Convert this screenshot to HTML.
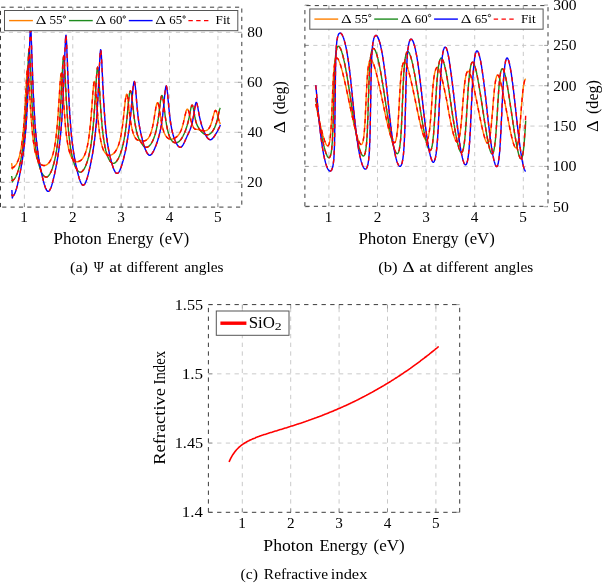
<!DOCTYPE html>
<html><head><meta charset="utf-8"><style>
html,body{margin:0;padding:0;background:#fff;}
body{width:602px;height:583px;overflow:hidden;}
svg{display:block;will-change:transform;}
text{font-family:"Liberation Serif",serif;font-kerning:none;}
</style></head><body>
<svg width="602" height="583" viewBox="0 0 602 583">
<line x1="24.40" y1="207.10" x2="24.40" y2="7.20" style="stroke:#c4c4c4;stroke-width:0.9;stroke-dasharray:4.175 4.175;"/>
<line x1="72.78" y1="207.10" x2="72.78" y2="7.20" style="stroke:#c4c4c4;stroke-width:0.9;stroke-dasharray:4.175 4.175;"/>
<line x1="121.15" y1="207.10" x2="121.15" y2="7.20" style="stroke:#c4c4c4;stroke-width:0.9;stroke-dasharray:4.175 4.175;"/>
<line x1="169.53" y1="207.10" x2="169.53" y2="7.20" style="stroke:#c4c4c4;stroke-width:0.9;stroke-dasharray:4.175 4.175;"/>
<line x1="217.90" y1="207.10" x2="217.90" y2="7.20" style="stroke:#c4c4c4;stroke-width:0.9;stroke-dasharray:4.175 4.175;"/>
<line x1="0.50" y1="182.30" x2="241.80" y2="182.30" style="stroke:#c4c4c4;stroke-width:0.9;stroke-dasharray:4.175 4.175;"/>
<line x1="0.50" y1="132.30" x2="241.80" y2="132.30" style="stroke:#c4c4c4;stroke-width:0.9;stroke-dasharray:4.175 4.175;"/>
<line x1="0.50" y1="82.30" x2="241.80" y2="82.30" style="stroke:#c4c4c4;stroke-width:0.9;stroke-dasharray:4.175 4.175;"/>
<line x1="0.50" y1="32.30" x2="241.80" y2="32.30" style="stroke:#c4c4c4;stroke-width:0.9;stroke-dasharray:4.175 4.175;"/>
<line x1="24.40" y1="207.10" x2="24.40" y2="203.30" style="stroke:#777;stroke-width:0.7;"/>
<line x1="24.40" y1="7.20" x2="24.40" y2="11.00" style="stroke:#777;stroke-width:0.7;"/>
<line x1="72.78" y1="207.10" x2="72.78" y2="203.30" style="stroke:#777;stroke-width:0.7;"/>
<line x1="72.78" y1="7.20" x2="72.78" y2="11.00" style="stroke:#777;stroke-width:0.7;"/>
<line x1="121.15" y1="207.10" x2="121.15" y2="203.30" style="stroke:#777;stroke-width:0.7;"/>
<line x1="121.15" y1="7.20" x2="121.15" y2="11.00" style="stroke:#777;stroke-width:0.7;"/>
<line x1="169.53" y1="207.10" x2="169.53" y2="203.30" style="stroke:#777;stroke-width:0.7;"/>
<line x1="169.53" y1="7.20" x2="169.53" y2="11.00" style="stroke:#777;stroke-width:0.7;"/>
<line x1="217.90" y1="207.10" x2="217.90" y2="203.30" style="stroke:#777;stroke-width:0.7;"/>
<line x1="217.90" y1="7.20" x2="217.90" y2="11.00" style="stroke:#777;stroke-width:0.7;"/>
<line x1="0.50" y1="182.30" x2="4.30" y2="182.30" style="stroke:#777;stroke-width:0.7;"/>
<line x1="241.80" y1="182.30" x2="238.00" y2="182.30" style="stroke:#777;stroke-width:0.7;"/>
<line x1="0.50" y1="132.30" x2="4.30" y2="132.30" style="stroke:#777;stroke-width:0.7;"/>
<line x1="241.80" y1="132.30" x2="238.00" y2="132.30" style="stroke:#777;stroke-width:0.7;"/>
<line x1="0.50" y1="82.30" x2="4.30" y2="82.30" style="stroke:#777;stroke-width:0.7;"/>
<line x1="241.80" y1="82.30" x2="238.00" y2="82.30" style="stroke:#777;stroke-width:0.7;"/>
<line x1="0.50" y1="32.30" x2="4.30" y2="32.30" style="stroke:#777;stroke-width:0.7;"/>
<line x1="241.80" y1="32.30" x2="238.00" y2="32.30" style="stroke:#777;stroke-width:0.7;"/>
<line x1="328.90" y1="206.30" x2="328.90" y2="5.60" style="stroke:#c4c4c4;stroke-width:0.9;stroke-dasharray:4.175 4.175;"/>
<line x1="377.50" y1="206.30" x2="377.50" y2="5.60" style="stroke:#c4c4c4;stroke-width:0.9;stroke-dasharray:4.175 4.175;"/>
<line x1="426.10" y1="206.30" x2="426.10" y2="5.60" style="stroke:#c4c4c4;stroke-width:0.9;stroke-dasharray:4.175 4.175;"/>
<line x1="474.70" y1="206.30" x2="474.70" y2="5.60" style="stroke:#c4c4c4;stroke-width:0.9;stroke-dasharray:4.175 4.175;"/>
<line x1="523.30" y1="206.30" x2="523.30" y2="5.60" style="stroke:#c4c4c4;stroke-width:0.9;stroke-dasharray:4.175 4.175;"/>
<line x1="304.90" y1="166.40" x2="548.00" y2="166.40" style="stroke:#c4c4c4;stroke-width:0.9;stroke-dasharray:4.175 4.175;"/>
<line x1="304.90" y1="126.07" x2="548.00" y2="126.07" style="stroke:#c4c4c4;stroke-width:0.9;stroke-dasharray:4.175 4.175;"/>
<line x1="304.90" y1="85.73" x2="548.00" y2="85.73" style="stroke:#c4c4c4;stroke-width:0.9;stroke-dasharray:4.175 4.175;"/>
<line x1="304.90" y1="45.40" x2="548.00" y2="45.40" style="stroke:#c4c4c4;stroke-width:0.9;stroke-dasharray:4.175 4.175;"/>
<line x1="328.90" y1="206.30" x2="328.90" y2="202.50" style="stroke:#777;stroke-width:0.7;"/>
<line x1="328.90" y1="5.60" x2="328.90" y2="9.40" style="stroke:#777;stroke-width:0.7;"/>
<line x1="377.50" y1="206.30" x2="377.50" y2="202.50" style="stroke:#777;stroke-width:0.7;"/>
<line x1="377.50" y1="5.60" x2="377.50" y2="9.40" style="stroke:#777;stroke-width:0.7;"/>
<line x1="426.10" y1="206.30" x2="426.10" y2="202.50" style="stroke:#777;stroke-width:0.7;"/>
<line x1="426.10" y1="5.60" x2="426.10" y2="9.40" style="stroke:#777;stroke-width:0.7;"/>
<line x1="474.70" y1="206.30" x2="474.70" y2="202.50" style="stroke:#777;stroke-width:0.7;"/>
<line x1="474.70" y1="5.60" x2="474.70" y2="9.40" style="stroke:#777;stroke-width:0.7;"/>
<line x1="523.30" y1="206.30" x2="523.30" y2="202.50" style="stroke:#777;stroke-width:0.7;"/>
<line x1="523.30" y1="5.60" x2="523.30" y2="9.40" style="stroke:#777;stroke-width:0.7;"/>
<line x1="304.90" y1="206.73" x2="308.70" y2="206.73" style="stroke:#777;stroke-width:0.7;"/>
<line x1="548.00" y1="206.73" x2="544.20" y2="206.73" style="stroke:#777;stroke-width:0.7;"/>
<line x1="304.90" y1="166.40" x2="308.70" y2="166.40" style="stroke:#777;stroke-width:0.7;"/>
<line x1="548.00" y1="166.40" x2="544.20" y2="166.40" style="stroke:#777;stroke-width:0.7;"/>
<line x1="304.90" y1="126.07" x2="308.70" y2="126.07" style="stroke:#777;stroke-width:0.7;"/>
<line x1="548.00" y1="126.07" x2="544.20" y2="126.07" style="stroke:#777;stroke-width:0.7;"/>
<line x1="304.90" y1="85.73" x2="308.70" y2="85.73" style="stroke:#777;stroke-width:0.7;"/>
<line x1="548.00" y1="85.73" x2="544.20" y2="85.73" style="stroke:#777;stroke-width:0.7;"/>
<line x1="304.90" y1="45.40" x2="308.70" y2="45.40" style="stroke:#777;stroke-width:0.7;"/>
<line x1="548.00" y1="45.40" x2="544.20" y2="45.40" style="stroke:#777;stroke-width:0.7;"/>
<line x1="304.90" y1="5.07" x2="308.70" y2="5.07" style="stroke:#777;stroke-width:0.7;"/>
<line x1="548.00" y1="5.07" x2="544.20" y2="5.07" style="stroke:#777;stroke-width:0.7;"/>
<line x1="242.30" y1="512.30" x2="242.30" y2="304.60" style="stroke:#c4c4c4;stroke-width:0.9;stroke-dasharray:4.350 4.350;"/>
<line x1="290.70" y1="512.30" x2="290.70" y2="304.60" style="stroke:#c4c4c4;stroke-width:0.9;stroke-dasharray:4.350 4.350;"/>
<line x1="339.10" y1="512.30" x2="339.10" y2="304.60" style="stroke:#c4c4c4;stroke-width:0.9;stroke-dasharray:4.350 4.350;"/>
<line x1="387.50" y1="512.30" x2="387.50" y2="304.60" style="stroke:#c4c4c4;stroke-width:0.9;stroke-dasharray:4.350 4.350;"/>
<line x1="435.90" y1="512.30" x2="435.90" y2="304.60" style="stroke:#c4c4c4;stroke-width:0.9;stroke-dasharray:4.350 4.350;"/>
<line x1="208.40" y1="443.07" x2="459.70" y2="443.07" style="stroke:#c4c4c4;stroke-width:0.9;stroke-dasharray:4.350 4.350;"/>
<line x1="208.40" y1="373.84" x2="459.70" y2="373.84" style="stroke:#c4c4c4;stroke-width:0.9;stroke-dasharray:4.350 4.350;"/>
<line x1="242.30" y1="512.30" x2="242.30" y2="508.50" style="stroke:#777;stroke-width:0.7;"/>
<line x1="242.30" y1="304.60" x2="242.30" y2="308.40" style="stroke:#777;stroke-width:0.7;"/>
<line x1="290.70" y1="512.30" x2="290.70" y2="508.50" style="stroke:#777;stroke-width:0.7;"/>
<line x1="290.70" y1="304.60" x2="290.70" y2="308.40" style="stroke:#777;stroke-width:0.7;"/>
<line x1="339.10" y1="512.30" x2="339.10" y2="508.50" style="stroke:#777;stroke-width:0.7;"/>
<line x1="339.10" y1="304.60" x2="339.10" y2="308.40" style="stroke:#777;stroke-width:0.7;"/>
<line x1="387.50" y1="512.30" x2="387.50" y2="508.50" style="stroke:#777;stroke-width:0.7;"/>
<line x1="387.50" y1="304.60" x2="387.50" y2="308.40" style="stroke:#777;stroke-width:0.7;"/>
<line x1="435.90" y1="512.30" x2="435.90" y2="508.50" style="stroke:#777;stroke-width:0.7;"/>
<line x1="435.90" y1="304.60" x2="435.90" y2="308.40" style="stroke:#777;stroke-width:0.7;"/>
<line x1="208.40" y1="512.31" x2="212.20" y2="512.31" style="stroke:#777;stroke-width:0.7;"/>
<line x1="459.70" y1="512.31" x2="455.90" y2="512.31" style="stroke:#777;stroke-width:0.7;"/>
<line x1="208.40" y1="443.07" x2="212.20" y2="443.07" style="stroke:#777;stroke-width:0.7;"/>
<line x1="459.70" y1="443.07" x2="455.90" y2="443.07" style="stroke:#777;stroke-width:0.7;"/>
<line x1="208.40" y1="373.84" x2="212.20" y2="373.84" style="stroke:#777;stroke-width:0.7;"/>
<line x1="459.70" y1="373.84" x2="455.90" y2="373.84" style="stroke:#777;stroke-width:0.7;"/>
<line x1="208.40" y1="304.60" x2="212.20" y2="304.60" style="stroke:#777;stroke-width:0.7;"/>
<line x1="459.70" y1="304.60" x2="455.90" y2="304.60" style="stroke:#777;stroke-width:0.7;"/>
<polyline points="11.6,163.2 12.4,169.0 13.2,167.4 13.4,167.3 13.7,167.1 13.9,167.0 14.1,166.8 14.4,166.6 14.6,166.3 14.8,166.1 15.1,165.9 15.3,165.6 15.5,165.3 15.8,165.0 16.0,164.7 16.2,164.3 16.5,163.9 16.7,163.5 16.9,163.1 17.2,162.6 17.4,162.1 17.6,161.6 17.8,161.1 18.1,160.5 18.3,159.9 18.5,159.2 18.8,158.5 19.0,157.8 19.2,157.0 19.5,156.1 19.7,155.2 19.9,154.2 20.2,153.2 20.4,152.1 20.6,151.0 20.9,149.7 21.1,148.4 21.3,147.0 21.6,145.5 21.8,143.9 22.0,142.1 22.3,140.3 22.5,138.3 22.7,136.2 23.0,133.9 23.2,131.5 23.4,129.0 23.7,126.2 23.9,123.3 24.1,120.2 24.4,116.9 24.6,113.4 24.8,109.7 25.1,105.8 25.3,101.8 25.5,97.6 25.8,93.3 26.0,89.1 26.2,84.8 26.4,80.7 26.7,77.0 26.9,73.6 27.1,70.9 27.4,69.0 27.6,68.1 27.8,68.1 28.1,69.2 28.3,71.1 28.5,73.9 28.8,77.2 29.0,81.0 29.2,85.1 29.5,89.3 29.7,93.6 29.9,97.8 30.2,102.0 30.4,106.0 30.6,109.8 30.9,113.4 31.1,116.9 31.3,120.2 31.6,123.2 31.8,126.1 32.0,128.8 32.3,131.3 32.5,133.7 32.7,135.9 33.0,138.0 33.2,139.9 33.4,141.7 33.7,143.4 33.9,145.0 34.1,146.4 34.4,147.8 34.6,149.1 34.8,150.3 35.0,151.4 35.3,152.4 35.5,153.4 35.7,154.3 36.0,155.2 36.2,156.0 36.4,156.7 36.7,157.4 36.9,158.1 37.1,158.7 37.4,159.3 37.6,159.8 37.8,160.3 38.1,160.8 38.3,161.2 38.5,161.6 38.8,162.0 39.0,162.3 39.2,162.7 39.5,163.0 39.7,163.3 39.9,163.5 40.2,163.8 40.4,164.0 40.6,164.2 40.9,164.4 41.1,164.6 41.3,164.7 41.6,164.9 41.8,165.0 42.0,165.1 42.3,165.2 42.5,165.3 42.7,165.3 43.0,165.4 43.2,165.5 43.4,165.5 43.7,165.5 43.9,165.5 44.1,165.5 44.3,165.5 44.6,165.5 44.8,165.5 45.0,165.4 45.3,165.3 45.5,165.3 45.7,165.2 46.0,165.1 46.2,165.0 46.4,164.9 46.7,164.8 46.9,164.6 47.1,164.5 47.4,164.3 47.6,164.1 47.8,163.9 48.1,163.7 48.3,163.5 48.5,163.2 48.8,163.0 49.0,162.7 49.2,162.4 49.5,162.1 49.7,161.8 49.9,161.4 50.2,161.0 50.4,160.6 50.6,160.2 50.9,159.7 51.1,159.2 51.3,158.7 51.6,158.2 51.8,157.6 52.0,157.0 52.3,156.3 52.5,155.6 52.7,154.9 52.9,154.1 53.2,153.2 53.4,152.3 53.6,151.4 53.9,150.4 54.1,149.3 54.3,148.1 54.6,146.9 54.8,145.6 55.0,144.2 55.3,142.7 55.5,141.1 55.7,139.4 56.0,137.5 56.2,135.6 56.4,133.5 56.7,131.3 56.9,129.0 57.1,126.5 57.4,123.8 57.6,121.0 57.8,118.0 58.1,114.8 58.3,111.5 58.5,108.0 58.8,104.4 59.0,100.7 59.2,96.9 59.5,93.1 59.7,89.4 59.9,85.8 60.2,82.4 60.4,79.4 60.6,76.9 60.9,75.0 61.1,73.9 61.3,73.5 61.5,74.0 61.8,75.3 62.0,77.3 62.2,79.9 62.5,83.0 62.7,86.4 62.9,90.0 63.2,93.7 63.4,97.5 63.6,101.2 63.9,104.9 64.1,108.4 64.3,111.8 64.6,115.1 64.8,118.1 65.0,121.1 65.3,123.8 65.5,126.4 65.7,128.8 66.0,131.1 66.2,133.2 66.4,135.2 66.7,137.1 66.9,138.9 67.1,140.5 67.4,142.0 67.6,143.4 67.8,144.8 68.1,146.0 68.3,147.2 68.5,148.3 68.8,149.3 69.0,150.2 69.2,151.1 69.5,151.9 69.7,152.7 69.9,153.4 70.2,154.1 70.4,154.7 70.6,155.3 70.8,155.9 71.1,156.4 71.3,156.9 71.5,157.3 71.8,157.7 72.0,158.1 72.2,158.5 72.5,158.8 72.7,159.1 72.9,159.4 73.2,159.7 73.4,159.9 73.6,160.2 73.9,160.4 74.1,160.6 74.3,160.7 74.6,160.9 74.8,161.0 75.0,161.2 75.3,161.3 75.5,161.4 75.7,161.5 76.0,161.5 76.2,161.6 76.4,161.6 76.7,161.7 76.9,161.7 77.1,161.7 77.4,161.7 77.6,161.7 77.8,161.7 78.1,161.6 78.3,161.6 78.5,161.5 78.8,161.5 79.0,161.4 79.2,161.3 79.4,161.2 79.7,161.1 79.9,161.0 80.1,160.8 80.4,160.7 80.6,160.5 80.8,160.3 81.1,160.1 81.3,159.9 81.5,159.7 81.8,159.5 82.0,159.2 82.2,159.0 82.5,158.7 82.7,158.4 82.9,158.0 83.2,157.7 83.4,157.3 83.6,156.9 83.9,156.5 84.1,156.1 84.3,155.6 84.6,155.1 84.8,154.6 85.0,154.0 85.3,153.4 85.5,152.8 85.7,152.1 86.0,151.4 86.2,150.6 86.4,149.8 86.7,149.0 86.9,148.1 87.1,147.1 87.4,146.0 87.6,144.9 87.8,143.8 88.0,142.5 88.3,141.2 88.5,139.8 88.7,138.3 89.0,136.7 89.2,134.9 89.4,133.1 89.7,131.2 89.9,129.1 90.1,126.9 90.4,124.6 90.6,122.2 90.8,119.6 91.1,116.9 91.3,114.0 91.5,111.1 91.8,108.1 92.0,104.9 92.2,101.8 92.5,98.6 92.7,95.5 92.9,92.5 93.2,89.7 93.4,87.1 93.6,85.0 93.9,83.2 94.1,82.1 94.3,81.5 94.6,81.5 94.8,82.2 95.0,83.4 95.3,85.2 95.5,87.4 95.7,89.9 96.0,92.8 96.2,95.7 96.4,98.8 96.7,101.9 96.9,105.0 97.1,108.1 97.3,111.0 97.6,113.9 97.8,116.6 98.0,119.3 98.3,121.7 98.5,124.1 98.7,126.3 99.0,128.4 99.2,130.3 99.4,132.1 99.7,133.9 99.9,135.5 100.1,137.0 100.4,138.4 100.6,139.7 100.8,140.9 101.1,142.0 101.3,143.1 101.5,144.1 101.8,145.0 102.0,145.8 102.2,146.6 102.5,147.4 102.7,148.1 102.9,148.7 103.2,149.3 103.4,149.9 103.6,150.4 103.9,150.8 104.1,151.3 104.3,151.7 104.6,152.1 104.8,152.4 105.0,152.8 105.3,153.1 105.5,153.3 105.7,153.6 105.9,153.8 106.2,154.0 106.4,154.2 106.6,154.4 106.9,154.5 107.1,154.7 107.3,154.8 107.6,154.9 107.8,155.0 108.0,155.1 108.3,155.1 108.5,155.2 108.7,155.2 109.0,155.2 109.2,155.3 109.4,155.3 109.7,155.3 109.9,155.2 110.1,155.2 110.4,155.2 110.6,155.1 110.8,155.1 111.1,155.0 111.3,154.9 111.5,154.8 111.8,154.7 112.0,154.6 112.2,154.5 112.5,154.3 112.7,154.2 112.9,154.0 113.2,153.8 113.4,153.7 113.6,153.5 113.9,153.2 114.1,153.0 114.3,152.8 114.6,152.5 114.8,152.2 115.0,152.0 115.2,151.6 115.5,151.3 115.7,151.0 115.9,150.6 116.2,150.3 116.4,149.9 116.6,149.4 116.9,149.0 117.1,148.5 117.3,148.0 117.6,147.5 117.8,146.9 118.0,146.4 118.3,145.7 118.5,145.1 118.7,144.4 119.0,143.7 119.2,142.9 119.4,142.1 119.7,141.2 119.9,140.3 120.1,139.3 120.4,138.3 120.6,137.2 120.8,136.1 121.1,134.9 121.3,133.6 121.5,132.2 121.8,130.8 122.0,129.3 122.2,127.7 122.5,126.0 122.7,124.2 122.9,122.3 123.2,120.4 123.4,118.4 123.6,116.3 123.8,114.1 124.1,111.9 124.3,109.7 124.5,107.5 124.8,105.3 125.0,103.2 125.2,101.1 125.5,99.3 125.7,97.6 125.9,96.2 126.2,95.2 126.4,94.5 126.6,94.2 126.9,94.4 127.1,95.0 127.3,96.0 127.6,97.3 127.8,98.9 128.0,100.8 128.3,102.8 128.5,104.8 128.7,106.9 129.0,109.0 129.2,111.0 129.4,113.0 129.7,114.8 129.9,116.6 130.1,118.3 130.4,119.9 130.6,121.4 130.8,122.8 131.1,124.2 131.3,125.4 131.5,126.6 131.8,127.7 132.0,128.8 132.2,129.7 132.4,130.6 132.7,131.5 132.9,132.3 133.1,133.0 133.4,133.7 133.6,134.4 133.8,135.0 134.1,135.5 134.3,136.1 134.5,136.5 134.8,137.0 135.0,137.4 135.2,137.8 135.5,138.1 135.7,138.5 135.9,138.8 136.2,139.0 136.4,139.3 136.6,139.5 136.9,139.6 137.1,139.8 137.3,139.9 137.6,140.0 137.8,140.1 138.0,140.2 138.3,140.2 138.5,140.3 138.7,140.3 139.0,140.3 139.2,140.3 139.4,140.3 139.7,140.3 139.9,140.3 140.1,140.4 140.4,140.4 140.6,140.4 140.8,140.4 141.1,140.5 141.3,140.5 141.5,140.6 141.7,140.7 142.0,140.7 142.2,140.8 142.4,140.9 142.7,140.9 142.9,141.0 143.1,141.0 143.4,141.0 143.6,141.0 143.8,141.0 144.1,141.0 144.3,141.0 144.5,140.9 144.8,140.8 145.0,140.7 145.2,140.6 145.5,140.5 145.7,140.4 145.9,140.3 146.2,140.1 146.4,140.0 146.6,139.8 146.9,139.6 147.1,139.4 147.3,139.2 147.6,139.0 147.8,138.8 148.0,138.5 148.3,138.2 148.5,137.9 148.7,137.6 149.0,137.2 149.2,136.8 149.4,136.4 149.7,136.0 149.9,135.5 150.1,134.9 150.3,134.4 150.6,133.8 150.8,133.2 151.0,132.5 151.3,131.8 151.5,131.0 151.7,130.2 152.0,129.3 152.2,128.4 152.4,127.4 152.7,126.4 152.9,125.3 153.1,124.1 153.4,122.9 153.6,121.6 153.8,120.3 154.1,118.9 154.3,117.5 154.5,116.0 154.8,114.5 155.0,113.0 155.2,111.5 155.5,110.1 155.7,108.6 155.9,107.3 156.2,106.1 156.4,105.0 156.6,104.1 156.9,103.4 157.1,102.9 157.3,102.6 157.6,102.6 157.8,102.8 158.0,103.2 158.3,103.9 158.5,104.8 158.7,105.8 158.9,107.0 159.2,108.3 159.4,109.7 159.6,111.2 159.9,112.7 160.1,114.1 160.3,115.6 160.6,117.1 160.8,118.5 161.0,119.9 161.3,121.2 161.5,122.4 161.7,123.6 162.0,124.8 162.2,125.9 162.4,126.9 162.7,127.8 162.9,128.7 163.1,129.5 163.4,130.3 163.6,131.1 163.8,131.7 164.1,132.4 164.3,133.0 164.5,133.5 164.8,134.0 165.0,134.5 165.2,135.0 165.5,135.4 165.7,135.8 165.9,136.1 166.2,136.4 166.4,136.7 166.6,137.0 166.9,137.3 167.1,137.5 167.3,137.7 167.6,137.9 167.8,138.1 168.0,138.3 168.2,138.4 168.5,138.5 168.7,138.7 168.9,138.8 169.2,138.9 169.4,139.0 169.6,139.0 169.9,139.1 170.1,139.1 170.3,139.2 170.6,139.2 170.8,139.2 171.0,139.2 171.3,139.2 171.5,139.2 171.7,139.2 172.0,139.1 172.2,139.1 172.4,139.0 172.7,139.0 172.9,138.9 173.1,138.8 173.4,138.8 173.6,138.7 173.8,138.6 174.1,138.5 174.3,138.4 174.5,138.2 174.8,138.1 175.0,138.0 175.2,137.9 175.5,137.7 175.7,137.6 175.9,137.4 176.2,137.2 176.4,137.0 176.6,136.9 176.8,136.7 177.1,136.5 177.3,136.2 177.5,136.0 177.8,135.8 178.0,135.5 178.2,135.2 178.5,135.0 178.7,134.7 178.9,134.4 179.2,134.0 179.4,133.7 179.6,133.3 179.9,132.9 180.1,132.4 180.3,132.0 180.6,131.5 180.8,131.0 181.0,130.4 181.3,129.8 181.5,129.2 181.7,128.5 182.0,127.8 182.2,127.1 182.4,126.3 182.7,125.5 182.9,124.7 183.1,123.8 183.4,122.9 183.6,121.9 183.8,120.9 184.1,119.9 184.3,118.9 184.5,117.8 184.8,116.8 185.0,115.7 185.2,114.7 185.5,113.7 185.7,112.8 185.9,111.9 186.1,111.1 186.4,110.4 186.6,109.9 186.8,109.5 187.1,109.2 187.3,109.1 187.5,109.1 187.8,109.3 188.0,109.7 188.2,110.1 188.5,110.7 188.7,111.4 188.9,112.2 189.2,113.1 189.4,114.0 189.6,114.9 189.9,115.9 190.1,116.9 190.3,117.9 190.6,118.8 190.8,119.8 191.0,120.7 191.3,121.5 191.5,122.4 191.7,123.1 192.0,123.9 192.2,124.5 192.4,125.2 192.7,125.7 192.9,126.3 193.1,126.7 193.4,127.2 193.6,127.6 193.8,127.9 194.1,128.2 194.3,128.5 194.5,128.7 194.7,128.9 195.0,129.0 195.2,129.2 195.4,129.3 195.7,129.3 195.9,129.4 196.1,129.4 196.4,129.4 196.6,129.4 196.8,129.4 197.1,129.4 197.3,129.4 197.5,129.4 197.8,129.5 198.0,129.5 198.2,129.5 198.5,129.6 198.7,129.7 198.9,129.8 199.2,129.9 199.4,129.9 199.6,130.0 199.9,130.1 200.1,130.2 200.3,130.2 200.6,130.3 200.8,130.4 201.0,130.4 201.3,130.5 201.5,130.5 201.7,130.6 202.0,130.6 202.2,130.7 202.4,130.7 202.7,130.8 202.9,130.8 203.1,130.8 203.3,130.8 203.6,130.9 203.8,130.9 204.0,130.9 204.3,130.9 204.5,130.9 204.7,130.9 205.0,130.8 205.2,130.8 205.4,130.8 205.7,130.7 205.9,130.6 206.1,130.6 206.4,130.5 206.6,130.4 206.8,130.3 207.1,130.1 207.3,130.0 207.5,129.8 207.8,129.6 208.0,129.4 208.2,129.2 208.5,128.9 208.7,128.6 208.9,128.3 209.2,128.0 209.4,127.6 209.6,127.2 209.9,126.8 210.1,126.3 210.3,125.8 210.6,125.3 210.8,124.7 211.0,124.1 211.3,123.4 211.5,122.7 211.7,122.0 212.0,121.2 212.2,120.4 212.4,119.5 212.6,118.6 212.9,117.7 213.1,116.8 213.3,115.9 213.6,115.0 213.8,114.1 214.0,113.3 214.3,112.5 214.5,111.9 214.7,111.3 215.0,110.9 215.2,110.6 215.4,110.5 215.7,110.5 215.9,110.7 216.1,111.0 216.4,111.5 216.6,112.1 216.8,112.8 217.1,113.5 217.3,114.4 217.5,115.2 217.8,116.1 218.0,117.0 218.2,117.9 218.5,118.7 218.7,119.5 218.9,120.3 219.2,121.1 219.4,121.8 219.6,122.4 219.9,123.0 220.1,123.6 220.3,124.1" style="fill:none;stroke:#ff8000;stroke-width:1.4;stroke-linejoin:round"/>
<polyline points="11.6,176.0 12.6,181.8 13.4,179.8 13.7,179.6 13.9,179.4 14.1,179.2 14.4,178.9 14.6,178.6 14.8,178.2 15.1,177.9 15.3,177.5 15.5,177.1 15.8,176.6 16.0,176.2 16.2,175.7 16.5,175.2 16.7,174.6 16.9,174.1 17.2,173.5 17.4,172.9 17.6,172.2 17.8,171.6 18.1,170.8 18.3,170.1 18.5,169.4 18.8,168.6 19.0,167.7 19.2,166.9 19.5,166.0 19.7,165.0 19.9,164.0 20.2,163.0 20.4,162.0 20.6,160.8 20.9,159.7 21.1,158.5 21.3,157.2 21.6,155.8 21.8,154.4 22.0,152.9 22.3,151.4 22.5,149.7 22.7,148.0 23.0,146.1 23.2,144.2 23.4,142.1 23.7,140.0 23.9,137.6 24.1,135.2 24.4,132.6 24.6,129.8 24.8,126.8 25.1,123.6 25.3,120.3 25.5,116.7 25.8,112.9 26.0,108.8 26.2,104.5 26.4,100.0 26.7,95.2 26.9,90.2 27.1,85.0 27.4,79.6 27.6,74.2 27.8,68.8 28.1,63.5 28.3,58.6 28.5,54.4 28.8,51.2 29.0,49.3 29.2,48.9 29.5,50.2 29.7,52.9 29.9,56.8 30.2,61.4 30.4,66.5 30.6,71.9 30.9,77.3 31.1,82.7 31.3,88.0 31.6,93.0 31.8,97.9 32.0,102.5 32.3,106.9 32.5,111.0 32.7,114.9 33.0,118.5 33.2,121.9 33.4,125.1 33.7,128.2 33.9,131.0 34.1,133.6 34.4,136.1 34.6,138.5 34.8,140.6 35.0,142.7 35.3,144.7 35.5,146.5 35.7,148.2 36.0,149.9 36.2,151.4 36.4,152.9 36.7,154.3 36.9,155.6 37.1,156.8 37.4,158.0 37.6,159.2 37.8,160.3 38.1,161.3 38.3,162.3 38.5,163.2 38.8,164.1 39.0,165.0 39.2,165.8 39.5,166.6 39.7,167.3 39.9,168.0 40.2,168.7 40.4,169.4 40.6,170.0 40.9,170.6 41.1,171.1 41.3,171.7 41.6,172.2 41.8,172.7 42.0,173.1 42.3,173.6 42.5,174.0 42.7,174.4 43.0,174.7 43.2,175.0 43.4,175.4 43.7,175.6 43.9,175.9 44.1,176.1 44.3,176.3 44.6,176.5 44.8,176.7 45.0,176.8 45.3,176.9 45.5,177.0 45.7,177.1 46.0,177.1 46.2,177.1 46.4,177.1 46.7,177.0 46.9,177.0 47.1,176.9 47.4,176.8 47.6,176.6 47.8,176.4 48.1,176.3 48.3,176.0 48.5,175.8 48.8,175.5 49.0,175.2 49.2,174.9 49.5,174.6 49.7,174.2 49.9,173.9 50.2,173.4 50.4,173.0 50.6,172.6 50.9,172.1 51.1,171.6 51.3,171.0 51.6,170.5 51.8,169.9 52.0,169.3 52.3,168.7 52.5,168.0 52.7,167.3 52.9,166.6 53.2,165.8 53.4,165.0 53.6,164.2 53.9,163.4 54.1,162.5 54.3,161.6 54.6,160.6 54.8,159.6 55.0,158.6 55.3,157.5 55.5,156.3 55.7,155.1 56.0,153.8 56.2,152.5 56.4,151.1 56.7,149.7 56.9,148.1 57.1,146.5 57.4,144.8 57.6,142.9 57.8,141.0 58.1,139.0 58.3,136.8 58.5,134.5 58.8,132.1 59.0,129.5 59.2,126.8 59.5,123.8 59.7,120.7 59.9,117.4 60.2,113.9 60.4,110.2 60.6,106.3 60.9,102.2 61.1,97.9 61.3,93.4 61.5,88.7 61.8,83.9 62.0,79.1 62.2,74.4 62.5,69.8 62.7,65.5 62.9,61.9 63.2,59.0 63.4,57.1 63.6,56.4 63.9,57.0 64.1,58.8 64.3,61.6 64.6,65.2 64.8,69.4 65.0,74.0 65.3,78.7 65.5,83.5 65.7,88.2 66.0,92.9 66.2,97.4 66.4,101.7 66.7,105.8 66.9,109.7 67.1,113.4 67.4,116.8 67.6,120.1 67.8,123.2 68.1,126.0 68.3,128.8 68.5,131.3 68.8,133.7 69.0,135.9 69.2,138.0 69.5,140.0 69.7,141.9 69.9,143.7 70.2,145.3 70.4,146.9 70.6,148.4 70.8,149.8 71.1,151.1 71.3,152.4 71.5,153.6 71.8,154.7 72.0,155.8 72.2,156.8 72.5,157.8 72.7,158.7 72.9,159.6 73.2,160.4 73.4,161.2 73.6,162.0 73.9,162.7 74.1,163.4 74.3,164.1 74.6,164.8 74.8,165.4 75.0,165.9 75.3,166.5 75.5,167.0 75.7,167.5 76.0,168.0 76.2,168.4 76.4,168.8 76.7,169.2 76.9,169.6 77.1,169.9 77.4,170.2 77.6,170.5 77.8,170.8 78.1,171.0 78.3,171.3 78.5,171.5 78.8,171.6 79.0,171.8 79.2,171.9 79.4,172.0 79.7,172.1 79.9,172.1 80.1,172.2 80.4,172.2 80.6,172.1 80.8,172.1 81.1,172.0 81.3,171.9 81.5,171.8 81.8,171.7 82.0,171.5 82.2,171.3 82.5,171.1 82.7,170.9 82.9,170.6 83.2,170.3 83.4,170.0 83.6,169.7 83.9,169.4 84.1,169.0 84.3,168.6 84.6,168.2 84.8,167.7 85.0,167.2 85.3,166.8 85.5,166.2 85.7,165.7 86.0,165.1 86.2,164.5 86.4,163.9 86.7,163.3 86.9,162.6 87.1,161.9 87.4,161.2 87.6,160.4 87.8,159.7 88.0,158.8 88.3,158.0 88.5,157.1 88.7,156.2 89.0,155.2 89.2,154.2 89.4,153.1 89.7,152.0 89.9,150.8 90.1,149.6 90.4,148.3 90.6,147.0 90.8,145.6 91.1,144.1 91.3,142.5 91.5,140.9 91.8,139.1 92.0,137.3 92.2,135.3 92.5,133.2 92.7,131.0 92.9,128.7 93.2,126.2 93.4,123.6 93.6,120.9 93.9,117.9 94.1,114.8 94.3,111.6 94.6,108.2 94.8,104.6 95.0,100.9 95.3,97.0 95.5,93.1 95.7,89.1 96.0,85.1 96.2,81.3 96.4,77.7 96.7,74.4 96.9,71.6 97.1,69.4 97.3,68.0 97.6,67.4 97.8,67.8 98.0,69.0 98.3,71.0 98.5,73.7 98.7,76.9 99.0,80.4 99.2,84.2 99.4,88.1 99.7,92.0 99.9,95.9 100.1,99.7 100.4,103.4 100.6,107.0 100.8,110.4 101.1,113.6 101.3,116.6 101.5,119.5 101.8,122.2 102.0,124.8 102.2,127.2 102.5,129.4 102.7,131.6 102.9,133.5 103.2,135.4 103.4,137.2 103.6,138.8 103.9,140.4 104.1,141.8 104.3,143.2 104.6,144.5 104.8,145.7 105.0,146.9 105.3,148.0 105.5,149.0 105.7,150.0 105.9,150.9 106.2,151.8 106.4,152.6 106.6,153.4 106.9,154.2 107.1,154.9 107.3,155.6 107.6,156.2 107.8,156.8 108.0,157.4 108.3,157.9 108.5,158.4 108.7,158.9 109.0,159.4 109.2,159.8 109.4,160.2 109.7,160.6 109.9,161.0 110.1,161.3 110.4,161.6 110.6,161.9 110.8,162.1 111.1,162.4 111.3,162.6 111.5,162.8 111.8,162.9 112.0,163.1 112.2,163.2 112.5,163.3 112.7,163.4 112.9,163.4 113.2,163.4 113.4,163.4 113.6,163.4 113.9,163.4 114.1,163.3 114.3,163.2 114.6,163.1 114.8,163.0 115.0,162.8 115.2,162.7 115.5,162.5 115.7,162.2 115.9,162.0 116.2,161.7 116.4,161.5 116.6,161.2 116.9,160.8 117.1,160.5 117.3,160.1 117.6,159.8 117.8,159.4 118.0,159.0 118.3,158.5 118.5,158.1 118.7,157.6 119.0,157.1 119.2,156.6 119.4,156.0 119.7,155.5 119.9,154.9 120.1,154.3 120.4,153.7 120.6,153.0 120.8,152.3 121.1,151.6 121.3,150.9 121.5,150.2 121.8,149.4 122.0,148.6 122.2,147.8 122.5,146.9 122.7,146.0 122.9,145.0 123.2,144.0 123.4,143.0 123.6,141.9 123.8,140.8 124.1,139.6 124.3,138.3 124.5,137.0 124.8,135.6 125.0,134.1 125.2,132.6 125.5,131.0 125.7,129.3 125.9,127.5 126.2,125.6 126.4,123.5 126.6,121.4 126.9,119.1 127.1,116.7 127.3,114.3 127.6,111.8 127.8,109.3 128.0,106.7 128.3,104.3 128.5,101.9 128.7,99.6 129.0,97.5 129.2,95.6 129.4,94.0 129.7,92.7 129.9,91.7 130.1,91.1 130.4,90.8 130.6,90.9 130.8,91.4 131.1,92.1 131.3,93.3 131.5,94.7 131.8,96.3 132.0,98.2 132.2,100.1 132.4,102.2 132.7,104.3 132.9,106.4 133.1,108.5 133.4,110.6 133.6,112.6 133.8,114.6 134.1,116.5 134.3,118.3 134.5,120.0 134.8,121.6 135.0,123.2 135.2,124.6 135.5,126.0 135.7,127.3 135.9,128.6 136.2,129.7 136.4,130.8 136.6,131.8 136.9,132.8 137.1,133.6 137.3,134.5 137.6,135.2 137.8,135.9 138.0,136.6 138.3,137.2 138.5,137.7 138.7,138.3 139.0,138.8 139.2,139.2 139.4,139.7 139.7,140.1 139.9,140.5 140.1,140.9 140.4,141.2 140.6,141.6 140.8,142.0 141.1,142.3 141.3,142.7 141.5,143.1 141.7,143.5 142.0,143.9 142.2,144.2 142.4,144.6 142.7,144.9 142.9,145.3 143.1,145.6 143.4,145.9 143.6,146.1 143.8,146.3 144.1,146.5 144.3,146.7 144.5,146.9 144.8,147.0 145.0,147.1 145.2,147.1 145.5,147.2 145.7,147.2 145.9,147.2 146.2,147.3 146.4,147.3 146.6,147.2 146.9,147.2 147.1,147.2 147.3,147.1 147.6,147.0 147.8,146.9 148.0,146.8 148.3,146.7 148.5,146.5 148.7,146.4 149.0,146.2 149.2,146.0 149.4,145.8 149.7,145.5 149.9,145.3 150.1,145.0 150.3,144.7 150.6,144.4 150.8,144.1 151.0,143.7 151.3,143.4 151.5,143.0 151.7,142.6 152.0,142.2 152.2,141.8 152.4,141.3 152.7,140.9 152.9,140.4 153.1,139.9 153.4,139.3 153.6,138.8 153.8,138.2 154.1,137.6 154.3,136.9 154.5,136.2 154.8,135.5 155.0,134.8 155.2,134.0 155.5,133.2 155.7,132.3 155.9,131.4 156.2,130.4 156.4,129.3 156.6,128.2 156.9,127.1 157.1,125.9 157.3,124.6 157.6,123.2 157.8,121.8 158.0,120.3 158.3,118.7 158.5,117.0 158.7,115.3 158.9,113.5 159.2,111.6 159.4,109.7 159.6,107.8 159.9,105.9 160.1,104.1 160.3,102.3 160.6,100.6 160.8,99.1 161.0,97.8 161.3,96.7 161.5,96.0 161.7,95.6 162.0,95.5 162.2,95.7 162.4,96.3 162.7,97.2 162.9,98.4 163.1,99.8 163.4,101.4 163.6,103.2 163.8,105.0 164.1,107.0 164.3,108.9 164.5,110.8 164.8,112.7 165.0,114.5 165.2,116.3 165.5,118.0 165.7,119.6 165.9,121.2 166.2,122.6 166.4,124.0 166.6,125.3 166.9,126.6 167.1,127.7 167.3,128.8 167.6,129.9 167.8,130.8 168.0,131.7 168.2,132.6 168.5,133.4 168.7,134.1 168.9,134.9 169.2,135.5 169.4,136.2 169.6,136.7 169.9,137.3 170.1,137.8 170.3,138.3 170.6,138.7 170.8,139.2 171.0,139.6 171.3,139.9 171.5,140.3 171.7,140.6 172.0,140.9 172.2,141.1 172.4,141.4 172.7,141.6 172.9,141.8 173.1,142.0 173.4,142.1 173.6,142.3 173.8,142.4 174.1,142.5 174.3,142.6 174.5,142.7 174.8,142.8 175.0,142.8 175.2,142.8 175.5,142.9 175.7,142.9 175.9,142.8 176.2,142.8 176.4,142.8 176.6,142.7 176.8,142.7 177.1,142.6 177.3,142.5 177.5,142.4 177.8,142.3 178.0,142.2 178.2,142.0 178.5,141.9 178.7,141.7 178.9,141.5 179.2,141.4 179.4,141.2 179.6,140.9 179.9,140.7 180.1,140.5 180.3,140.2 180.6,139.9 180.8,139.6 181.0,139.3 181.3,139.0 181.5,138.6 181.7,138.2 182.0,137.9 182.2,137.5 182.4,137.1 182.7,136.6 182.9,136.2 183.1,135.7 183.4,135.3 183.6,134.8 183.8,134.3 184.1,133.8 184.3,133.3 184.5,132.8 184.8,132.2 185.0,131.6 185.2,131.1 185.5,130.5 185.7,129.8 185.9,129.2 186.1,128.6 186.4,127.9 186.6,127.2 186.8,126.5 187.1,125.7 187.3,124.9 187.5,124.1 187.8,123.3 188.0,122.4 188.2,121.4 188.5,120.4 188.7,119.4 188.9,118.3 189.2,117.2 189.4,116.0 189.6,114.8 189.9,113.6 190.1,112.3 190.3,111.1 190.6,109.8 190.8,108.7 191.0,107.6 191.3,106.7 191.5,106.0 191.7,105.4 192.0,105.1 192.2,105.1 192.4,105.3 192.7,105.8 192.9,106.5 193.1,107.4 193.4,108.5 193.6,109.7 193.8,110.9 194.1,112.3 194.3,113.6 194.5,114.9 194.7,116.2 195.0,117.4 195.2,118.6 195.4,119.6 195.7,120.6 195.9,121.5 196.1,122.3 196.4,123.1 196.6,123.8 196.8,124.4 197.1,125.0 197.3,125.5 197.5,126.0 197.8,126.4 198.0,126.8 198.2,127.2 198.5,127.6 198.7,128.0 198.9,128.4 199.2,128.8 199.4,129.1 199.6,129.5 199.9,129.8 200.1,130.1 200.3,130.4 200.6,130.7 200.8,131.0 201.0,131.2 201.3,131.5 201.5,131.7 201.7,132.0 202.0,132.2 202.2,132.4 202.4,132.6 202.7,132.8 202.9,133.0 203.1,133.2 203.3,133.4 203.6,133.6 203.8,133.7 204.0,133.9 204.3,134.0 204.5,134.1 204.7,134.3 205.0,134.4 205.2,134.5 205.4,134.5 205.7,134.6 205.9,134.7 206.1,134.7 206.4,134.8 206.6,134.8 206.8,134.8 207.1,134.9 207.3,134.8 207.5,134.8 207.8,134.8 208.0,134.8 208.2,134.7 208.5,134.6 208.7,134.6 208.9,134.5 209.2,134.4 209.4,134.2 209.6,134.1 209.9,134.0 210.1,133.8 210.3,133.6 210.6,133.4 210.8,133.2 211.0,133.0 211.3,132.8 211.5,132.6 211.7,132.3 212.0,132.0 212.2,131.7 212.4,131.4 212.6,131.1 212.9,130.8 213.1,130.4 213.3,130.1 213.6,129.7 213.8,129.3 214.0,128.8 214.3,128.4 214.5,127.9 214.7,127.4 215.0,126.9 215.2,126.3 215.4,125.7 215.7,125.1 215.9,124.4 216.1,123.7 216.4,123.0 216.6,122.2 216.8,121.3 217.1,120.5 217.3,119.5 217.5,118.6 217.8,117.6 218.0,116.5 218.2,115.4 218.5,114.3 218.7,113.3 218.9,112.2 219.2,111.2 219.4,110.2 219.6,109.4 219.9,108.7 220.1,108.1 220.3,107.8" style="fill:none;stroke:#1e8c1e;stroke-width:1.4;stroke-linejoin:round"/>
<polyline points="11.9,190.0 12.3,198.0 13.0,195.7 13.2,195.6 13.4,195.5 13.7,195.3 13.9,195.0 14.1,194.7 14.4,194.3 14.6,193.9 14.8,193.4 15.1,192.9 15.3,192.3 15.5,191.7 15.8,191.0 16.0,190.3 16.2,189.5 16.5,188.7 16.7,187.9 16.9,187.0 17.2,186.1 17.4,185.2 17.6,184.3 17.8,183.3 18.1,182.3 18.3,181.3 18.5,180.3 18.8,179.2 19.0,178.1 19.2,177.0 19.5,175.9 19.7,174.7 19.9,173.6 20.2,172.4 20.4,171.2 20.6,169.9 20.9,168.7 21.1,167.4 21.3,166.0 21.6,164.7 21.8,163.3 22.0,161.9 22.3,160.4 22.5,158.9 22.7,157.3 23.0,155.7 23.2,154.0 23.4,152.3 23.7,150.5 23.9,148.6 24.1,146.6 24.4,144.5 24.6,142.4 24.8,140.1 25.1,137.7 25.3,135.1 25.5,132.4 25.8,129.6 26.0,126.6 26.2,123.4 26.4,120.0 26.7,116.3 26.9,112.5 27.1,108.3 27.4,103.9 27.6,99.2 27.8,94.2 28.1,88.9 28.3,83.3 28.5,77.4 28.8,71.1 29.0,64.6 29.2,57.8 29.5,50.9 29.7,44.0 29.9,37.3 30.2,31.3 30.4,27.0 30.6,25.8 30.9,28.2 31.1,33.2 31.3,39.5 31.6,46.3 31.8,53.2 32.0,60.1 32.3,66.7 32.5,73.2 32.7,79.3 33.0,85.1 33.2,90.6 33.4,95.8 33.7,100.7 33.9,105.2 34.1,109.5 34.4,113.5 34.6,117.3 34.8,120.8 35.0,124.1 35.3,127.2 35.5,130.1 35.7,132.9 36.0,135.5 36.2,137.9 36.4,140.2 36.7,142.4 36.9,144.5 37.1,146.5 37.4,148.4 37.6,150.2 37.8,152.0 38.1,153.6 38.3,155.2 38.5,156.8 38.8,158.3 39.0,159.7 39.2,161.1 39.5,162.5 39.7,163.8 39.9,165.1 40.2,166.3 40.4,167.5 40.6,168.7 40.9,169.9 41.1,171.0 41.3,172.1 41.6,173.2 41.8,174.3 42.0,175.3 42.3,176.3 42.5,177.3 42.7,178.3 43.0,179.3 43.2,180.2 43.4,181.1 43.7,182.0 43.9,182.8 44.1,183.6 44.3,184.4 44.6,185.2 44.8,185.9 45.0,186.6 45.3,187.2 45.5,187.9 45.7,188.4 46.0,189.0 46.2,189.4 46.4,189.9 46.7,190.3 46.9,190.6 47.1,190.9 47.4,191.1 47.6,191.3 47.8,191.4 48.1,191.4 48.3,191.4 48.5,191.4 48.8,191.3 49.0,191.1 49.2,190.9 49.5,190.6 49.7,190.2 49.9,189.8 50.2,189.4 50.4,188.9 50.6,188.4 50.9,187.8 51.1,187.2 51.3,186.5 51.6,185.8 51.8,185.1 52.0,184.3 52.3,183.5 52.5,182.6 52.7,181.8 52.9,180.9 53.2,180.0 53.4,179.0 53.6,178.1 53.9,177.1 54.1,176.1 54.3,175.1 54.6,174.0 54.8,172.9 55.0,171.8 55.3,170.7 55.5,169.6 55.7,168.4 56.0,167.2 56.2,166.0 56.4,164.8 56.7,163.5 56.9,162.2 57.1,160.9 57.4,159.5 57.6,158.1 57.8,156.7 58.1,155.2 58.3,153.6 58.5,152.0 58.8,150.4 59.0,148.7 59.2,146.9 59.5,145.0 59.7,143.0 59.9,140.9 60.2,138.8 60.4,136.5 60.6,134.1 60.9,131.5 61.1,128.8 61.3,126.0 61.5,123.0 61.8,119.7 62.0,116.3 62.2,112.6 62.5,108.7 62.7,104.6 62.9,100.2 63.2,95.5 63.4,90.5 63.6,85.2 63.9,79.7 64.1,73.9 64.3,67.9 64.6,61.8 64.8,55.6 65.0,49.6 65.3,44.1 65.5,39.4 65.7,36.2 66.0,35.1 66.2,36.5 66.4,39.8 66.7,44.7 66.9,50.3 67.1,56.3 67.4,62.4 67.6,68.6 67.8,74.5 68.1,80.3 68.3,85.7 68.5,91.0 68.8,95.9 69.0,100.5 69.2,104.9 69.5,109.0 69.7,112.8 69.9,116.4 70.2,119.8 70.4,122.9 70.6,125.9 70.8,128.7 71.1,131.3 71.3,133.8 71.5,136.1 71.8,138.3 72.0,140.4 72.2,142.4 72.5,144.3 72.7,146.1 72.9,147.8 73.2,149.5 73.4,151.0 73.6,152.6 73.9,154.0 74.1,155.4 74.3,156.8 74.6,158.1 74.8,159.4 75.0,160.6 75.3,161.8 75.5,163.0 75.7,164.2 76.0,165.3 76.2,166.4 76.4,167.4 76.7,168.5 76.9,169.5 77.1,170.5 77.4,171.4 77.6,172.4 77.8,173.3 78.1,174.2 78.3,175.0 78.5,175.9 78.8,176.7 79.0,177.5 79.2,178.2 79.4,179.0 79.7,179.7 79.9,180.3 80.1,181.0 80.4,181.6 80.6,182.1 80.8,182.6 81.1,183.1 81.3,183.5 81.5,183.9 81.8,184.3 82.0,184.5 82.2,184.8 82.5,185.0 82.7,185.1 82.9,185.2 83.2,185.2 83.4,185.2 83.6,185.1 83.9,185.0 84.1,184.8 84.3,184.6 84.6,184.3 84.8,183.9 85.0,183.6 85.3,183.1 85.5,182.6 85.7,182.1 86.0,181.6 86.2,180.9 86.4,180.3 86.7,179.6 86.9,178.9 87.1,178.2 87.4,177.4 87.6,176.6 87.8,175.8 88.0,174.9 88.3,174.0 88.5,173.1 88.7,172.2 89.0,171.2 89.2,170.3 89.4,169.3 89.7,168.3 89.9,167.2 90.1,166.2 90.4,165.1 90.6,164.0 90.8,162.9 91.1,161.7 91.3,160.5 91.5,159.4 91.8,158.1 92.0,156.9 92.2,155.6 92.5,154.3 92.7,152.9 92.9,151.5 93.2,150.0 93.4,148.5 93.6,147.0 93.9,145.3 94.1,143.6 94.3,141.9 94.6,140.0 94.8,138.1 95.0,136.0 95.3,133.9 95.5,131.6 95.7,129.2 96.0,126.7 96.2,124.0 96.4,121.2 96.7,118.2 96.9,115.0 97.1,111.6 97.3,107.9 97.6,104.1 97.8,100.0 98.0,95.7 98.3,91.2 98.5,86.5 98.7,81.6 99.0,76.6 99.2,71.5 99.4,66.5 99.7,61.7 99.9,57.4 100.1,53.7 100.4,51.0 100.6,49.7 100.8,49.8 101.1,51.3 101.3,54.1 101.5,57.9 101.8,62.3 102.0,67.1 102.2,72.1 102.5,77.2 102.7,82.2 102.9,87.0 103.2,91.7 103.4,96.2 103.6,100.4 103.9,104.4 104.1,108.1 104.3,111.6 104.6,114.9 104.8,118.0 105.0,121.0 105.3,123.7 105.5,126.2 105.7,128.6 105.9,130.9 106.2,133.0 106.4,135.0 106.6,136.9 106.9,138.7 107.1,140.4 107.3,142.0 107.6,143.6 107.8,145.0 108.0,146.5 108.3,147.8 108.5,149.1 108.7,150.3 109.0,151.5 109.2,152.7 109.4,153.8 109.7,154.9 109.9,155.9 110.1,156.9 110.4,157.9 110.6,158.8 110.8,159.8 111.1,160.7 111.3,161.5 111.5,162.4 111.8,163.2 112.0,164.0 112.2,164.8 112.5,165.5 112.7,166.2 112.9,166.9 113.2,167.6 113.4,168.2 113.6,168.8 113.9,169.4 114.1,169.9 114.3,170.4 114.6,170.9 114.8,171.3 115.0,171.7 115.2,172.1 115.5,172.4 115.7,172.7 115.9,172.9 116.2,173.1 116.4,173.2 116.6,173.3 116.9,173.4 117.1,173.4 117.3,173.4 117.6,173.3 117.8,173.2 118.0,173.0 118.3,172.8 118.5,172.6 118.7,172.3 119.0,171.9 119.2,171.5 119.4,171.1 119.7,170.7 119.9,170.2 120.1,169.6 120.4,169.1 120.6,168.5 120.8,167.9 121.1,167.2 121.3,166.5 121.5,165.8 121.8,165.1 122.0,164.4 122.2,163.6 122.5,162.8 122.7,162.0 122.9,161.2 123.2,160.4 123.4,159.5 123.6,158.6 123.8,157.7 124.1,156.8 124.3,155.9 124.5,154.9 124.8,153.9 125.0,152.9 125.2,151.9 125.5,150.8 125.7,149.7 125.9,148.6 126.2,147.5 126.4,146.2 126.6,144.9 126.9,143.5 127.1,142.1 127.3,140.6 127.6,139.0 127.8,137.5 128.0,135.8 128.3,134.2 128.5,132.5 128.7,130.8 129.0,129.0 129.2,127.2 129.4,125.3 129.7,123.4 129.9,121.5 130.1,119.5 130.4,117.4 130.6,115.2 130.8,112.9 131.1,110.6 131.3,108.1 131.5,105.6 131.8,103.0 132.0,100.3 132.2,97.6 132.4,95.0 132.7,92.3 132.9,89.8 133.1,87.5 133.4,85.5 133.6,83.8 133.8,82.5 134.1,81.7 134.3,81.5 134.5,81.8 134.8,82.6 135.0,84.0 135.2,85.8 135.5,88.0 135.7,90.4 135.9,93.0 136.2,95.7 136.4,98.5 136.6,101.3 136.9,104.0 137.1,106.7 137.3,109.2 137.6,111.6 137.8,113.9 138.0,116.0 138.3,118.0 138.5,119.9 138.7,121.6 139.0,123.2 139.2,124.7 139.4,126.1 139.7,127.5 139.9,128.7 140.1,129.9 140.4,131.0 140.6,132.1 140.8,133.1 141.1,134.1 141.3,135.1 141.5,136.1 141.7,137.1 142.0,138.0 142.2,138.9 142.4,139.9 142.7,140.8 142.9,141.7 143.1,142.6 143.4,143.4 143.6,144.2 143.8,145.0 144.1,145.8 144.3,146.5 144.5,147.2 144.8,147.9 145.0,148.5 145.2,149.1 145.5,149.7 145.7,150.2 145.9,150.7 146.2,151.2 146.4,151.7 146.6,152.2 146.9,152.6 147.1,153.0 147.3,153.4 147.6,153.7 147.8,154.0 148.0,154.3 148.3,154.6 148.5,154.8 148.7,155.0 149.0,155.1 149.2,155.2 149.4,155.3 149.7,155.3 149.9,155.3 150.1,155.3 150.3,155.2 150.6,155.0 150.8,154.9 151.0,154.7 151.3,154.5 151.5,154.2 151.7,154.0 152.0,153.7 152.2,153.3 152.4,153.0 152.7,152.6 152.9,152.2 153.1,151.8 153.4,151.4 153.6,150.9 153.8,150.4 154.1,149.9 154.3,149.4 154.5,148.9 154.8,148.4 155.0,147.8 155.2,147.2 155.5,146.7 155.7,146.1 155.9,145.5 156.2,144.8 156.4,144.2 156.6,143.6 156.9,142.9 157.1,142.2 157.3,141.5 157.6,140.8 157.8,140.1 158.0,139.3 158.3,138.6 158.5,137.8 158.7,136.9 158.9,136.1 159.2,135.2 159.4,134.3 159.6,133.4 159.9,132.4 160.1,131.3 160.3,130.2 160.6,129.1 160.8,127.9 161.0,126.6 161.3,125.3 161.5,123.8 161.7,122.3 162.0,120.7 162.2,119.1 162.4,117.3 162.7,115.4 162.9,113.4 163.1,111.3 163.4,109.0 163.6,106.7 163.8,104.3 164.1,101.9 164.3,99.4 164.5,97.0 164.8,94.6 165.0,92.4 165.2,90.3 165.5,88.6 165.7,87.3 165.9,86.4 166.2,86.0 166.4,86.1 166.6,86.7 166.9,87.9 167.1,89.4 167.3,91.4 167.6,93.6 167.8,95.9 168.0,98.4 168.2,100.9 168.5,103.5 168.7,106.0 168.9,108.4 169.2,110.7 169.4,112.9 169.6,115.0 169.9,117.0 170.1,118.9 170.3,120.6 170.6,122.3 170.8,123.8 171.0,125.3 171.3,126.6 171.5,127.9 171.7,129.1 172.0,130.2 172.2,131.3 172.4,132.3 172.7,133.2 172.9,134.1 173.1,135.0 173.4,135.8 173.6,136.5 173.8,137.2 174.1,137.9 174.3,138.6 174.5,139.2 174.8,139.8 175.0,140.4 175.2,141.0 175.5,141.5 175.7,142.0 175.9,142.5 176.2,142.9 176.4,143.4 176.6,143.8 176.8,144.2 177.1,144.6 177.3,144.9 177.5,145.3 177.8,145.6 178.0,145.9 178.2,146.1 178.5,146.4 178.7,146.6 178.9,146.8 179.2,147.0 179.4,147.1 179.6,147.2 179.9,147.3 180.1,147.4 180.3,147.4 180.6,147.3 180.8,147.3 181.0,147.1 181.3,147.0 181.5,146.8 181.7,146.6 182.0,146.4 182.2,146.1 182.4,145.8 182.7,145.5 182.9,145.1 183.1,144.7 183.4,144.3 183.6,143.9 183.8,143.4 184.1,142.9 184.3,142.5 184.5,142.0 184.8,141.5 185.0,140.9 185.2,140.4 185.5,139.9 185.7,139.4 185.9,138.8 186.1,138.3 186.4,137.8 186.6,137.3 186.8,136.8 187.1,136.2 187.3,135.7 187.5,135.2 187.8,134.7 188.0,134.2 188.2,133.8 188.5,133.3 188.7,132.8 188.9,132.3 189.2,131.8 189.4,131.3 189.6,130.8 189.9,130.2 190.1,129.6 190.3,129.0 190.6,128.4 190.8,127.7 191.0,127.0 191.3,126.2 191.5,125.5 191.7,124.6 192.0,123.7 192.2,122.8 192.4,121.7 192.7,120.7 192.9,119.5 193.1,118.3 193.4,117.0 193.6,115.7 193.8,114.3 194.1,112.8 194.3,111.3 194.5,109.8 194.7,108.4 195.0,107.0 195.2,105.7 195.4,104.5 195.7,103.6 195.9,102.9 196.1,102.5 196.4,102.4 196.6,102.6 196.8,103.2 197.1,103.9 197.3,104.9 197.5,106.0 197.8,107.2 198.0,108.5 198.2,109.8 198.5,111.1 198.7,112.4 198.9,113.6 199.2,114.9 199.4,116.1 199.6,117.2 199.9,118.3 200.1,119.4 200.3,120.4 200.6,121.3 200.8,122.2 201.0,123.1 201.3,123.9 201.5,124.7 201.7,125.5 202.0,126.2 202.2,126.9 202.4,127.6 202.7,128.2 202.9,128.8 203.1,129.4 203.3,130.0 203.6,130.6 203.8,131.1 204.0,131.7 204.3,132.2 204.5,132.7 204.7,133.2 205.0,133.7 205.2,134.1 205.4,134.6 205.7,135.0 205.9,135.4 206.1,135.9 206.4,136.2 206.6,136.6 206.8,137.0 207.1,137.3 207.3,137.6 207.5,138.0 207.8,138.2 208.0,138.5 208.2,138.7 208.5,138.9 208.7,139.1 208.9,139.3 209.2,139.4 209.4,139.5 209.6,139.6 209.9,139.7 210.1,139.7 210.3,139.7 210.6,139.7 210.8,139.7 211.0,139.6 211.3,139.5 211.5,139.4 211.7,139.2 212.0,139.0 212.2,138.9 212.4,138.6 212.6,138.4 212.9,138.2 213.1,137.9 213.3,137.6 213.6,137.3 213.8,137.0 214.0,136.7 214.3,136.4 214.5,136.0 214.7,135.7 215.0,135.3 215.2,135.0 215.4,134.6 215.7,134.2 215.9,133.8 216.1,133.4 216.4,133.1 216.6,132.7 216.8,132.3 217.1,131.8 217.3,131.4 217.5,131.0 217.8,130.6 218.0,130.1 218.2,129.7 218.5,129.2 218.7,128.7 218.9,128.2 219.2,127.7 219.4,127.2 219.6,126.7 219.9,126.1 220.1,125.5 220.3,124.8" style="fill:none;stroke:#0000ff;stroke-width:1.4;stroke-linejoin:round"/>
<polyline points="11.3,168.1 11.6,168.0 11.8,168.0 12.0,167.9 12.3,167.9 12.5,167.8 12.7,167.7 13.0,167.6 13.2,167.4 13.4,167.3 13.7,167.1 13.9,167.0 14.1,166.8 14.4,166.6 14.6,166.3 14.8,166.1 15.1,165.9 15.3,165.6 15.5,165.3 15.8,165.0 16.0,164.7 16.2,164.3 16.5,163.9 16.7,163.5 16.9,163.1 17.2,162.6 17.4,162.1 17.6,161.6 17.8,161.1 18.1,160.5 18.3,159.9 18.5,159.2 18.8,158.5 19.0,157.8 19.2,157.0 19.5,156.1 19.7,155.2 19.9,154.2 20.2,153.2 20.4,152.1 20.6,151.0 20.9,149.7 21.1,148.4 21.3,147.0 21.6,145.5 21.8,143.9 22.0,142.1 22.3,140.3 22.5,138.3 22.7,136.2 23.0,133.9 23.2,131.5 23.4,129.0 23.7,126.2 23.9,123.3 24.1,120.2 24.4,116.9 24.6,113.4 24.8,109.7 25.1,105.8 25.3,101.8 25.5,97.6 25.8,93.3 26.0,89.1 26.2,84.8 26.4,80.7 26.7,77.0 26.9,73.6 27.1,70.9 27.4,69.0 27.6,68.1 27.8,68.1 28.1,69.2 28.3,71.1 28.5,73.9 28.8,77.2 29.0,81.0 29.2,85.1 29.5,89.3 29.7,93.6 29.9,97.8 30.2,102.0 30.4,106.0 30.6,109.8 30.9,113.4 31.1,116.9 31.3,120.2 31.6,123.2 31.8,126.1 32.0,128.8 32.3,131.3 32.5,133.7 32.7,135.9 33.0,138.0 33.2,139.9 33.4,141.7 33.7,143.4 33.9,145.0 34.1,146.4 34.4,147.8 34.6,149.1 34.8,150.3 35.0,151.4 35.3,152.4 35.5,153.4 35.7,154.3 36.0,155.2 36.2,156.0 36.4,156.7 36.7,157.4 36.9,158.1 37.1,158.7 37.4,159.3 37.6,159.8 37.8,160.3 38.1,160.8 38.3,161.2 38.5,161.6 38.8,162.0 39.0,162.3 39.2,162.7 39.5,163.0 39.7,163.3 39.9,163.5 40.2,163.8 40.4,164.0 40.6,164.2 40.9,164.4 41.1,164.6 41.3,164.7 41.6,164.9 41.8,165.0 42.0,165.1 42.3,165.2 42.5,165.3 42.7,165.3 43.0,165.4 43.2,165.5 43.4,165.5 43.7,165.5 43.9,165.5 44.1,165.5 44.3,165.5 44.6,165.5 44.8,165.5 45.0,165.4 45.3,165.3 45.5,165.3 45.7,165.2 46.0,165.1 46.2,165.0 46.4,164.9 46.7,164.8 46.9,164.6 47.1,164.5 47.4,164.3 47.6,164.1 47.8,163.9 48.1,163.7 48.3,163.5 48.5,163.2 48.8,163.0 49.0,162.7 49.2,162.4 49.5,162.1 49.7,161.8 49.9,161.4 50.2,161.0 50.4,160.6 50.6,160.2 50.9,159.7 51.1,159.2 51.3,158.7 51.6,158.2 51.8,157.6 52.0,157.0 52.3,156.3 52.5,155.6 52.7,154.9 52.9,154.1 53.2,153.2 53.4,152.3 53.6,151.4 53.9,150.4 54.1,149.3 54.3,148.1 54.6,146.9 54.8,145.6 55.0,144.2 55.3,142.7 55.5,141.1 55.7,139.4 56.0,137.5 56.2,135.6 56.4,133.5 56.7,131.3 56.9,129.0 57.1,126.5 57.4,123.8 57.6,121.0 57.8,118.0 58.1,114.8 58.3,111.5 58.5,108.0 58.8,104.4 59.0,100.7 59.2,96.9 59.5,93.1 59.7,89.4 59.9,85.8 60.2,82.4 60.4,79.4 60.6,76.9 60.9,75.0 61.1,73.9 61.3,73.5 61.5,74.0 61.8,75.3 62.0,77.3 62.2,79.9 62.5,83.0 62.7,86.4 62.9,90.0 63.2,93.7 63.4,97.5 63.6,101.2 63.9,104.9 64.1,108.4 64.3,111.8 64.6,115.1 64.8,118.1 65.0,121.1 65.3,123.8 65.5,126.4 65.7,128.8 66.0,131.1 66.2,133.2 66.4,135.2 66.7,137.1 66.9,138.9 67.1,140.5 67.4,142.0 67.6,143.4 67.8,144.8 68.1,146.0 68.3,147.2 68.5,148.3 68.8,149.3 69.0,150.2 69.2,151.1 69.5,151.9 69.7,152.7 69.9,153.4 70.2,154.1 70.4,154.7 70.6,155.3 70.8,155.9 71.1,156.4 71.3,156.9 71.5,157.3 71.8,157.7 72.0,158.1 72.2,158.5 72.5,158.8 72.7,159.1 72.9,159.4 73.2,159.7 73.4,159.9 73.6,160.2 73.9,160.4 74.1,160.6 74.3,160.7 74.6,160.9 74.8,161.0 75.0,161.2 75.3,161.3 75.5,161.4 75.7,161.5 76.0,161.5 76.2,161.6 76.4,161.6 76.7,161.7 76.9,161.7 77.1,161.7 77.4,161.7 77.6,161.7 77.8,161.7 78.1,161.6 78.3,161.6 78.5,161.5 78.8,161.5 79.0,161.4 79.2,161.3 79.4,161.2 79.7,161.1 79.9,161.0 80.1,160.8 80.4,160.7 80.6,160.5 80.8,160.3 81.1,160.1 81.3,159.9 81.5,159.7 81.8,159.5 82.0,159.2 82.2,159.0 82.5,158.7 82.7,158.4 82.9,158.0 83.2,157.7 83.4,157.3 83.6,156.9 83.9,156.5 84.1,156.1 84.3,155.6 84.6,155.1 84.8,154.6 85.0,154.0 85.3,153.4 85.5,152.8 85.7,152.1 86.0,151.4 86.2,150.6 86.4,149.8 86.7,149.0 86.9,148.1 87.1,147.1 87.4,146.0 87.6,144.9 87.8,143.8 88.0,142.5 88.3,141.2 88.5,139.8 88.7,138.3 89.0,136.7 89.2,134.9 89.4,133.1 89.7,131.2 89.9,129.1 90.1,126.9 90.4,124.6 90.6,122.2 90.8,119.6 91.1,116.9 91.3,114.0 91.5,111.1 91.8,108.1 92.0,104.9 92.2,101.8 92.5,98.6 92.7,95.5 92.9,92.5 93.2,89.7 93.4,87.1 93.6,85.0 93.9,83.2 94.1,82.1 94.3,81.5 94.6,81.5 94.8,82.2 95.0,83.4 95.3,85.2 95.5,87.4 95.7,89.9 96.0,92.8 96.2,95.7 96.4,98.8 96.7,101.9 96.9,105.0 97.1,108.1 97.3,111.0 97.6,113.9 97.8,116.6 98.0,119.3 98.3,121.7 98.5,124.1 98.7,126.3 99.0,128.4 99.2,130.3 99.4,132.1 99.7,133.9 99.9,135.5 100.1,137.0 100.4,138.4 100.6,139.7 100.8,140.9 101.1,142.0 101.3,143.1 101.5,144.1 101.8,145.0 102.0,145.8 102.2,146.6 102.5,147.4 102.7,148.1 102.9,148.7 103.2,149.3 103.4,149.9 103.6,150.4 103.9,150.8 104.1,151.3 104.3,151.7 104.6,152.1 104.8,152.4 105.0,152.8 105.3,153.1 105.5,153.3 105.7,153.6 105.9,153.8 106.2,154.0 106.4,154.2 106.6,154.4 106.9,154.5 107.1,154.7 107.3,154.8 107.6,154.9 107.8,155.0 108.0,155.1 108.3,155.1 108.5,155.2 108.7,155.2 109.0,155.2 109.2,155.3 109.4,155.3 109.7,155.3 109.9,155.2 110.1,155.2 110.4,155.2 110.6,155.1 110.8,155.1 111.1,155.0 111.3,154.9 111.5,154.8 111.8,154.7 112.0,154.6 112.2,154.5 112.5,154.3 112.7,154.2 112.9,154.0 113.2,153.8 113.4,153.7 113.6,153.5 113.9,153.2 114.1,153.0 114.3,152.8 114.6,152.5 114.8,152.2 115.0,152.0 115.2,151.6 115.5,151.3 115.7,151.0 115.9,150.6 116.2,150.3 116.4,149.9 116.6,149.4 116.9,149.0 117.1,148.5 117.3,148.0 117.6,147.5 117.8,146.9 118.0,146.4 118.3,145.7 118.5,145.1 118.7,144.4 119.0,143.7 119.2,142.9 119.4,142.1 119.7,141.2 119.9,140.3 120.1,139.3 120.4,138.3 120.6,137.2 120.8,136.1 121.1,134.9 121.3,133.6 121.5,132.2 121.8,130.8 122.0,129.3 122.2,127.7 122.5,126.0 122.7,124.2 122.9,122.3 123.2,120.4 123.4,118.4 123.6,116.3 123.8,114.1 124.1,111.9 124.3,109.7 124.5,107.5 124.8,105.3 125.0,103.2 125.2,101.1 125.5,99.3 125.7,97.6 125.9,96.2 126.2,95.2 126.4,94.5 126.6,94.2 126.9,94.4 127.1,95.0 127.3,96.0 127.6,97.3 127.8,98.9 128.0,100.8 128.3,102.8 128.5,104.8 128.7,106.9 129.0,109.0 129.2,111.0 129.4,113.0 129.7,114.8 129.9,116.6 130.1,118.3 130.4,119.9 130.6,121.4 130.8,122.8 131.1,124.2 131.3,125.4 131.5,126.6 131.8,127.7 132.0,128.8 132.2,129.7 132.4,130.6 132.7,131.5 132.9,132.3 133.1,133.0 133.4,133.7 133.6,134.4 133.8,135.0 134.1,135.5 134.3,136.1 134.5,136.5 134.8,137.0 135.0,137.4 135.2,137.8 135.5,138.1 135.7,138.5 135.9,138.8 136.2,139.0 136.4,139.3 136.6,139.5 136.9,139.6 137.1,139.8 137.3,139.9 137.6,140.0 137.8,140.1 138.0,140.2 138.3,140.2 138.5,140.3 138.7,140.3 139.0,140.3 139.2,140.3 139.4,140.3 139.7,140.3 139.9,140.3 140.1,140.4 140.4,140.4 140.6,140.4 140.8,140.4 141.1,140.5 141.3,140.5 141.5,140.6 141.7,140.7 142.0,140.7 142.2,140.8 142.4,140.9 142.7,140.9 142.9,141.0 143.1,141.0 143.4,141.0 143.6,141.0 143.8,141.0 144.1,141.0 144.3,141.0 144.5,140.9 144.8,140.8 145.0,140.7 145.2,140.6 145.5,140.5 145.7,140.4 145.9,140.3 146.2,140.1 146.4,140.0 146.6,139.8 146.9,139.6 147.1,139.4 147.3,139.2 147.6,139.0 147.8,138.8 148.0,138.5 148.3,138.2 148.5,137.9 148.7,137.6 149.0,137.2 149.2,136.8 149.4,136.4 149.7,136.0 149.9,135.5 150.1,134.9 150.3,134.4 150.6,133.8 150.8,133.2 151.0,132.5 151.3,131.8 151.5,131.0 151.7,130.2 152.0,129.3 152.2,128.4 152.4,127.4 152.7,126.4 152.9,125.3 153.1,124.1 153.4,122.9 153.6,121.6 153.8,120.3 154.1,118.9 154.3,117.5 154.5,116.0 154.8,114.5 155.0,113.0 155.2,111.5 155.5,110.1 155.7,108.6 155.9,107.3 156.2,106.1 156.4,105.0 156.6,104.1 156.9,103.4 157.1,102.9 157.3,102.6 157.6,102.6 157.8,102.8 158.0,103.2 158.3,103.9 158.5,104.8 158.7,105.8 158.9,107.0 159.2,108.3 159.4,109.7 159.6,111.2 159.9,112.7 160.1,114.1 160.3,115.6 160.6,117.1 160.8,118.5 161.0,119.9 161.3,121.2 161.5,122.4 161.7,123.6 162.0,124.8 162.2,125.9 162.4,126.9 162.7,127.8 162.9,128.7 163.1,129.5 163.4,130.3 163.6,131.1 163.8,131.7 164.1,132.4 164.3,133.0 164.5,133.5 164.8,134.0 165.0,134.5 165.2,135.0 165.5,135.4 165.7,135.8 165.9,136.1 166.2,136.4 166.4,136.7 166.6,137.0 166.9,137.3 167.1,137.5 167.3,137.7 167.6,137.9 167.8,138.1 168.0,138.3 168.2,138.4 168.5,138.5 168.7,138.7 168.9,138.8 169.2,138.9 169.4,139.0 169.6,139.0 169.9,139.1 170.1,139.1 170.3,139.2 170.6,139.2 170.8,139.2 171.0,139.2 171.3,139.2 171.5,139.2 171.7,139.2 172.0,139.1 172.2,139.1 172.4,139.0 172.7,139.0 172.9,138.9 173.1,138.8 173.4,138.8 173.6,138.7 173.8,138.6 174.1,138.5 174.3,138.4 174.5,138.2 174.8,138.1 175.0,138.0 175.2,137.9 175.5,137.7 175.7,137.6 175.9,137.4 176.2,137.2 176.4,137.0 176.6,136.9 176.8,136.7 177.1,136.5 177.3,136.2 177.5,136.0 177.8,135.8 178.0,135.5 178.2,135.2 178.5,135.0 178.7,134.7 178.9,134.4 179.2,134.0 179.4,133.7 179.6,133.3 179.9,132.9 180.1,132.4 180.3,132.0 180.6,131.5 180.8,131.0 181.0,130.4 181.3,129.8 181.5,129.2 181.7,128.5 182.0,127.8 182.2,127.1 182.4,126.3 182.7,125.5 182.9,124.7 183.1,123.8 183.4,122.9 183.6,121.9 183.8,120.9 184.1,119.9 184.3,118.9 184.5,117.8 184.8,116.8 185.0,115.7 185.2,114.7 185.5,113.7 185.7,112.8 185.9,111.9 186.1,111.1 186.4,110.4 186.6,109.9 186.8,109.5 187.1,109.2 187.3,109.1 187.5,109.1 187.8,109.3 188.0,109.7 188.2,110.1 188.5,110.7 188.7,111.4 188.9,112.2 189.2,113.1 189.4,114.0 189.6,114.9 189.9,115.9 190.1,116.9 190.3,117.9 190.6,118.8 190.8,119.8 191.0,120.7 191.3,121.5 191.5,122.4 191.7,123.1 192.0,123.9 192.2,124.5 192.4,125.2 192.7,125.7 192.9,126.3 193.1,126.7 193.4,127.2 193.6,127.6 193.8,127.9 194.1,128.2 194.3,128.5 194.5,128.7 194.7,128.9 195.0,129.0 195.2,129.2 195.4,129.3 195.7,129.3 195.9,129.4 196.1,129.4 196.4,129.4 196.6,129.4 196.8,129.4 197.1,129.4 197.3,129.4 197.5,129.4 197.8,129.5 198.0,129.5 198.2,129.5 198.5,129.6 198.7,129.7 198.9,129.8 199.2,129.9 199.4,129.9 199.6,130.0 199.9,130.1 200.1,130.2 200.3,130.2 200.6,130.3 200.8,130.4 201.0,130.4 201.3,130.5 201.5,130.5 201.7,130.6 202.0,130.6 202.2,130.7 202.4,130.7 202.7,130.8 202.9,130.8 203.1,130.8 203.3,130.8 203.6,130.9 203.8,130.9 204.0,130.9 204.3,130.9 204.5,130.9 204.7,130.9 205.0,130.8 205.2,130.8 205.4,130.8 205.7,130.7 205.9,130.6 206.1,130.6 206.4,130.5 206.6,130.4 206.8,130.3 207.1,130.1 207.3,130.0 207.5,129.8 207.8,129.6 208.0,129.4 208.2,129.2 208.5,128.9 208.7,128.6 208.9,128.3 209.2,128.0 209.4,127.6 209.6,127.2 209.9,126.8 210.1,126.3 210.3,125.8 210.6,125.3 210.8,124.7 211.0,124.1 211.3,123.4 211.5,122.7 211.7,122.0 212.0,121.2 212.2,120.4 212.4,119.5 212.6,118.6 212.9,117.7 213.1,116.8 213.3,115.9 213.6,115.0 213.8,114.1 214.0,113.3 214.3,112.5 214.5,111.9 214.7,111.3 215.0,110.9 215.2,110.6 215.4,110.5 215.7,110.5 215.9,110.7 216.1,111.0 216.4,111.5 216.6,112.1 216.8,112.8 217.1,113.5 217.3,114.4 217.5,115.2 217.8,116.1 218.0,117.0 218.2,117.9 218.5,118.7 218.7,119.5 218.9,120.3 219.2,121.1 219.4,121.8 219.6,122.4 219.9,123.0 220.1,123.6 220.3,124.1" style="fill:none;stroke:#ff0000;stroke-width:1.4;stroke-dasharray:4.4 4.4"/>
<polyline points="11.3,180.4 11.6,180.5 11.8,180.5 12.0,180.5 12.3,180.4 12.5,180.4 12.7,180.3 13.0,180.2 13.2,180.0 13.4,179.8 13.7,179.6 13.9,179.4 14.1,179.2 14.4,178.9 14.6,178.6 14.8,178.2 15.1,177.9 15.3,177.5 15.5,177.1 15.8,176.6 16.0,176.2 16.2,175.7 16.5,175.2 16.7,174.6 16.9,174.1 17.2,173.5 17.4,172.9 17.6,172.2 17.8,171.6 18.1,170.8 18.3,170.1 18.5,169.4 18.8,168.6 19.0,167.7 19.2,166.9 19.5,166.0 19.7,165.0 19.9,164.0 20.2,163.0 20.4,162.0 20.6,160.8 20.9,159.7 21.1,158.5 21.3,157.2 21.6,155.8 21.8,154.4 22.0,152.9 22.3,151.4 22.5,149.7 22.7,148.0 23.0,146.1 23.2,144.2 23.4,142.1 23.7,140.0 23.9,137.6 24.1,135.2 24.4,132.6 24.6,129.8 24.8,126.8 25.1,123.6 25.3,120.3 25.5,116.7 25.8,112.9 26.0,108.8 26.2,104.5 26.4,100.0 26.7,95.2 26.9,90.2 27.1,85.0 27.4,79.6 27.6,74.2 27.8,68.8 28.1,63.5 28.3,58.6 28.5,54.4 28.8,51.2 29.0,49.3 29.2,48.9 29.5,50.2 29.7,52.9 29.9,56.8 30.2,61.4 30.4,66.5 30.6,71.9 30.9,77.3 31.1,82.7 31.3,88.0 31.6,93.0 31.8,97.9 32.0,102.5 32.3,106.9 32.5,111.0 32.7,114.9 33.0,118.5 33.2,121.9 33.4,125.1 33.7,128.2 33.9,131.0 34.1,133.6 34.4,136.1 34.6,138.5 34.8,140.6 35.0,142.7 35.3,144.7 35.5,146.5 35.7,148.2 36.0,149.9 36.2,151.4 36.4,152.9 36.7,154.3 36.9,155.6 37.1,156.8 37.4,158.0 37.6,159.2 37.8,160.3 38.1,161.3 38.3,162.3 38.5,163.2 38.8,164.1 39.0,165.0 39.2,165.8 39.5,166.6 39.7,167.3 39.9,168.0 40.2,168.7 40.4,169.4 40.6,170.0 40.9,170.6 41.1,171.1 41.3,171.7 41.6,172.2 41.8,172.7 42.0,173.1 42.3,173.6 42.5,174.0 42.7,174.4 43.0,174.7 43.2,175.0 43.4,175.4 43.7,175.6 43.9,175.9 44.1,176.1 44.3,176.3 44.6,176.5 44.8,176.7 45.0,176.8 45.3,176.9 45.5,177.0 45.7,177.1 46.0,177.1 46.2,177.1 46.4,177.1 46.7,177.0 46.9,177.0 47.1,176.9 47.4,176.8 47.6,176.6 47.8,176.4 48.1,176.3 48.3,176.0 48.5,175.8 48.8,175.5 49.0,175.2 49.2,174.9 49.5,174.6 49.7,174.2 49.9,173.9 50.2,173.4 50.4,173.0 50.6,172.6 50.9,172.1 51.1,171.6 51.3,171.0 51.6,170.5 51.8,169.9 52.0,169.3 52.3,168.7 52.5,168.0 52.7,167.3 52.9,166.6 53.2,165.8 53.4,165.0 53.6,164.2 53.9,163.4 54.1,162.5 54.3,161.6 54.6,160.6 54.8,159.6 55.0,158.6 55.3,157.5 55.5,156.3 55.7,155.1 56.0,153.8 56.2,152.5 56.4,151.1 56.7,149.7 56.9,148.1 57.1,146.5 57.4,144.8 57.6,142.9 57.8,141.0 58.1,139.0 58.3,136.8 58.5,134.5 58.8,132.1 59.0,129.5 59.2,126.8 59.5,123.8 59.7,120.7 59.9,117.4 60.2,113.9 60.4,110.2 60.6,106.3 60.9,102.2 61.1,97.9 61.3,93.4 61.5,88.7 61.8,83.9 62.0,79.1 62.2,74.4 62.5,69.8 62.7,65.5 62.9,61.9 63.2,59.0 63.4,57.1 63.6,56.4 63.9,57.0 64.1,58.8 64.3,61.6 64.6,65.2 64.8,69.4 65.0,74.0 65.3,78.7 65.5,83.5 65.7,88.2 66.0,92.9 66.2,97.4 66.4,101.7 66.7,105.8 66.9,109.7 67.1,113.4 67.4,116.8 67.6,120.1 67.8,123.2 68.1,126.0 68.3,128.8 68.5,131.3 68.8,133.7 69.0,135.9 69.2,138.0 69.5,140.0 69.7,141.9 69.9,143.7 70.2,145.3 70.4,146.9 70.6,148.4 70.8,149.8 71.1,151.1 71.3,152.4 71.5,153.6 71.8,154.7 72.0,155.8 72.2,156.8 72.5,157.8 72.7,158.7 72.9,159.6 73.2,160.4 73.4,161.2 73.6,162.0 73.9,162.7 74.1,163.4 74.3,164.1 74.6,164.8 74.8,165.4 75.0,165.9 75.3,166.5 75.5,167.0 75.7,167.5 76.0,168.0 76.2,168.4 76.4,168.8 76.7,169.2 76.9,169.6 77.1,169.9 77.4,170.2 77.6,170.5 77.8,170.8 78.1,171.0 78.3,171.3 78.5,171.5 78.8,171.6 79.0,171.8 79.2,171.9 79.4,172.0 79.7,172.1 79.9,172.1 80.1,172.2 80.4,172.2 80.6,172.1 80.8,172.1 81.1,172.0 81.3,171.9 81.5,171.8 81.8,171.7 82.0,171.5 82.2,171.3 82.5,171.1 82.7,170.9 82.9,170.6 83.2,170.3 83.4,170.0 83.6,169.7 83.9,169.4 84.1,169.0 84.3,168.6 84.6,168.2 84.8,167.7 85.0,167.2 85.3,166.8 85.5,166.2 85.7,165.7 86.0,165.1 86.2,164.5 86.4,163.9 86.7,163.3 86.9,162.6 87.1,161.9 87.4,161.2 87.6,160.4 87.8,159.7 88.0,158.8 88.3,158.0 88.5,157.1 88.7,156.2 89.0,155.2 89.2,154.2 89.4,153.1 89.7,152.0 89.9,150.8 90.1,149.6 90.4,148.3 90.6,147.0 90.8,145.6 91.1,144.1 91.3,142.5 91.5,140.9 91.8,139.1 92.0,137.3 92.2,135.3 92.5,133.2 92.7,131.0 92.9,128.7 93.2,126.2 93.4,123.6 93.6,120.9 93.9,117.9 94.1,114.8 94.3,111.6 94.6,108.2 94.8,104.6 95.0,100.9 95.3,97.0 95.5,93.1 95.7,89.1 96.0,85.1 96.2,81.3 96.4,77.7 96.7,74.4 96.9,71.6 97.1,69.4 97.3,68.0 97.6,67.4 97.8,67.8 98.0,69.0 98.3,71.0 98.5,73.7 98.7,76.9 99.0,80.4 99.2,84.2 99.4,88.1 99.7,92.0 99.9,95.9 100.1,99.7 100.4,103.4 100.6,107.0 100.8,110.4 101.1,113.6 101.3,116.6 101.5,119.5 101.8,122.2 102.0,124.8 102.2,127.2 102.5,129.4 102.7,131.6 102.9,133.5 103.2,135.4 103.4,137.2 103.6,138.8 103.9,140.4 104.1,141.8 104.3,143.2 104.6,144.5 104.8,145.7 105.0,146.9 105.3,148.0 105.5,149.0 105.7,150.0 105.9,150.9 106.2,151.8 106.4,152.6 106.6,153.4 106.9,154.2 107.1,154.9 107.3,155.6 107.6,156.2 107.8,156.8 108.0,157.4 108.3,157.9 108.5,158.4 108.7,158.9 109.0,159.4 109.2,159.8 109.4,160.2 109.7,160.6 109.9,161.0 110.1,161.3 110.4,161.6 110.6,161.9 110.8,162.1 111.1,162.4 111.3,162.6 111.5,162.8 111.8,162.9 112.0,163.1 112.2,163.2 112.5,163.3 112.7,163.4 112.9,163.4 113.2,163.4 113.4,163.4 113.6,163.4 113.9,163.4 114.1,163.3 114.3,163.2 114.6,163.1 114.8,163.0 115.0,162.8 115.2,162.7 115.5,162.5 115.7,162.2 115.9,162.0 116.2,161.7 116.4,161.5 116.6,161.2 116.9,160.8 117.1,160.5 117.3,160.1 117.6,159.8 117.8,159.4 118.0,159.0 118.3,158.5 118.5,158.1 118.7,157.6 119.0,157.1 119.2,156.6 119.4,156.0 119.7,155.5 119.9,154.9 120.1,154.3 120.4,153.7 120.6,153.0 120.8,152.3 121.1,151.6 121.3,150.9 121.5,150.2 121.8,149.4 122.0,148.6 122.2,147.8 122.5,146.9 122.7,146.0 122.9,145.0 123.2,144.0 123.4,143.0 123.6,141.9 123.8,140.8 124.1,139.6 124.3,138.3 124.5,137.0 124.8,135.6 125.0,134.1 125.2,132.6 125.5,131.0 125.7,129.3 125.9,127.5 126.2,125.6 126.4,123.5 126.6,121.4 126.9,119.1 127.1,116.7 127.3,114.3 127.6,111.8 127.8,109.3 128.0,106.7 128.3,104.3 128.5,101.9 128.7,99.6 129.0,97.5 129.2,95.6 129.4,94.0 129.7,92.7 129.9,91.7 130.1,91.1 130.4,90.8 130.6,90.9 130.8,91.4 131.1,92.1 131.3,93.3 131.5,94.7 131.8,96.3 132.0,98.2 132.2,100.1 132.4,102.2 132.7,104.3 132.9,106.4 133.1,108.5 133.4,110.6 133.6,112.6 133.8,114.6 134.1,116.5 134.3,118.3 134.5,120.0 134.8,121.6 135.0,123.2 135.2,124.6 135.5,126.0 135.7,127.3 135.9,128.6 136.2,129.7 136.4,130.8 136.6,131.8 136.9,132.8 137.1,133.6 137.3,134.5 137.6,135.2 137.8,135.9 138.0,136.6 138.3,137.2 138.5,137.7 138.7,138.3 139.0,138.8 139.2,139.2 139.4,139.7 139.7,140.1 139.9,140.5 140.1,140.9 140.4,141.2 140.6,141.6 140.8,142.0 141.1,142.3 141.3,142.7 141.5,143.1 141.7,143.5 142.0,143.9 142.2,144.2 142.4,144.6 142.7,144.9 142.9,145.3 143.1,145.6 143.4,145.9 143.6,146.1 143.8,146.3 144.1,146.5 144.3,146.7 144.5,146.9 144.8,147.0 145.0,147.1 145.2,147.1 145.5,147.2 145.7,147.2 145.9,147.2 146.2,147.3 146.4,147.3 146.6,147.2 146.9,147.2 147.1,147.2 147.3,147.1 147.6,147.0 147.8,146.9 148.0,146.8 148.3,146.7 148.5,146.5 148.7,146.4 149.0,146.2 149.2,146.0 149.4,145.8 149.7,145.5 149.9,145.3 150.1,145.0 150.3,144.7 150.6,144.4 150.8,144.1 151.0,143.7 151.3,143.4 151.5,143.0 151.7,142.6 152.0,142.2 152.2,141.8 152.4,141.3 152.7,140.9 152.9,140.4 153.1,139.9 153.4,139.3 153.6,138.8 153.8,138.2 154.1,137.6 154.3,136.9 154.5,136.2 154.8,135.5 155.0,134.8 155.2,134.0 155.5,133.2 155.7,132.3 155.9,131.4 156.2,130.4 156.4,129.3 156.6,128.2 156.9,127.1 157.1,125.9 157.3,124.6 157.6,123.2 157.8,121.8 158.0,120.3 158.3,118.7 158.5,117.0 158.7,115.3 158.9,113.5 159.2,111.6 159.4,109.7 159.6,107.8 159.9,105.9 160.1,104.1 160.3,102.3 160.6,100.6 160.8,99.1 161.0,97.8 161.3,96.7 161.5,96.0 161.7,95.6 162.0,95.5 162.2,95.7 162.4,96.3 162.7,97.2 162.9,98.4 163.1,99.8 163.4,101.4 163.6,103.2 163.8,105.0 164.1,107.0 164.3,108.9 164.5,110.8 164.8,112.7 165.0,114.5 165.2,116.3 165.5,118.0 165.7,119.6 165.9,121.2 166.2,122.6 166.4,124.0 166.6,125.3 166.9,126.6 167.1,127.7 167.3,128.8 167.6,129.9 167.8,130.8 168.0,131.7 168.2,132.6 168.5,133.4 168.7,134.1 168.9,134.9 169.2,135.5 169.4,136.2 169.6,136.7 169.9,137.3 170.1,137.8 170.3,138.3 170.6,138.7 170.8,139.2 171.0,139.6 171.3,139.9 171.5,140.3 171.7,140.6 172.0,140.9 172.2,141.1 172.4,141.4 172.7,141.6 172.9,141.8 173.1,142.0 173.4,142.1 173.6,142.3 173.8,142.4 174.1,142.5 174.3,142.6 174.5,142.7 174.8,142.8 175.0,142.8 175.2,142.8 175.5,142.9 175.7,142.9 175.9,142.8 176.2,142.8 176.4,142.8 176.6,142.7 176.8,142.7 177.1,142.6 177.3,142.5 177.5,142.4 177.8,142.3 178.0,142.2 178.2,142.0 178.5,141.9 178.7,141.7 178.9,141.5 179.2,141.4 179.4,141.2 179.6,140.9 179.9,140.7 180.1,140.5 180.3,140.2 180.6,139.9 180.8,139.6 181.0,139.3 181.3,139.0 181.5,138.6 181.7,138.2 182.0,137.9 182.2,137.5 182.4,137.1 182.7,136.6 182.9,136.2 183.1,135.7 183.4,135.3 183.6,134.8 183.8,134.3 184.1,133.8 184.3,133.3 184.5,132.8 184.8,132.2 185.0,131.6 185.2,131.1 185.5,130.5 185.7,129.8 185.9,129.2 186.1,128.6 186.4,127.9 186.6,127.2 186.8,126.5 187.1,125.7 187.3,124.9 187.5,124.1 187.8,123.3 188.0,122.4 188.2,121.4 188.5,120.4 188.7,119.4 188.9,118.3 189.2,117.2 189.4,116.0 189.6,114.8 189.9,113.6 190.1,112.3 190.3,111.1 190.6,109.8 190.8,108.7 191.0,107.6 191.3,106.7 191.5,106.0 191.7,105.4 192.0,105.1 192.2,105.1 192.4,105.3 192.7,105.8 192.9,106.5 193.1,107.4 193.4,108.5 193.6,109.7 193.8,110.9 194.1,112.3 194.3,113.6 194.5,114.9 194.7,116.2 195.0,117.4 195.2,118.6 195.4,119.6 195.7,120.6 195.9,121.5 196.1,122.3 196.4,123.1 196.6,123.8 196.8,124.4 197.1,125.0 197.3,125.5 197.5,126.0 197.8,126.4 198.0,126.8 198.2,127.2 198.5,127.6 198.7,128.0 198.9,128.4 199.2,128.8 199.4,129.1 199.6,129.5 199.9,129.8 200.1,130.1 200.3,130.4 200.6,130.7 200.8,131.0 201.0,131.2 201.3,131.5 201.5,131.7 201.7,132.0 202.0,132.2 202.2,132.4 202.4,132.6 202.7,132.8 202.9,133.0 203.1,133.2 203.3,133.4 203.6,133.6 203.8,133.7 204.0,133.9 204.3,134.0 204.5,134.1 204.7,134.3 205.0,134.4 205.2,134.5 205.4,134.5 205.7,134.6 205.9,134.7 206.1,134.7 206.4,134.8 206.6,134.8 206.8,134.8 207.1,134.9 207.3,134.8 207.5,134.8 207.8,134.8 208.0,134.8 208.2,134.7 208.5,134.6 208.7,134.6 208.9,134.5 209.2,134.4 209.4,134.2 209.6,134.1 209.9,134.0 210.1,133.8 210.3,133.6 210.6,133.4 210.8,133.2 211.0,133.0 211.3,132.8 211.5,132.6 211.7,132.3 212.0,132.0 212.2,131.7 212.4,131.4 212.6,131.1 212.9,130.8 213.1,130.4 213.3,130.1 213.6,129.7 213.8,129.3 214.0,128.8 214.3,128.4 214.5,127.9 214.7,127.4 215.0,126.9 215.2,126.3 215.4,125.7 215.7,125.1 215.9,124.4 216.1,123.7 216.4,123.0 216.6,122.2 216.8,121.3 217.1,120.5 217.3,119.5 217.5,118.6 217.8,117.6 218.0,116.5 218.2,115.4 218.5,114.3 218.7,113.3 218.9,112.2 219.2,111.2 219.4,110.2 219.6,109.4 219.9,108.7 220.1,108.1 220.3,107.8" style="fill:none;stroke:#ff0000;stroke-width:1.4;stroke-dasharray:4.4 4.4"/>
<polyline points="11.3,194.4 11.6,194.7 11.8,195.1 12.0,195.3 12.3,195.5 12.5,195.6 12.7,195.7 13.0,195.7 13.2,195.6 13.4,195.5 13.7,195.3 13.9,195.0 14.1,194.7 14.4,194.3 14.6,193.9 14.8,193.4 15.1,192.9 15.3,192.3 15.5,191.7 15.8,191.0 16.0,190.3 16.2,189.5 16.5,188.7 16.7,187.9 16.9,187.0 17.2,186.1 17.4,185.2 17.6,184.3 17.8,183.3 18.1,182.3 18.3,181.3 18.5,180.3 18.8,179.2 19.0,178.1 19.2,177.0 19.5,175.9 19.7,174.7 19.9,173.6 20.2,172.4 20.4,171.2 20.6,169.9 20.9,168.7 21.1,167.4 21.3,166.0 21.6,164.7 21.8,163.3 22.0,161.9 22.3,160.4 22.5,158.9 22.7,157.3 23.0,155.7 23.2,154.0 23.4,152.3 23.7,150.5 23.9,148.6 24.1,146.6 24.4,144.5 24.6,142.4 24.8,140.1 25.1,137.7 25.3,135.1 25.5,132.4 25.8,129.6 26.0,126.6 26.2,123.4 26.4,120.0 26.7,116.3 26.9,112.5 27.1,108.3 27.4,103.9 27.6,99.2 27.8,94.2 28.1,88.9 28.3,83.3 28.5,77.4 28.8,71.1 29.0,64.6 29.2,57.8 29.5,50.9 29.7,44.0 29.9,37.3 30.2,31.3 30.4,27.0 30.6,25.8 30.9,28.2 31.1,33.2 31.3,39.5 31.6,46.3 31.8,53.2 32.0,60.1 32.3,66.7 32.5,73.2 32.7,79.3 33.0,85.1 33.2,90.6 33.4,95.8 33.7,100.7 33.9,105.2 34.1,109.5 34.4,113.5 34.6,117.3 34.8,120.8 35.0,124.1 35.3,127.2 35.5,130.1 35.7,132.9 36.0,135.5 36.2,137.9 36.4,140.2 36.7,142.4 36.9,144.5 37.1,146.5 37.4,148.4 37.6,150.2 37.8,152.0 38.1,153.6 38.3,155.2 38.5,156.8 38.8,158.3 39.0,159.7 39.2,161.1 39.5,162.5 39.7,163.8 39.9,165.1 40.2,166.3 40.4,167.5 40.6,168.7 40.9,169.9 41.1,171.0 41.3,172.1 41.6,173.2 41.8,174.3 42.0,175.3 42.3,176.3 42.5,177.3 42.7,178.3 43.0,179.3 43.2,180.2 43.4,181.1 43.7,182.0 43.9,182.8 44.1,183.6 44.3,184.4 44.6,185.2 44.8,185.9 45.0,186.6 45.3,187.2 45.5,187.9 45.7,188.4 46.0,189.0 46.2,189.4 46.4,189.9 46.7,190.3 46.9,190.6 47.1,190.9 47.4,191.1 47.6,191.3 47.8,191.4 48.1,191.4 48.3,191.4 48.5,191.4 48.8,191.3 49.0,191.1 49.2,190.9 49.5,190.6 49.7,190.2 49.9,189.8 50.2,189.4 50.4,188.9 50.6,188.4 50.9,187.8 51.1,187.2 51.3,186.5 51.6,185.8 51.8,185.1 52.0,184.3 52.3,183.5 52.5,182.6 52.7,181.8 52.9,180.9 53.2,180.0 53.4,179.0 53.6,178.1 53.9,177.1 54.1,176.1 54.3,175.1 54.6,174.0 54.8,172.9 55.0,171.8 55.3,170.7 55.5,169.6 55.7,168.4 56.0,167.2 56.2,166.0 56.4,164.8 56.7,163.5 56.9,162.2 57.1,160.9 57.4,159.5 57.6,158.1 57.8,156.7 58.1,155.2 58.3,153.6 58.5,152.0 58.8,150.4 59.0,148.7 59.2,146.9 59.5,145.0 59.7,143.0 59.9,140.9 60.2,138.8 60.4,136.5 60.6,134.1 60.9,131.5 61.1,128.8 61.3,126.0 61.5,123.0 61.8,119.7 62.0,116.3 62.2,112.6 62.5,108.7 62.7,104.6 62.9,100.2 63.2,95.5 63.4,90.5 63.6,85.2 63.9,79.7 64.1,73.9 64.3,67.9 64.6,61.8 64.8,55.6 65.0,49.6 65.3,44.1 65.5,39.4 65.7,36.2 66.0,35.1 66.2,36.5 66.4,39.8 66.7,44.7 66.9,50.3 67.1,56.3 67.4,62.4 67.6,68.6 67.8,74.5 68.1,80.3 68.3,85.7 68.5,91.0 68.8,95.9 69.0,100.5 69.2,104.9 69.5,109.0 69.7,112.8 69.9,116.4 70.2,119.8 70.4,122.9 70.6,125.9 70.8,128.7 71.1,131.3 71.3,133.8 71.5,136.1 71.8,138.3 72.0,140.4 72.2,142.4 72.5,144.3 72.7,146.1 72.9,147.8 73.2,149.5 73.4,151.0 73.6,152.6 73.9,154.0 74.1,155.4 74.3,156.8 74.6,158.1 74.8,159.4 75.0,160.6 75.3,161.8 75.5,163.0 75.7,164.2 76.0,165.3 76.2,166.4 76.4,167.4 76.7,168.5 76.9,169.5 77.1,170.5 77.4,171.4 77.6,172.4 77.8,173.3 78.1,174.2 78.3,175.0 78.5,175.9 78.8,176.7 79.0,177.5 79.2,178.2 79.4,179.0 79.7,179.7 79.9,180.3 80.1,181.0 80.4,181.6 80.6,182.1 80.8,182.6 81.1,183.1 81.3,183.5 81.5,183.9 81.8,184.3 82.0,184.5 82.2,184.8 82.5,185.0 82.7,185.1 82.9,185.2 83.2,185.2 83.4,185.2 83.6,185.1 83.9,185.0 84.1,184.8 84.3,184.6 84.6,184.3 84.8,183.9 85.0,183.6 85.3,183.1 85.5,182.6 85.7,182.1 86.0,181.6 86.2,180.9 86.4,180.3 86.7,179.6 86.9,178.9 87.1,178.2 87.4,177.4 87.6,176.6 87.8,175.8 88.0,174.9 88.3,174.0 88.5,173.1 88.7,172.2 89.0,171.2 89.2,170.3 89.4,169.3 89.7,168.3 89.9,167.2 90.1,166.2 90.4,165.1 90.6,164.0 90.8,162.9 91.1,161.7 91.3,160.5 91.5,159.4 91.8,158.1 92.0,156.9 92.2,155.6 92.5,154.3 92.7,152.9 92.9,151.5 93.2,150.0 93.4,148.5 93.6,147.0 93.9,145.3 94.1,143.6 94.3,141.9 94.6,140.0 94.8,138.1 95.0,136.0 95.3,133.9 95.5,131.6 95.7,129.2 96.0,126.7 96.2,124.0 96.4,121.2 96.7,118.2 96.9,115.0 97.1,111.6 97.3,107.9 97.6,104.1 97.8,100.0 98.0,95.7 98.3,91.2 98.5,86.5 98.7,81.6 99.0,76.6 99.2,71.5 99.4,66.5 99.7,61.7 99.9,57.4 100.1,53.7 100.4,51.0 100.6,49.7 100.8,49.8 101.1,51.3 101.3,54.1 101.5,57.9 101.8,62.3 102.0,67.1 102.2,72.1 102.5,77.2 102.7,82.2 102.9,87.0 103.2,91.7 103.4,96.2 103.6,100.4 103.9,104.4 104.1,108.1 104.3,111.6 104.6,114.9 104.8,118.0 105.0,121.0 105.3,123.7 105.5,126.2 105.7,128.6 105.9,130.9 106.2,133.0 106.4,135.0 106.6,136.9 106.9,138.7 107.1,140.4 107.3,142.0 107.6,143.6 107.8,145.0 108.0,146.5 108.3,147.8 108.5,149.1 108.7,150.3 109.0,151.5 109.2,152.7 109.4,153.8 109.7,154.9 109.9,155.9 110.1,156.9 110.4,157.9 110.6,158.8 110.8,159.8 111.1,160.7 111.3,161.5 111.5,162.4 111.8,163.2 112.0,164.0 112.2,164.8 112.5,165.5 112.7,166.2 112.9,166.9 113.2,167.6 113.4,168.2 113.6,168.8 113.9,169.4 114.1,169.9 114.3,170.4 114.6,170.9 114.8,171.3 115.0,171.7 115.2,172.1 115.5,172.4 115.7,172.7 115.9,172.9 116.2,173.1 116.4,173.2 116.6,173.3 116.9,173.4 117.1,173.4 117.3,173.4 117.6,173.3 117.8,173.2 118.0,173.0 118.3,172.8 118.5,172.6 118.7,172.3 119.0,171.9 119.2,171.5 119.4,171.1 119.7,170.7 119.9,170.2 120.1,169.6 120.4,169.1 120.6,168.5 120.8,167.9 121.1,167.2 121.3,166.5 121.5,165.8 121.8,165.1 122.0,164.4 122.2,163.6 122.5,162.8 122.7,162.0 122.9,161.2 123.2,160.4 123.4,159.5 123.6,158.6 123.8,157.7 124.1,156.8 124.3,155.9 124.5,154.9 124.8,153.9 125.0,152.9 125.2,151.9 125.5,150.8 125.7,149.7 125.9,148.6 126.2,147.5 126.4,146.2 126.6,144.9 126.9,143.5 127.1,142.1 127.3,140.6 127.6,139.0 127.8,137.5 128.0,135.8 128.3,134.2 128.5,132.5 128.7,130.8 129.0,129.0 129.2,127.2 129.4,125.3 129.7,123.4 129.9,121.5 130.1,119.5 130.4,117.4 130.6,115.2 130.8,112.9 131.1,110.6 131.3,108.1 131.5,105.6 131.8,103.0 132.0,100.3 132.2,97.6 132.4,95.0 132.7,92.3 132.9,89.8 133.1,87.5 133.4,85.5 133.6,83.8 133.8,82.5 134.1,81.7 134.3,81.5 134.5,81.8 134.8,82.6 135.0,84.0 135.2,85.8 135.5,88.0 135.7,90.4 135.9,93.0 136.2,95.7 136.4,98.5 136.6,101.3 136.9,104.0 137.1,106.7 137.3,109.2 137.6,111.6 137.8,113.9 138.0,116.0 138.3,118.0 138.5,119.9 138.7,121.6 139.0,123.2 139.2,124.7 139.4,126.1 139.7,127.5 139.9,128.7 140.1,129.9 140.4,131.0 140.6,132.1 140.8,133.1 141.1,134.1 141.3,135.1 141.5,136.1 141.7,137.1 142.0,138.0 142.2,138.9 142.4,139.9 142.7,140.8 142.9,141.7 143.1,142.6 143.4,143.4 143.6,144.2 143.8,145.0 144.1,145.8 144.3,146.5 144.5,147.2 144.8,147.9 145.0,148.5 145.2,149.1 145.5,149.7 145.7,150.2 145.9,150.7 146.2,151.2 146.4,151.7 146.6,152.2 146.9,152.6 147.1,153.0 147.3,153.4 147.6,153.7 147.8,154.0 148.0,154.3 148.3,154.6 148.5,154.8 148.7,155.0 149.0,155.1 149.2,155.2 149.4,155.3 149.7,155.3 149.9,155.3 150.1,155.3 150.3,155.2 150.6,155.0 150.8,154.9 151.0,154.7 151.3,154.5 151.5,154.2 151.7,154.0 152.0,153.7 152.2,153.3 152.4,153.0 152.7,152.6 152.9,152.2 153.1,151.8 153.4,151.4 153.6,150.9 153.8,150.4 154.1,149.9 154.3,149.4 154.5,148.9 154.8,148.4 155.0,147.8 155.2,147.2 155.5,146.7 155.7,146.1 155.9,145.5 156.2,144.8 156.4,144.2 156.6,143.6 156.9,142.9 157.1,142.2 157.3,141.5 157.6,140.8 157.8,140.1 158.0,139.3 158.3,138.6 158.5,137.8 158.7,136.9 158.9,136.1 159.2,135.2 159.4,134.3 159.6,133.4 159.9,132.4 160.1,131.3 160.3,130.2 160.6,129.1 160.8,127.9 161.0,126.6 161.3,125.3 161.5,123.8 161.7,122.3 162.0,120.7 162.2,119.1 162.4,117.3 162.7,115.4 162.9,113.4 163.1,111.3 163.4,109.0 163.6,106.7 163.8,104.3 164.1,101.9 164.3,99.4 164.5,97.0 164.8,94.6 165.0,92.4 165.2,90.3 165.5,88.6 165.7,87.3 165.9,86.4 166.2,86.0 166.4,86.1 166.6,86.7 166.9,87.9 167.1,89.4 167.3,91.4 167.6,93.6 167.8,95.9 168.0,98.4 168.2,100.9 168.5,103.5 168.7,106.0 168.9,108.4 169.2,110.7 169.4,112.9 169.6,115.0 169.9,117.0 170.1,118.9 170.3,120.6 170.6,122.3 170.8,123.8 171.0,125.3 171.3,126.6 171.5,127.9 171.7,129.1 172.0,130.2 172.2,131.3 172.4,132.3 172.7,133.2 172.9,134.1 173.1,135.0 173.4,135.8 173.6,136.5 173.8,137.2 174.1,137.9 174.3,138.6 174.5,139.2 174.8,139.8 175.0,140.4 175.2,141.0 175.5,141.5 175.7,142.0 175.9,142.5 176.2,142.9 176.4,143.4 176.6,143.8 176.8,144.2 177.1,144.6 177.3,144.9 177.5,145.3 177.8,145.6 178.0,145.9 178.2,146.1 178.5,146.4 178.7,146.6 178.9,146.8 179.2,147.0 179.4,147.1 179.6,147.2 179.9,147.3 180.1,147.4 180.3,147.4 180.6,147.3 180.8,147.3 181.0,147.1 181.3,147.0 181.5,146.8 181.7,146.6 182.0,146.4 182.2,146.1 182.4,145.8 182.7,145.5 182.9,145.1 183.1,144.7 183.4,144.3 183.6,143.9 183.8,143.4 184.1,142.9 184.3,142.5 184.5,142.0 184.8,141.5 185.0,140.9 185.2,140.4 185.5,139.9 185.7,139.4 185.9,138.8 186.1,138.3 186.4,137.8 186.6,137.3 186.8,136.8 187.1,136.2 187.3,135.7 187.5,135.2 187.8,134.7 188.0,134.2 188.2,133.8 188.5,133.3 188.7,132.8 188.9,132.3 189.2,131.8 189.4,131.3 189.6,130.8 189.9,130.2 190.1,129.6 190.3,129.0 190.6,128.4 190.8,127.7 191.0,127.0 191.3,126.2 191.5,125.5 191.7,124.6 192.0,123.7 192.2,122.8 192.4,121.7 192.7,120.7 192.9,119.5 193.1,118.3 193.4,117.0 193.6,115.7 193.8,114.3 194.1,112.8 194.3,111.3 194.5,109.8 194.7,108.4 195.0,107.0 195.2,105.7 195.4,104.5 195.7,103.6 195.9,102.9 196.1,102.5 196.4,102.4 196.6,102.6 196.8,103.2 197.1,103.9 197.3,104.9 197.5,106.0 197.8,107.2 198.0,108.5 198.2,109.8 198.5,111.1 198.7,112.4 198.9,113.6 199.2,114.9 199.4,116.1 199.6,117.2 199.9,118.3 200.1,119.4 200.3,120.4 200.6,121.3 200.8,122.2 201.0,123.1 201.3,123.9 201.5,124.7 201.7,125.5 202.0,126.2 202.2,126.9 202.4,127.6 202.7,128.2 202.9,128.8 203.1,129.4 203.3,130.0 203.6,130.6 203.8,131.1 204.0,131.7 204.3,132.2 204.5,132.7 204.7,133.2 205.0,133.7 205.2,134.1 205.4,134.6 205.7,135.0 205.9,135.4 206.1,135.9 206.4,136.2 206.6,136.6 206.8,137.0 207.1,137.3 207.3,137.6 207.5,138.0 207.8,138.2 208.0,138.5 208.2,138.7 208.5,138.9 208.7,139.1 208.9,139.3 209.2,139.4 209.4,139.5 209.6,139.6 209.9,139.7 210.1,139.7 210.3,139.7 210.6,139.7 210.8,139.7 211.0,139.6 211.3,139.5 211.5,139.4 211.7,139.2 212.0,139.0 212.2,138.9 212.4,138.6 212.6,138.4 212.9,138.2 213.1,137.9 213.3,137.6 213.6,137.3 213.8,137.0 214.0,136.7 214.3,136.4 214.5,136.0 214.7,135.7 215.0,135.3 215.2,135.0 215.4,134.6 215.7,134.2 215.9,133.8 216.1,133.4 216.4,133.1 216.6,132.7 216.8,132.3 217.1,131.8 217.3,131.4 217.5,131.0 217.8,130.6 218.0,130.1 218.2,129.7 218.5,129.2 218.7,128.7 218.9,128.2 219.2,127.7 219.4,127.2 219.6,126.7 219.9,126.1 220.1,125.5 220.3,124.8" style="fill:none;stroke:#ff0000;stroke-width:1.4;stroke-dasharray:4.4 4.4"/>
<polyline points="315.8,103.8 316.0,105.0 316.2,106.1 316.5,107.2 316.7,108.3 316.9,109.4 317.2,110.5 317.4,111.6 317.6,112.7 317.9,113.8 318.1,114.9 318.3,116.0 318.6,117.1 318.8,118.2 319.0,119.2 319.3,120.3 319.5,121.4 319.7,122.4 320.0,123.4 320.2,124.4 320.4,125.5 320.7,126.5 320.9,127.4 321.1,128.4 321.4,129.4 321.6,130.3 321.9,131.3 322.1,132.2 322.3,133.1 322.6,133.9 322.8,134.8 323.0,135.7 323.3,136.5 323.5,137.3 323.7,138.1 324.0,138.8 324.2,139.5 324.4,140.2 324.7,140.9 324.9,141.5 325.1,142.1 325.4,142.7 325.6,143.3 325.8,143.7 326.1,144.2 326.3,144.6 326.5,145.0 326.8,145.3 327.0,145.5 327.2,145.7 327.5,145.8 327.7,145.8 327.9,145.8 328.2,145.6 328.4,145.4 328.6,145.0 328.9,144.5 329.1,143.9 329.3,143.0 329.6,142.0 329.8,140.7 330.0,139.1 330.3,137.2 330.5,135.0 330.7,132.2 331.0,129.0 331.2,125.2 331.4,120.9 331.7,115.9 331.9,110.5 332.1,104.7 332.4,98.8 332.6,93.0 332.8,87.6 333.1,82.7 333.3,78.3 333.5,74.6 333.8,71.4 334.0,68.7 334.2,66.5 334.5,64.6 334.7,63.1 334.9,61.8 335.2,60.8 335.4,60.0 335.6,59.3 335.9,58.8 336.1,58.5 336.3,58.2 336.6,58.1 336.8,58.0 337.0,58.1 337.3,58.2 337.5,58.4 337.7,58.6 338.0,58.9 338.2,59.3 338.4,59.7 338.7,60.2 338.9,60.7 339.1,61.2 339.4,61.8 339.6,62.4 339.8,63.0 340.1,63.7 340.3,64.4 340.5,65.1 340.8,65.9 341.0,66.6 341.2,67.4 341.5,68.3 341.7,69.1 341.9,70.0 342.2,70.8 342.4,71.7 342.6,72.6 342.9,73.6 343.1,74.5 343.3,75.5 343.6,76.5 343.8,77.4 344.0,78.4 344.3,79.4 344.5,80.4 344.7,81.5 345.0,82.5 345.2,83.6 345.4,84.6 345.7,85.7 345.9,86.7 346.1,87.8 346.4,88.9 346.6,90.0 346.8,91.0 347.1,92.1 347.3,93.2 347.5,94.3 347.8,95.4 348.0,96.5 348.2,97.6 348.5,98.7 348.7,99.8 348.9,100.9 349.2,102.1 349.4,103.2 349.6,104.3 349.9,105.4 350.1,106.5 350.3,107.6 350.6,108.7 350.8,109.8 351.0,110.9 351.3,112.0 351.5,113.1 351.7,114.1 352.0,115.2 352.2,116.3 352.4,117.3 352.7,118.4 352.9,119.5 353.1,120.5 353.4,121.5 353.6,122.6 353.8,123.6 354.1,124.6 354.3,125.6 354.5,126.5 354.8,127.5 355.0,128.5 355.2,129.4 355.5,130.3 355.7,131.3 355.9,132.1 356.2,133.0 356.4,133.9 356.6,134.7 356.9,135.5 357.1,136.3 357.3,137.1 357.6,137.8 357.8,138.6 358.0,139.2 358.3,139.9 358.5,140.5 358.7,141.1 359.0,141.7 359.2,142.2 359.4,142.7 359.7,143.1 359.9,143.5 360.2,143.8 360.4,144.1 360.6,144.3 360.9,144.5 361.1,144.5 361.3,144.5 361.6,144.4 361.8,144.2 362.0,144.0 362.3,143.5 362.5,143.0 362.7,142.3 363.0,141.4 363.2,140.4 363.4,139.1 363.7,137.6 363.9,135.7 364.1,133.6 364.4,131.0 364.6,128.1 364.8,124.7 365.1,120.9 365.3,116.6 365.5,111.8 365.8,106.8 366.0,101.7 366.2,96.6 366.5,91.6 366.7,87.0 366.9,82.8 367.2,79.0 367.4,75.7 367.6,72.8 367.9,70.4 368.1,68.3 368.3,66.5 368.6,65.0 368.8,63.8 369.0,62.7 369.3,61.9 369.5,61.2 369.7,60.7 370.0,60.3 370.2,60.0 370.4,59.8 370.7,59.7 370.9,59.7 371.1,59.8 371.4,60.0 371.6,60.2 371.8,60.5 372.1,60.8 372.3,61.2 372.5,61.6 372.8,62.1 373.0,62.6 373.2,63.2 373.5,63.8 373.7,64.4 373.9,65.1 374.2,65.8 374.4,66.5 374.6,67.2 374.9,68.0 375.1,68.8 375.3,69.6 375.6,70.5 375.8,71.3 376.0,72.2 376.3,73.1 376.5,74.0 376.7,74.9 377.0,75.9 377.2,76.8 377.4,77.8 377.7,78.8 377.9,79.8 378.1,80.8 378.4,81.8 378.6,82.9 378.8,83.9 379.1,85.0 379.3,86.0 379.5,87.1 379.8,88.1 380.0,89.2 380.2,90.3 380.5,91.4 380.7,92.5 380.9,93.6 381.2,94.7 381.4,95.8 381.6,96.9 381.9,98.0 382.1,99.1 382.3,100.2 382.6,101.3 382.8,102.4 383.0,103.5 383.3,104.6 383.5,105.8 383.7,106.9 384.0,108.0 384.2,109.1 384.4,110.2 384.7,111.3 384.9,112.4 385.1,113.4 385.4,114.5 385.6,115.6 385.8,116.7 386.1,117.7 386.3,118.8 386.5,119.8 386.8,120.9 387.0,121.9 387.2,122.9 387.5,123.9 387.7,124.9 387.9,125.9 388.2,126.9 388.4,127.8 388.6,128.7 388.9,129.7 389.1,130.6 389.3,131.5 389.6,132.3 389.8,133.2 390.0,134.0 390.3,134.8 390.5,135.6 390.7,136.3 391.0,137.0 391.2,137.7 391.4,138.4 391.7,139.0 391.9,139.6 392.1,140.1 392.4,140.6 392.6,141.1 392.8,141.5 393.1,141.9 393.3,142.2 393.5,142.4 393.8,142.6 394.0,142.7 394.2,142.8 394.5,142.7 394.7,142.6 394.9,142.3 395.2,142.0 395.4,141.5 395.6,141.0 395.9,140.2 396.1,139.3 396.3,138.2 396.6,137.0 396.8,135.5 397.0,133.7 397.3,131.7 397.5,129.4 397.8,126.8 398.0,123.8 398.2,120.5 398.5,116.8 398.7,112.9 398.9,108.7 399.2,104.4 399.4,100.1 399.6,95.8 399.9,91.7 400.1,87.8 400.3,84.2 400.6,80.9 400.8,78.0 401.0,75.4 401.3,73.1 401.5,71.1 401.7,69.4 402.0,67.9 402.2,66.6 402.4,65.6 402.7,64.7 402.9,64.0 403.1,63.4 403.4,62.9 403.6,62.6 403.8,62.3 404.1,62.2 404.3,62.1 404.5,62.2 404.8,62.3 405.0,62.4 405.2,62.7 405.5,63.0 405.7,63.3 405.9,63.7 406.2,64.2 406.4,64.7 406.6,65.2 406.9,65.8 407.1,66.4 407.3,67.1 407.6,67.7 407.8,68.5 408.0,69.2 408.3,70.0 408.5,70.8 408.7,71.6 409.0,72.4 409.2,73.3 409.4,74.2 409.7,75.1 409.9,76.0 410.1,77.0 410.4,77.9 410.6,78.9 410.8,79.9 411.1,80.9 411.3,81.9 411.5,83.0 411.8,84.0 412.0,85.0 412.2,86.1 412.5,87.2 412.7,88.2 412.9,89.3 413.2,90.4 413.4,91.5 413.6,92.6 413.9,93.7 414.1,94.8 414.3,95.9 414.6,97.0 414.8,98.1 415.0,99.2 415.3,100.4 415.5,101.5 415.7,102.6 416.0,103.7 416.2,104.8 416.4,106.0 416.7,107.1 416.9,108.2 417.1,109.3 417.4,110.4 417.6,111.5 417.8,112.6 418.1,113.7 418.3,114.8 418.5,115.8 418.8,116.9 419.0,118.0 419.2,119.0 419.5,120.1 419.7,121.1 419.9,122.1 420.2,123.1 420.4,124.1 420.6,125.1 420.9,126.0 421.1,127.0 421.3,127.9 421.6,128.8 421.8,129.7 422.0,130.6 422.3,131.4 422.5,132.3 422.7,133.1 423.0,133.8 423.2,134.6 423.4,135.3 423.7,135.9 423.9,136.6 424.1,137.2 424.4,137.7 424.6,138.2 424.8,138.7 425.1,139.1 425.3,139.5 425.5,139.8 425.8,140.0 426.0,140.2 426.2,140.3 426.5,140.3 426.7,140.3 426.9,140.1 427.2,139.9 427.4,139.5 427.6,139.1 427.9,138.5 428.1,137.8 428.3,137.0 428.6,136.0 428.8,134.9 429.0,133.5 429.3,132.0 429.5,130.3 429.7,128.4 430.0,126.2 430.2,123.9 430.4,121.3 430.7,118.5 430.9,115.5 431.1,112.3 431.4,109.0 431.6,105.5 431.8,102.1 432.1,98.6 432.3,95.3 432.5,92.1 432.8,89.1 433.0,86.4 433.2,83.9 433.5,81.6 433.7,79.5 433.9,77.7 434.2,76.1 434.4,74.6 434.6,73.3 434.9,72.2 435.1,71.2 435.4,70.4 435.6,69.7 435.8,69.1 436.1,68.6 436.3,68.2 436.5,67.9 436.8,67.6 437.0,67.5 437.2,67.5 437.5,67.5 437.7,67.6 437.9,67.8 438.2,68.0 438.4,68.3 438.6,68.7 438.9,69.1 439.1,69.5 439.3,70.0 439.6,70.6 439.8,71.2 440.0,71.8 440.3,72.5 440.5,73.3 440.7,74.0 441.0,74.8 441.2,75.6 441.4,76.5 441.7,77.4 441.9,78.3 442.1,79.3 442.4,80.3 442.6,81.3 442.8,82.3 443.1,83.3 443.3,84.4 443.5,85.4 443.8,86.5 444.0,87.6 444.2,88.6 444.5,89.7 444.7,90.8 444.9,91.9 445.2,93.0 445.4,94.1 445.6,95.3 445.9,96.4 446.1,97.5 446.3,98.7 446.6,99.9 446.8,101.2 447.0,102.4 447.3,103.7 447.5,105.0 447.7,106.3 448.0,107.6 448.2,108.9 448.4,110.2 448.7,111.5 448.9,112.9 449.1,114.2 449.4,115.4 449.6,116.7 449.8,118.0 450.1,119.2 450.3,120.4 450.5,121.5 450.8,122.6 451.0,123.7 451.2,124.8 451.5,125.9 451.7,126.9 451.9,128.0 452.2,129.0 452.4,130.0 452.6,131.0 452.9,131.9 453.1,132.8 453.3,133.7 453.6,134.6 453.8,135.4 454.0,136.2 454.3,136.9 454.5,137.6 454.7,138.3 455.0,138.9 455.2,139.5 455.4,140.0 455.7,140.5 455.9,140.9 456.1,141.3 456.4,141.6 456.6,141.8 456.8,141.9 457.1,142.0 457.3,142.0 457.5,141.9 457.8,141.7 458.0,141.4 458.2,141.0 458.5,140.4 458.7,139.8 458.9,139.0 459.2,138.1 459.4,137.0 459.6,135.8 459.9,134.4 460.1,132.9 460.3,131.2 460.6,129.3 460.8,127.2 461.0,125.0 461.3,122.5 461.5,120.0 461.7,117.3 462.0,114.5 462.2,111.6 462.4,108.6 462.7,105.6 462.9,102.6 463.1,99.7 463.4,96.9 463.6,94.1 463.8,91.5 464.1,89.1 464.3,86.8 464.5,84.6 464.8,82.7 465.0,80.9 465.2,79.3 465.5,77.9 465.7,76.6 465.9,75.5 466.2,74.5 466.4,73.7 466.6,73.0 466.9,72.4 467.1,72.0 467.3,71.7 467.6,71.4 467.8,71.3 468.0,71.3 468.3,71.3 468.5,71.4 468.7,71.6 469.0,71.9 469.2,72.2 469.4,72.6 469.7,73.1 469.9,73.6 470.1,74.1 470.4,74.8 470.6,75.4 470.8,76.1 471.1,76.8 471.3,77.6 471.5,78.4 471.8,79.2 472.0,80.1 472.2,81.0 472.5,81.9 472.7,82.9 473.0,83.8 473.2,84.8 473.4,85.8 473.7,86.9 473.9,87.9 474.1,89.0 474.4,90.0 474.6,91.1 474.8,92.2 475.1,93.4 475.3,94.5 475.5,95.6 475.8,96.7 476.0,97.9 476.2,99.0 476.5,100.2 476.7,101.3 476.9,102.5 477.2,103.7 477.4,104.8 477.6,106.0 477.9,107.2 478.1,108.3 478.3,109.5 478.6,110.7 478.8,111.8 479.0,113.0 479.3,114.1 479.5,115.3 479.7,116.4 480.0,117.6 480.2,118.7 480.4,119.8 480.7,120.9 480.9,122.1 481.1,123.2 481.4,124.2 481.6,125.3 481.8,126.4 482.1,127.4 482.3,128.5 482.5,129.5 482.8,130.5 483.0,131.5 483.2,132.4 483.5,133.4 483.7,134.3 483.9,135.1 484.2,136.0 484.4,136.8 484.6,137.6 484.9,138.4 485.1,139.1 485.3,139.7 485.6,140.4 485.8,140.9 486.0,141.5 486.3,141.9 486.5,142.3 486.7,142.6 487.0,142.9 487.2,143.1 487.4,143.1 487.7,143.1 487.9,143.0 488.1,142.8 488.4,142.4 488.6,142.0 488.8,141.4 489.1,140.6 489.3,139.7 489.5,138.7 489.8,137.5 490.0,136.1 490.2,134.5 490.5,132.8 490.7,130.9 490.9,128.8 491.2,126.6 491.4,124.2 491.6,121.7 491.9,119.0 492.1,116.3 492.3,113.5 492.6,110.6 492.8,107.7 493.0,104.8 493.3,102.0 493.5,99.2 493.7,96.6 494.0,94.0 494.2,91.6 494.4,89.4 494.7,87.3 494.9,85.3 495.1,83.6 495.4,82.0 495.6,80.6 495.8,79.3 496.1,78.3 496.3,77.4 496.5,76.6 496.8,76.0 497.0,75.6 497.2,75.3 497.5,75.1 497.7,75.1 497.9,75.1 498.2,75.3 498.4,75.6 498.6,75.9 498.9,76.4 499.1,77.0 499.3,77.6 499.6,78.3 499.8,79.0 500.0,79.8 500.3,80.7 500.5,81.6 500.7,82.6 501.0,83.6 501.2,84.6 501.4,85.7 501.7,86.8 501.9,87.9 502.1,89.0 502.4,90.1 502.6,91.3 502.8,92.4 503.1,93.6 503.3,94.7 503.5,95.9 503.8,97.0 504.0,98.2 504.2,99.3 504.5,100.5 504.7,101.7 504.9,102.9 505.2,104.1 505.4,105.3 505.6,106.5 505.9,107.7 506.1,108.9 506.3,110.1 506.6,111.4 506.8,112.6 507.0,113.8 507.3,115.0 507.5,116.3 507.7,117.5 508.0,118.7 508.2,119.9 508.4,121.2 508.7,122.4 508.9,123.6 509.1,124.8 509.4,126.0 509.6,127.1 509.8,128.3 510.1,129.5 510.3,130.6 510.5,131.7 510.8,132.8 511.0,133.9 511.3,135.0 511.5,136.0 511.7,137.0 512.0,138.0 512.2,139.0 512.4,139.9 512.7,140.8 512.9,141.6 513.1,142.5 513.4,143.2 513.6,144.0 513.8,144.6 514.1,145.3 514.3,145.8 514.5,146.3 514.8,146.8 515.0,147.2 515.2,147.5 515.5,147.7 515.7,147.8 515.9,147.8 516.2,147.8 516.4,147.6 516.6,147.3 516.9,146.9 517.1,146.3 517.3,145.6 517.6,144.7 517.8,143.7 518.0,142.5 518.3,141.2 518.5,139.6 518.7,137.9 519.0,135.9 519.2,133.8 519.4,131.5 519.7,129.1 519.9,126.4 520.1,123.7 520.4,120.8 520.6,117.8 520.8,114.8 521.1,111.8 521.3,108.7 521.5,105.8 521.8,102.9 522.0,100.1 522.2,97.5 522.5,95.0 522.7,92.7 522.9,90.6 523.2,88.6 523.4,86.9 523.6,85.3 523.9,83.9 524.1,82.7 524.3,81.7 524.6,80.8 524.8,80.1 525.0,79.6 525.3,79.2 525.5,78.9 525.7,78.7" style="fill:none;stroke:#ff8000;stroke-width:1.4;stroke-linejoin:round"/>
<polyline points="315.8,97.9 316.0,99.5 316.2,101.1 316.5,102.7 316.7,104.3 316.9,105.9 317.2,107.5 317.4,109.0 317.6,110.6 317.9,112.2 318.1,113.8 318.3,115.3 318.6,116.8 318.8,118.4 319.0,119.9 319.3,121.4 319.5,122.8 319.7,124.3 320.0,125.7 320.2,127.1 320.4,128.5 320.7,129.9 320.9,131.2 321.1,132.5 321.4,133.8 321.6,135.1 321.9,136.3 322.1,137.5 322.3,138.7 322.6,139.9 322.8,141.0 323.0,142.1 323.3,143.2 323.5,144.2 323.7,145.2 324.0,146.2 324.2,147.1 324.4,148.0 324.7,148.9 324.9,149.7 325.1,150.5 325.4,151.3 325.6,152.0 325.8,152.7 326.1,153.4 326.3,154.0 326.5,154.6 326.8,155.1 327.0,155.6 327.2,156.1 327.5,156.5 327.7,156.8 327.9,157.1 328.2,157.3 328.4,157.5 328.6,157.6 328.9,157.7 329.1,157.7 329.3,157.6 329.6,157.4 329.8,157.1 330.0,156.7 330.3,156.2 330.5,155.6 330.7,154.8 331.0,153.8 331.2,152.6 331.4,151.1 331.7,149.3 331.9,147.1 332.1,144.4 332.4,141.0 332.6,136.7 332.8,131.5 333.1,125.0 333.3,117.3 333.5,108.6 333.8,99.3 334.0,90.2 334.2,82.0 334.5,75.1 334.7,69.3 334.9,64.7 335.2,61.0 335.4,58.0 335.6,55.6 335.9,53.6 336.1,52.0 336.3,50.7 336.6,49.6 336.8,48.7 337.0,48.0 337.3,47.5 337.5,47.0 337.7,46.7 338.0,46.5 338.2,46.4 338.4,46.3 338.7,46.4 338.9,46.4 339.1,46.6 339.4,46.8 339.6,47.1 339.8,47.4 340.1,47.8 340.3,48.2 340.5,48.7 340.8,49.2 341.0,49.8 341.2,50.4 341.5,51.0 341.7,51.7 341.9,52.4 342.2,53.2 342.4,54.0 342.6,54.8 342.9,55.7 343.1,56.6 343.3,57.5 343.6,58.5 343.8,59.5 344.0,60.5 344.3,61.6 344.5,62.7 344.7,63.8 345.0,64.9 345.2,66.1 345.4,67.3 345.7,68.5 345.9,69.8 346.1,71.1 346.4,72.4 346.6,73.7 346.8,75.0 347.1,76.4 347.3,77.8 347.5,79.2 347.8,80.6 348.0,82.0 348.2,83.5 348.5,85.0 348.7,86.5 348.9,88.0 349.2,89.5 349.4,91.0 349.6,92.5 349.9,94.1 350.1,95.6 350.3,97.1 350.6,98.7 350.8,100.2 351.0,101.8 351.3,103.3 351.5,104.9 351.7,106.4 352.0,108.0 352.2,109.5 352.4,111.1 352.7,112.6 352.9,114.1 353.1,115.6 353.4,117.1 353.6,118.6 353.8,120.0 354.1,121.5 354.3,122.9 354.5,124.3 354.8,125.7 355.0,127.1 355.2,128.4 355.5,129.8 355.7,131.1 355.9,132.3 356.2,133.6 356.4,134.8 356.6,136.1 356.9,137.2 357.1,138.4 357.3,139.5 357.6,140.6 357.8,141.7 358.0,142.7 358.3,143.7 358.5,144.7 358.7,145.7 359.0,146.6 359.2,147.5 359.4,148.3 359.7,149.1 359.9,149.9 360.2,150.6 360.4,151.3 360.6,152.0 360.9,152.6 361.1,153.2 361.3,153.7 361.6,154.2 361.8,154.6 362.0,155.0 362.3,155.3 362.5,155.6 362.7,155.8 363.0,155.9 363.2,156.0 363.4,156.0 363.7,155.9 363.9,155.7 364.1,155.5 364.4,155.1 364.6,154.7 364.8,154.1 365.1,153.3 365.3,152.4 365.5,151.3 365.8,150.0 366.0,148.4 366.2,146.4 366.5,144.1 366.7,141.4 366.9,138.1 367.2,134.1 367.4,129.3 367.6,123.8 367.9,117.3 368.1,110.1 368.3,102.5 368.6,94.9 368.8,87.7 369.0,81.2 369.3,75.5 369.5,70.7 369.7,66.7 370.0,63.3 370.2,60.5 370.4,58.2 370.7,56.3 370.9,54.6 371.1,53.3 371.4,52.1 371.6,51.2 371.8,50.5 372.1,49.8 372.3,49.3 372.5,49.0 372.8,48.7 373.0,48.5 373.2,48.5 373.5,48.4 373.7,48.5 373.9,48.7 374.2,48.9 374.4,49.1 374.6,49.4 374.9,49.8 375.1,50.2 375.3,50.7 375.6,51.2 375.8,51.8 376.0,52.4 376.3,53.1 376.5,53.8 376.7,54.5 377.0,55.3 377.2,56.1 377.4,57.0 377.7,57.9 377.9,58.8 378.1,59.8 378.4,60.8 378.6,61.8 378.8,62.8 379.1,63.9 379.3,65.0 379.5,66.2 379.8,67.4 380.0,68.6 380.2,69.8 380.5,71.0 380.7,72.3 380.9,73.6 381.2,74.9 381.4,76.2 381.6,77.6 381.9,79.0 382.1,80.4 382.3,81.8 382.6,83.2 382.8,84.7 383.0,86.1 383.3,87.6 383.5,89.1 383.7,90.6 384.0,92.1 384.2,93.6 384.4,95.1 384.7,96.6 384.9,98.2 385.1,99.7 385.4,101.2 385.6,102.7 385.8,104.3 386.1,105.8 386.3,107.3 386.5,108.8 386.8,110.4 387.0,111.9 387.2,113.4 387.5,114.8 387.7,116.3 387.9,117.8 388.2,119.2 388.4,120.6 388.6,122.1 388.9,123.5 389.1,124.8 389.3,126.2 389.6,127.6 389.8,128.9 390.0,130.2 390.3,131.5 390.5,132.7 390.7,133.9 391.0,135.1 391.2,136.3 391.4,137.5 391.7,138.6 391.9,139.7 392.1,140.7 392.4,141.8 392.6,142.8 392.8,143.7 393.1,144.6 393.3,145.5 393.5,146.4 393.8,147.2 394.0,148.0 394.2,148.7 394.5,149.4 394.7,150.1 394.9,150.7 395.2,151.2 395.4,151.7 395.6,152.2 395.9,152.6 396.1,152.9 396.3,153.2 396.6,153.4 396.8,153.6 397.0,153.7 397.3,153.7 397.5,153.6 397.8,153.4 398.0,153.1 398.2,152.8 398.5,152.3 398.7,151.7 398.9,150.9 399.2,150.0 399.4,148.9 399.6,147.6 399.9,146.0 400.1,144.2 400.3,142.1 400.6,139.7 400.8,136.8 401.0,133.5 401.3,129.7 401.5,125.4 401.7,120.5 402.0,115.2 402.2,109.4 402.4,103.4 402.7,97.4 402.9,91.5 403.1,86.0 403.4,81.1 403.6,76.6 403.8,72.7 404.1,69.3 404.3,66.3 404.5,63.8 404.8,61.6 405.0,59.7 405.2,58.1 405.5,56.7 405.7,55.6 405.9,54.6 406.2,53.8 406.4,53.1 406.6,52.6 406.9,52.2 407.1,51.9 407.3,51.7 407.6,51.6 407.8,51.5 408.0,51.6 408.3,51.7 408.5,51.9 408.7,52.2 409.0,52.5 409.2,52.9 409.4,53.3 409.7,53.8 409.9,54.4 410.1,55.0 410.4,55.7 410.6,56.4 410.8,57.1 411.1,57.9 411.3,58.7 411.5,59.6 411.8,60.5 412.0,61.4 412.2,62.4 412.5,63.4 412.7,64.4 412.9,65.5 413.2,66.6 413.4,67.8 413.6,68.9 413.9,70.1 414.1,71.3 414.3,72.6 414.6,73.9 414.8,75.1 415.0,76.5 415.3,77.8 415.5,79.1 415.7,80.5 416.0,81.9 416.2,83.3 416.4,84.7 416.7,86.2 416.9,87.6 417.1,89.1 417.4,90.5 417.6,92.0 417.8,93.5 418.1,95.0 418.3,96.5 418.5,98.0 418.8,99.5 419.0,101.0 419.2,102.5 419.5,104.0 419.7,105.5 419.9,107.0 420.2,108.5 420.4,109.9 420.6,111.4 420.9,112.9 421.1,114.4 421.3,115.8 421.6,117.2 421.8,118.7 422.0,120.1 422.3,121.5 422.5,122.8 422.7,124.2 423.0,125.5 423.2,126.9 423.4,128.2 423.7,129.4 423.9,130.7 424.1,131.9 424.4,133.1 424.6,134.3 424.8,135.5 425.1,136.6 425.3,137.7 425.5,138.7 425.8,139.7 426.0,140.7 426.2,141.7 426.5,142.6 426.7,143.5 426.9,144.3 427.2,145.1 427.4,145.9 427.6,146.6 427.9,147.2 428.1,147.8 428.3,148.4 428.6,148.9 428.8,149.3 429.0,149.7 429.3,150.0 429.5,150.3 429.7,150.4 430.0,150.5 430.2,150.5 430.4,150.4 430.7,150.2 430.9,149.9 431.1,149.5 431.4,149.0 431.6,148.3 431.8,147.4 432.1,146.3 432.3,145.1 432.5,143.6 432.8,141.8 433.0,139.9 433.2,137.6 433.5,135.1 433.7,132.4 433.9,129.4 434.2,126.1 434.4,122.6 434.6,118.9 434.9,115.0 435.1,111.0 435.4,107.0 435.6,102.9 435.8,98.9 436.1,95.0 436.3,91.3 436.5,87.7 436.8,84.3 437.0,81.2 437.2,78.3 437.5,75.6 437.7,73.2 437.9,71.0 438.2,69.0 438.4,67.2 438.6,65.6 438.9,64.2 439.1,63.0 439.3,61.9 439.6,60.9 439.8,60.2 440.0,59.5 440.3,59.0 440.5,58.6 440.7,58.3 441.0,58.1 441.2,58.0 441.4,58.1 441.7,58.2 441.9,58.4 442.1,58.7 442.4,59.1 442.6,59.5 442.8,60.0 443.1,60.6 443.3,61.2 443.5,61.9 443.8,62.6 444.0,63.4 444.2,64.3 444.5,65.1 444.7,66.0 444.9,67.0 445.2,68.0 445.4,69.0 445.6,70.0 445.9,71.1 446.1,72.3 446.3,73.5 446.6,74.7 446.8,76.1 447.0,77.4 447.3,78.8 447.5,80.3 447.7,81.8 448.0,83.3 448.2,84.9 448.4,86.5 448.7,88.1 448.9,89.8 449.1,91.5 449.4,93.1 449.6,94.8 449.8,96.4 450.1,98.1 450.3,99.7 450.5,101.3 450.8,102.8 451.0,104.4 451.2,106.0 451.5,107.6 451.7,109.1 451.9,110.7 452.2,112.2 452.4,113.8 452.6,115.3 452.9,116.8 453.1,118.3 453.3,119.8 453.6,121.3 453.8,122.8 454.0,124.2 454.3,125.6 454.5,127.1 454.7,128.4 455.0,129.8 455.2,131.1 455.4,132.5 455.7,133.7 455.9,135.0 456.1,136.2 456.4,137.4 456.6,138.6 456.8,139.7 457.1,140.8 457.3,141.9 457.5,142.9 457.8,143.9 458.0,144.9 458.2,145.8 458.5,146.6 458.7,147.5 458.9,148.2 459.2,148.9 459.4,149.6 459.6,150.2 459.9,150.7 460.1,151.2 460.3,151.6 460.6,152.0 460.8,152.3 461.0,152.4 461.3,152.5 461.5,152.6 461.7,152.5 462.0,152.3 462.2,152.0 462.4,151.6 462.7,151.1 462.9,150.4 463.1,149.6 463.4,148.7 463.6,147.5 463.8,146.3 464.1,144.8 464.3,143.1 464.5,141.3 464.8,139.2 465.0,136.8 465.2,134.3 465.5,131.5 465.7,128.5 465.9,125.2 466.2,121.8 466.4,118.1 466.6,114.3 466.9,110.5 467.1,106.5 467.3,102.6 467.6,98.8 467.8,95.0 468.0,91.4 468.3,88.0 468.5,84.9 468.7,81.9 469.0,79.2 469.2,76.7 469.4,74.5 469.7,72.5 469.9,70.7 470.1,69.1 470.4,67.7 470.6,66.5 470.8,65.5 471.1,64.6 471.3,63.9 471.5,63.3 471.8,62.8 472.0,62.5 472.2,62.3 472.5,62.2 472.7,62.2 473.0,62.3 473.2,62.5 473.4,62.8 473.7,63.1 473.9,63.6 474.1,64.1 474.4,64.6 474.6,65.3 474.8,66.0 475.1,66.7 475.3,67.6 475.5,68.4 475.8,69.3 476.0,70.3 476.2,71.3 476.5,72.3 476.7,73.4 476.9,74.5 477.2,75.7 477.4,76.9 477.6,78.1 477.9,79.3 478.1,80.6 478.3,81.9 478.6,83.2 478.8,84.5 479.0,85.9 479.3,87.3 479.5,88.7 479.7,90.1 480.0,91.6 480.2,93.0 480.4,94.5 480.7,96.0 480.9,97.5 481.1,99.0 481.4,100.5 481.6,102.0 481.8,103.5 482.1,105.0 482.3,106.6 482.5,108.1 482.8,109.6 483.0,111.1 483.2,112.7 483.5,114.2 483.7,115.7 483.9,117.2 484.2,118.8 484.4,120.3 484.6,121.7 484.9,123.2 485.1,124.7 485.3,126.2 485.6,127.6 485.8,129.1 486.0,130.5 486.3,131.9 486.5,133.3 486.7,134.7 487.0,136.0 487.2,137.3 487.4,138.6 487.7,139.8 487.9,141.1 488.1,142.2 488.4,143.4 488.6,144.5 488.8,145.5 489.1,146.5 489.3,147.5 489.5,148.4 489.8,149.2 490.0,150.0 490.2,150.7 490.5,151.4 490.7,152.0 490.9,152.5 491.2,153.0 491.4,153.3 491.6,153.6 491.9,153.7 492.1,153.8 492.3,153.8 492.6,153.6 492.8,153.4 493.0,153.0 493.3,152.5 493.5,151.8 493.7,151.0 494.0,150.0 494.2,148.8 494.4,147.4 494.7,145.9 494.9,144.1 495.1,142.1 495.4,139.9 495.6,137.5 495.8,134.7 496.1,131.8 496.3,128.6 496.5,125.2 496.8,121.6 497.0,117.8 497.2,114.0 497.5,110.1 497.7,106.1 497.9,102.3 498.2,98.5 498.4,94.9 498.6,91.5 498.9,88.3 499.1,85.4 499.3,82.7 499.6,80.3 499.8,78.1 500.0,76.2 500.3,74.6 500.5,73.2 500.7,72.0 501.0,71.0 501.2,70.2 501.4,69.6 501.7,69.1 501.9,68.9 502.1,68.7 502.4,68.7 502.6,68.8 502.8,69.0 503.1,69.3 503.3,69.6 503.5,70.1 503.8,70.6 504.0,71.2 504.2,71.9 504.5,72.6 504.7,73.4 504.9,74.2 505.2,75.1 505.4,76.1 505.6,77.1 505.9,78.2 506.1,79.3 506.3,80.5 506.6,81.7 506.8,82.9 507.0,84.2 507.3,85.5 507.5,86.9 507.7,88.2 508.0,89.6 508.2,91.1 508.4,92.5 508.7,94.0 508.9,95.5 509.1,97.0 509.4,98.5 509.6,100.1 509.8,101.6 510.1,103.2 510.3,104.8 510.5,106.3 510.8,107.9 511.0,109.5 511.3,111.1 511.5,112.7 511.7,114.3 512.0,115.9 512.2,117.5 512.4,119.1 512.7,120.6 512.9,122.2 513.1,123.7 513.4,125.3 513.6,126.8 513.8,128.3 514.1,129.8 514.3,131.3 514.5,132.8 514.8,134.3 515.0,135.7 515.2,137.1 515.5,138.5 515.7,139.9 515.9,141.2 516.2,142.5 516.4,143.8 516.6,145.1 516.9,146.3 517.1,147.5 517.3,148.6 517.6,149.7 517.8,150.8 518.0,151.8 518.3,152.7 518.5,153.6 518.7,154.5 519.0,155.2 519.2,156.0 519.4,156.6 519.7,157.2 519.9,157.7 520.1,158.1 520.4,158.4 520.6,158.6 520.8,158.8 521.1,158.8 521.3,158.6 521.5,158.4 521.8,158.0 522.0,157.5 522.2,156.8 522.5,155.9 522.7,154.8 522.9,153.6 523.2,152.1 523.4,150.5 523.6,148.6 523.9,146.4 524.1,144.0 524.3,141.4 524.6,138.5 524.8,135.3 525.0,132.0 525.3,128.4 525.5,124.7 525.7,120.8" style="fill:none;stroke:#1e8c1e;stroke-width:1.4;stroke-linejoin:round"/>
<polyline points="315.8,85.3 316.0,87.7 316.2,90.2 316.5,92.6 316.7,95.1 316.9,97.7 317.2,100.2 317.4,102.7 317.6,105.3 317.9,107.8 318.1,110.3 318.3,112.8 318.6,115.2 318.8,117.6 319.0,120.0 319.3,122.3 319.5,124.5 319.7,126.7 320.0,128.8 320.2,130.9 320.4,132.9 320.7,134.9 320.9,136.8 321.1,138.6 321.4,140.4 321.6,142.1 321.9,143.7 322.1,145.3 322.3,146.8 322.6,148.3 322.8,149.7 323.0,151.1 323.3,152.4 323.5,153.6 323.7,154.8 324.0,156.0 324.2,157.1 324.4,158.2 324.7,159.2 324.9,160.2 325.1,161.1 325.4,162.0 325.6,162.9 325.8,163.7 326.1,164.4 326.3,165.2 326.5,165.8 326.8,166.5 327.0,167.1 327.2,167.6 327.5,168.2 327.7,168.7 327.9,169.1 328.2,169.5 328.4,169.9 328.6,170.2 328.9,170.4 329.1,170.7 329.3,170.9 329.6,171.0 329.8,171.1 330.0,171.1 330.3,171.1 330.5,171.1 330.7,171.0 331.0,170.8 331.2,170.6 331.4,170.2 331.7,169.9 331.9,169.4 332.1,168.8 332.4,168.1 332.6,167.3 332.8,166.3 333.1,165.1 333.3,163.6 333.5,161.8 333.8,159.4 334.0,156.1 334.2,151.6 334.5,145.0 334.7,134.9 334.9,119.2 335.2,98.5 335.4,79.1 335.6,65.4 335.9,56.6 336.1,50.9 336.3,46.9 336.6,44.0 336.8,41.7 337.0,40.0 337.3,38.6 337.5,37.5 337.7,36.6 338.0,35.8 338.2,35.1 338.4,34.6 338.7,34.2 338.9,33.8 339.1,33.5 339.4,33.3 339.6,33.2 339.8,33.1 340.1,33.0 340.3,33.0 340.5,33.1 340.8,33.2 341.0,33.4 341.2,33.6 341.5,33.8 341.7,34.1 341.9,34.5 342.2,34.9 342.4,35.3 342.6,35.8 342.9,36.3 343.1,36.9 343.3,37.5 343.6,38.1 343.8,38.8 344.0,39.5 344.3,40.3 344.5,41.1 344.7,41.9 345.0,42.8 345.2,43.8 345.4,44.7 345.7,45.8 345.9,46.8 346.1,48.0 346.4,49.1 346.6,50.3 346.8,51.6 347.1,52.9 347.3,54.2 347.5,55.7 347.8,57.1 348.0,58.6 348.2,60.2 348.5,61.8 348.7,63.5 348.9,65.2 349.2,67.0 349.4,68.8 349.6,70.7 349.9,72.6 350.1,74.6 350.3,76.7 350.6,78.8 350.8,80.9 351.0,83.1 351.3,85.3 351.5,87.6 351.7,89.9 352.0,92.2 352.2,94.6 352.4,96.9 352.7,99.3 352.9,101.7 353.1,104.0 353.4,106.4 353.6,108.8 353.8,111.1 354.1,113.4 354.3,115.7 354.5,117.9 354.8,120.1 355.0,122.3 355.2,124.4 355.5,126.5 355.7,128.5 355.9,130.5 356.2,132.4 356.4,134.3 356.6,136.1 356.9,137.8 357.1,139.6 357.3,141.2 357.6,142.8 357.8,144.3 358.0,145.8 358.3,147.3 358.5,148.7 358.7,150.0 359.0,151.3 359.2,152.6 359.4,153.8 359.7,154.9 359.9,156.0 360.2,157.1 360.4,158.1 360.6,159.1 360.9,160.0 361.1,160.9 361.3,161.7 361.6,162.5 361.8,163.3 362.0,164.0 362.3,164.6 362.5,165.3 362.7,165.8 363.0,166.4 363.2,166.9 363.4,167.3 363.7,167.7 363.9,168.1 364.1,168.4 364.4,168.6 364.6,168.8 364.8,169.0 365.1,169.1 365.3,169.1 365.5,169.1 365.8,169.0 366.0,168.9 366.2,168.7 366.5,168.4 366.7,168.0 366.9,167.5 367.2,167.0 367.4,166.3 367.6,165.5 367.9,164.5 368.1,163.3 368.3,162.0 368.6,160.3 368.8,158.3 369.0,155.8 369.3,152.7 369.5,148.7 369.7,143.5 370.0,136.6 370.2,127.3 370.4,115.4 370.7,101.5 370.9,87.8 371.1,76.2 371.4,67.2 371.6,60.4 371.8,55.4 372.1,51.5 372.3,48.5 372.5,46.1 372.8,44.1 373.0,42.5 373.2,41.1 373.5,40.0 373.7,39.0 373.9,38.2 374.2,37.5 374.4,37.0 374.6,36.5 374.9,36.2 375.1,35.9 375.3,35.7 375.6,35.5 375.8,35.5 376.0,35.5 376.3,35.5 376.5,35.6 376.7,35.8 377.0,36.0 377.2,36.3 377.4,36.6 377.7,37.0 377.9,37.4 378.1,37.9 378.4,38.4 378.6,39.0 378.8,39.6 379.1,40.3 379.3,41.0 379.5,41.7 379.8,42.5 380.0,43.4 380.2,44.3 380.5,45.2 380.7,46.2 380.9,47.2 381.2,48.3 381.4,49.4 381.6,50.6 381.9,51.8 382.1,53.1 382.3,54.4 382.6,55.7 382.8,57.2 383.0,58.6 383.3,60.1 383.5,61.7 383.7,63.3 384.0,64.9 384.2,66.6 384.4,68.4 384.7,70.2 384.9,72.0 385.1,73.9 385.4,75.9 385.6,77.9 385.8,79.9 386.1,82.0 386.3,84.1 386.5,86.2 386.8,88.3 387.0,90.5 387.2,92.7 387.5,95.0 387.7,97.2 387.9,99.5 388.2,101.7 388.4,104.0 388.6,106.2 388.9,108.4 389.1,110.7 389.3,112.8 389.6,115.0 389.8,117.2 390.0,119.3 390.3,121.3 390.5,123.4 390.7,125.4 391.0,127.3 391.2,129.3 391.4,131.1 391.7,132.9 391.9,134.7 392.1,136.4 392.4,138.1 392.6,139.8 392.8,141.3 393.1,142.9 393.3,144.4 393.5,145.8 393.8,147.2 394.0,148.5 394.2,149.8 394.5,151.1 394.7,152.3 394.9,153.4 395.2,154.5 395.4,155.6 395.6,156.6 395.9,157.6 396.1,158.5 396.3,159.3 396.6,160.2 396.8,161.0 397.0,161.7 397.3,162.4 397.5,163.0 397.8,163.6 398.0,164.1 398.2,164.6 398.5,165.0 398.7,165.4 398.9,165.7 399.2,166.0 399.4,166.2 399.6,166.3 399.9,166.4 400.1,166.4 400.3,166.3 400.6,166.1 400.8,165.9 401.0,165.6 401.3,165.2 401.5,164.6 401.7,164.0 402.0,163.3 402.2,162.3 402.4,161.3 402.7,160.0 402.9,158.6 403.1,156.9 403.4,154.8 403.6,152.5 403.8,149.6 404.1,146.2 404.3,142.1 404.5,137.2 404.8,131.3 405.0,124.2 405.2,116.0 405.5,107.0 405.7,97.6 405.9,88.7 406.2,80.6 406.4,73.7 406.6,67.8 406.9,63.0 407.1,59.0 407.3,55.7 407.6,52.9 407.8,50.5 408.0,48.6 408.3,46.9 408.5,45.4 408.7,44.2 409.0,43.1 409.2,42.2 409.4,41.4 409.7,40.8 409.9,40.3 410.1,39.9 410.4,39.6 410.6,39.3 410.8,39.2 411.1,39.2 411.3,39.2 411.5,39.3 411.8,39.4 412.0,39.7 412.2,39.9 412.5,40.3 412.7,40.7 412.9,41.2 413.2,41.7 413.4,42.3 413.6,42.9 413.9,43.6 414.1,44.4 414.3,45.2 414.6,46.0 414.8,46.9 415.0,47.9 415.3,48.9 415.5,49.9 415.7,51.0 416.0,52.1 416.2,53.3 416.4,54.6 416.7,55.9 416.9,57.2 417.1,58.6 417.4,60.0 417.6,61.5 417.8,63.0 418.1,64.6 418.3,66.2 418.5,67.8 418.8,69.5 419.0,71.3 419.2,73.0 419.5,74.9 419.7,76.7 419.9,78.6 420.2,80.5 420.4,82.5 420.6,84.5 420.9,86.5 421.1,88.5 421.3,90.6 421.6,92.6 421.8,94.7 422.0,96.8 422.3,98.9 422.5,101.0 422.7,103.1 423.0,105.2 423.2,107.3 423.4,109.3 423.7,111.4 423.9,113.4 424.1,115.4 424.4,117.4 424.6,119.4 424.8,121.3 425.1,123.3 425.3,125.1 425.5,127.0 425.8,128.8 426.0,130.6 426.2,132.3 426.5,134.0 426.7,135.6 426.9,137.2 427.2,138.8 427.4,140.3 427.6,141.8 427.9,143.2 428.1,144.6 428.3,146.0 428.6,147.3 428.8,148.5 429.0,149.8 429.3,150.9 429.5,152.0 429.7,153.1 430.0,154.1 430.2,155.1 430.4,156.0 430.7,156.8 430.9,157.6 431.1,158.4 431.4,159.1 431.6,159.7 431.8,160.3 432.1,160.9 432.3,161.3 432.5,161.7 432.8,162.0 433.0,162.2 433.2,162.3 433.5,162.3 433.7,162.1 433.9,161.9 434.2,161.6 434.4,161.1 434.6,160.5 434.9,159.8 435.1,158.9 435.4,157.9 435.6,156.8 435.8,155.4 436.1,153.9 436.3,152.2 436.5,150.3 436.8,148.1 437.0,145.7 437.2,142.9 437.5,139.9 437.7,136.6 437.9,132.9 438.2,128.8 438.4,124.4 438.6,119.7 438.9,114.7 439.1,109.6 439.3,104.3 439.6,99.0 439.8,93.8 440.0,88.8 440.3,84.0 440.5,79.6 440.7,75.5 441.0,71.8 441.2,68.4 441.4,65.3 441.7,62.6 441.9,60.2 442.1,58.0 442.4,56.2 442.6,54.5 442.8,53.0 443.1,51.8 443.3,50.7 443.5,49.8 443.8,49.0 444.0,48.4 444.2,47.9 444.5,47.6 444.7,47.3 444.9,47.2 445.2,47.1 445.4,47.1 445.6,47.3 445.9,47.5 446.1,47.8 446.3,48.2 446.6,48.7 446.8,49.3 447.0,50.0 447.3,50.8 447.5,51.7 447.7,52.6 448.0,53.7 448.2,54.8 448.4,56.0 448.7,57.3 448.9,58.7 449.1,60.1 449.4,61.6 449.6,63.1 449.8,64.6 450.1,66.2 450.3,67.8 450.5,69.4 450.8,71.1 451.0,72.8 451.2,74.5 451.5,76.3 451.7,78.1 451.9,80.0 452.2,81.8 452.4,83.7 452.6,85.7 452.9,87.6 453.1,89.6 453.3,91.6 453.6,93.6 453.8,95.6 454.0,97.7 454.3,99.7 454.5,101.8 454.7,103.8 455.0,105.9 455.2,107.9 455.4,110.0 455.7,112.0 455.9,114.0 456.1,116.0 456.4,118.0 456.6,120.0 456.8,121.9 457.1,123.8 457.3,125.7 457.5,127.6 457.8,129.5 458.0,131.3 458.2,133.0 458.5,134.8 458.7,136.5 458.9,138.1 459.2,139.8 459.4,141.4 459.6,142.9 459.9,144.4 460.1,145.9 460.3,147.3 460.6,148.7 460.8,150.0 461.0,151.3 461.3,152.5 461.5,153.7 461.7,154.8 462.0,155.9 462.2,156.9 462.4,157.9 462.7,158.8 462.9,159.7 463.1,160.5 463.4,161.2 463.6,161.9 463.8,162.5 464.1,163.1 464.3,163.6 464.5,164.0 464.8,164.3 465.0,164.6 465.2,164.7 465.5,164.8 465.7,164.8 465.9,164.7 466.2,164.5 466.4,164.1 466.6,163.7 466.9,163.1 467.1,162.3 467.3,161.5 467.6,160.4 467.8,159.2 468.0,157.8 468.3,156.2 468.5,154.3 468.7,152.2 469.0,149.9 469.2,147.3 469.4,144.3 469.7,141.1 469.9,137.4 470.1,133.5 470.4,129.2 470.6,124.6 470.8,119.7 471.1,114.5 471.3,109.3 471.5,104.0 471.8,98.7 472.0,93.7 472.2,88.8 472.5,84.3 472.7,80.1 473.0,76.3 473.2,72.8 473.4,69.6 473.7,66.8 473.9,64.2 474.1,62.0 474.4,60.0 474.6,58.3 474.8,56.8 475.1,55.5 475.3,54.3 475.5,53.4 475.8,52.7 476.0,52.0 476.2,51.6 476.5,51.2 476.7,51.0 476.9,50.9 477.2,51.0 477.4,51.1 477.6,51.3 477.9,51.6 478.1,52.0 478.3,52.5 478.6,53.1 478.8,53.7 479.0,54.5 479.3,55.3 479.5,56.1 479.7,57.1 480.0,58.1 480.2,59.1 480.4,60.2 480.7,61.4 480.9,62.7 481.1,64.0 481.4,65.3 481.6,66.7 481.8,68.2 482.1,69.7 482.3,71.2 482.5,72.8 482.8,74.5 483.0,76.2 483.2,77.9 483.5,79.7 483.7,81.5 483.9,83.3 484.2,85.2 484.4,87.1 484.6,89.1 484.9,91.1 485.1,93.1 485.3,95.1 485.6,97.2 485.8,99.2 486.0,101.3 486.3,103.5 486.5,105.6 486.7,107.7 487.0,109.8 487.2,111.9 487.4,114.1 487.7,116.2 487.9,118.2 488.1,120.3 488.4,122.4 488.6,124.4 488.8,126.4 489.1,128.4 489.3,130.3 489.5,132.2 489.8,134.1 490.0,136.0 490.2,137.8 490.5,139.5 490.7,141.2 490.9,142.9 491.2,144.6 491.4,146.1 491.6,147.7 491.9,149.2 492.1,150.6 492.3,152.0 492.6,153.3 492.8,154.6 493.0,155.9 493.3,157.0 493.5,158.2 493.7,159.2 494.0,160.2 494.2,161.2 494.4,162.0 494.7,162.8 494.9,163.6 495.1,164.3 495.4,164.9 495.6,165.4 495.8,165.8 496.1,166.2 496.3,166.4 496.5,166.6 496.8,166.6 497.0,166.4 497.2,166.2 497.5,165.8 497.7,165.2 497.9,164.4 498.2,163.5 498.4,162.3 498.6,160.9 498.9,159.2 499.1,157.3 499.3,155.0 499.6,152.5 499.8,149.6 500.0,146.3 500.3,142.8 500.5,138.8 500.7,134.6 501.0,130.0 501.2,125.3 501.4,120.3 501.7,115.2 501.9,110.1 502.1,105.1 502.4,100.3 502.6,95.6 502.8,91.2 503.1,87.1 503.3,83.3 503.5,79.8 503.8,76.6 504.0,73.7 504.2,71.1 504.5,68.8 504.7,66.8 504.9,65.0 505.2,63.4 505.4,62.1 505.6,61.0 505.9,60.1 506.1,59.3 506.3,58.8 506.6,58.4 506.8,58.1 507.0,58.0 507.3,58.0 507.5,58.2 507.7,58.5 508.0,58.9 508.2,59.4 508.4,60.0 508.7,60.7 508.9,61.5 509.1,62.4 509.4,63.3 509.6,64.4 509.8,65.5 510.1,66.7 510.3,67.9 510.5,69.2 510.8,70.6 511.0,72.1 511.3,73.6 511.5,75.2 511.7,76.8 512.0,78.4 512.2,80.1 512.4,81.9 512.7,83.7 512.9,85.5 513.1,87.4 513.4,89.3 513.6,91.3 513.8,93.2 514.1,95.2 514.3,97.3 514.5,99.3 514.8,101.4 515.0,103.5 515.2,105.6 515.5,107.7 515.7,109.8 515.9,111.9 516.2,114.0 516.4,116.1 516.6,118.3 516.9,120.4 517.1,122.5 517.3,124.6 517.6,126.6 517.8,128.7 518.0,130.7 518.3,132.7 518.5,134.6 518.7,136.6 519.0,138.5 519.2,140.4 519.4,142.2 519.7,144.0 519.9,145.8 520.1,147.5 520.4,149.1 520.6,150.8 520.8,152.4 521.1,153.9 521.3,155.4 521.5,156.8 521.8,158.2 522.0,159.5 522.2,160.8 522.5,162.0 522.7,163.1 522.9,164.2 523.2,165.2 523.4,166.2 523.6,167.1 523.9,167.9 524.1,168.6 524.3,169.3 524.6,169.9 524.8,170.3 525.0,170.7 525.3,171.0 525.5,171.2 525.7,171.2" style="fill:none;stroke:#0000ff;stroke-width:1.4;stroke-linejoin:round"/>
<polyline points="315.8,103.8 316.0,105.0 316.2,106.1 316.5,107.2 316.7,108.3 316.9,109.4 317.2,110.5 317.4,111.6 317.6,112.7 317.9,113.8 318.1,114.9 318.3,116.0 318.6,117.1 318.8,118.2 319.0,119.2 319.3,120.3 319.5,121.4 319.7,122.4 320.0,123.4 320.2,124.4 320.4,125.5 320.7,126.5 320.9,127.4 321.1,128.4 321.4,129.4 321.6,130.3 321.9,131.3 322.1,132.2 322.3,133.1 322.6,133.9 322.8,134.8 323.0,135.7 323.3,136.5 323.5,137.3 323.7,138.1 324.0,138.8 324.2,139.5 324.4,140.2 324.7,140.9 324.9,141.5 325.1,142.1 325.4,142.7 325.6,143.3 325.8,143.7 326.1,144.2 326.3,144.6 326.5,145.0 326.8,145.3 327.0,145.5 327.2,145.7 327.5,145.8 327.7,145.8 327.9,145.8 328.2,145.6 328.4,145.4 328.6,145.0 328.9,144.5 329.1,143.9 329.3,143.0 329.6,142.0 329.8,140.7 330.0,139.1 330.3,137.2 330.5,135.0 330.7,132.2 331.0,129.0 331.2,125.2 331.4,120.9 331.7,115.9 331.9,110.5 332.1,104.7 332.4,98.8 332.6,93.0 332.8,87.6 333.1,82.7 333.3,78.3 333.5,74.6 333.8,71.4 334.0,68.7 334.2,66.5 334.5,64.6 334.7,63.1 334.9,61.8 335.2,60.8 335.4,60.0 335.6,59.3 335.9,58.8 336.1,58.5 336.3,58.2 336.6,58.1 336.8,58.0 337.0,58.1 337.3,58.2 337.5,58.4 337.7,58.6 338.0,58.9 338.2,59.3 338.4,59.7 338.7,60.2 338.9,60.7 339.1,61.2 339.4,61.8 339.6,62.4 339.8,63.0 340.1,63.7 340.3,64.4 340.5,65.1 340.8,65.9 341.0,66.6 341.2,67.4 341.5,68.3 341.7,69.1 341.9,70.0 342.2,70.8 342.4,71.7 342.6,72.6 342.9,73.6 343.1,74.5 343.3,75.5 343.6,76.5 343.8,77.4 344.0,78.4 344.3,79.4 344.5,80.4 344.7,81.5 345.0,82.5 345.2,83.6 345.4,84.6 345.7,85.7 345.9,86.7 346.1,87.8 346.4,88.9 346.6,90.0 346.8,91.0 347.1,92.1 347.3,93.2 347.5,94.3 347.8,95.4 348.0,96.5 348.2,97.6 348.5,98.7 348.7,99.8 348.9,100.9 349.2,102.1 349.4,103.2 349.6,104.3 349.9,105.4 350.1,106.5 350.3,107.6 350.6,108.7 350.8,109.8 351.0,110.9 351.3,112.0 351.5,113.1 351.7,114.1 352.0,115.2 352.2,116.3 352.4,117.3 352.7,118.4 352.9,119.5 353.1,120.5 353.4,121.5 353.6,122.6 353.8,123.6 354.1,124.6 354.3,125.6 354.5,126.5 354.8,127.5 355.0,128.5 355.2,129.4 355.5,130.3 355.7,131.3 355.9,132.1 356.2,133.0 356.4,133.9 356.6,134.7 356.9,135.5 357.1,136.3 357.3,137.1 357.6,137.8 357.8,138.6 358.0,139.2 358.3,139.9 358.5,140.5 358.7,141.1 359.0,141.7 359.2,142.2 359.4,142.7 359.7,143.1 359.9,143.5 360.2,143.8 360.4,144.1 360.6,144.3 360.9,144.5 361.1,144.5 361.3,144.5 361.6,144.4 361.8,144.2 362.0,144.0 362.3,143.5 362.5,143.0 362.7,142.3 363.0,141.4 363.2,140.4 363.4,139.1 363.7,137.6 363.9,135.7 364.1,133.6 364.4,131.0 364.6,128.1 364.8,124.7 365.1,120.9 365.3,116.6 365.5,111.8 365.8,106.8 366.0,101.7 366.2,96.6 366.5,91.6 366.7,87.0 366.9,82.8 367.2,79.0 367.4,75.7 367.6,72.8 367.9,70.4 368.1,68.3 368.3,66.5 368.6,65.0 368.8,63.8 369.0,62.7 369.3,61.9 369.5,61.2 369.7,60.7 370.0,60.3 370.2,60.0 370.4,59.8 370.7,59.7 370.9,59.7 371.1,59.8 371.4,60.0 371.6,60.2 371.8,60.5 372.1,60.8 372.3,61.2 372.5,61.6 372.8,62.1 373.0,62.6 373.2,63.2 373.5,63.8 373.7,64.4 373.9,65.1 374.2,65.8 374.4,66.5 374.6,67.2 374.9,68.0 375.1,68.8 375.3,69.6 375.6,70.5 375.8,71.3 376.0,72.2 376.3,73.1 376.5,74.0 376.7,74.9 377.0,75.9 377.2,76.8 377.4,77.8 377.7,78.8 377.9,79.8 378.1,80.8 378.4,81.8 378.6,82.9 378.8,83.9 379.1,85.0 379.3,86.0 379.5,87.1 379.8,88.1 380.0,89.2 380.2,90.3 380.5,91.4 380.7,92.5 380.9,93.6 381.2,94.7 381.4,95.8 381.6,96.9 381.9,98.0 382.1,99.1 382.3,100.2 382.6,101.3 382.8,102.4 383.0,103.5 383.3,104.6 383.5,105.8 383.7,106.9 384.0,108.0 384.2,109.1 384.4,110.2 384.7,111.3 384.9,112.4 385.1,113.4 385.4,114.5 385.6,115.6 385.8,116.7 386.1,117.7 386.3,118.8 386.5,119.8 386.8,120.9 387.0,121.9 387.2,122.9 387.5,123.9 387.7,124.9 387.9,125.9 388.2,126.9 388.4,127.8 388.6,128.7 388.9,129.7 389.1,130.6 389.3,131.5 389.6,132.3 389.8,133.2 390.0,134.0 390.3,134.8 390.5,135.6 390.7,136.3 391.0,137.0 391.2,137.7 391.4,138.4 391.7,139.0 391.9,139.6 392.1,140.1 392.4,140.6 392.6,141.1 392.8,141.5 393.1,141.9 393.3,142.2 393.5,142.4 393.8,142.6 394.0,142.7 394.2,142.8 394.5,142.7 394.7,142.6 394.9,142.3 395.2,142.0 395.4,141.5 395.6,141.0 395.9,140.2 396.1,139.3 396.3,138.2 396.6,137.0 396.8,135.5 397.0,133.7 397.3,131.7 397.5,129.4 397.8,126.8 398.0,123.8 398.2,120.5 398.5,116.8 398.7,112.9 398.9,108.7 399.2,104.4 399.4,100.1 399.6,95.8 399.9,91.7 400.1,87.8 400.3,84.2 400.6,80.9 400.8,78.0 401.0,75.4 401.3,73.1 401.5,71.1 401.7,69.4 402.0,67.9 402.2,66.6 402.4,65.6 402.7,64.7 402.9,64.0 403.1,63.4 403.4,62.9 403.6,62.6 403.8,62.3 404.1,62.2 404.3,62.1 404.5,62.2 404.8,62.3 405.0,62.4 405.2,62.7 405.5,63.0 405.7,63.3 405.9,63.7 406.2,64.2 406.4,64.7 406.6,65.2 406.9,65.8 407.1,66.4 407.3,67.1 407.6,67.7 407.8,68.5 408.0,69.2 408.3,70.0 408.5,70.8 408.7,71.6 409.0,72.4 409.2,73.3 409.4,74.2 409.7,75.1 409.9,76.0 410.1,77.0 410.4,77.9 410.6,78.9 410.8,79.9 411.1,80.9 411.3,81.9 411.5,83.0 411.8,84.0 412.0,85.0 412.2,86.1 412.5,87.2 412.7,88.2 412.9,89.3 413.2,90.4 413.4,91.5 413.6,92.6 413.9,93.7 414.1,94.8 414.3,95.9 414.6,97.0 414.8,98.1 415.0,99.2 415.3,100.4 415.5,101.5 415.7,102.6 416.0,103.7 416.2,104.8 416.4,106.0 416.7,107.1 416.9,108.2 417.1,109.3 417.4,110.4 417.6,111.5 417.8,112.6 418.1,113.7 418.3,114.8 418.5,115.8 418.8,116.9 419.0,118.0 419.2,119.0 419.5,120.1 419.7,121.1 419.9,122.1 420.2,123.1 420.4,124.1 420.6,125.1 420.9,126.0 421.1,127.0 421.3,127.9 421.6,128.8 421.8,129.7 422.0,130.6 422.3,131.4 422.5,132.3 422.7,133.1 423.0,133.8 423.2,134.6 423.4,135.3 423.7,135.9 423.9,136.6 424.1,137.2 424.4,137.7 424.6,138.2 424.8,138.7 425.1,139.1 425.3,139.5 425.5,139.8 425.8,140.0 426.0,140.2 426.2,140.3 426.5,140.3 426.7,140.3 426.9,140.1 427.2,139.9 427.4,139.5 427.6,139.1 427.9,138.5 428.1,137.8 428.3,137.0 428.6,136.0 428.8,134.9 429.0,133.5 429.3,132.0 429.5,130.3 429.7,128.4 430.0,126.2 430.2,123.9 430.4,121.3 430.7,118.5 430.9,115.5 431.1,112.3 431.4,109.0 431.6,105.5 431.8,102.1 432.1,98.6 432.3,95.3 432.5,92.1 432.8,89.1 433.0,86.4 433.2,83.9 433.5,81.6 433.7,79.5 433.9,77.7 434.2,76.1 434.4,74.6 434.6,73.3 434.9,72.2 435.1,71.2 435.4,70.4 435.6,69.7 435.8,69.1 436.1,68.6 436.3,68.2 436.5,67.9 436.8,67.6 437.0,67.5 437.2,67.5 437.5,67.5 437.7,67.6 437.9,67.8 438.2,68.0 438.4,68.3 438.6,68.7 438.9,69.1 439.1,69.5 439.3,70.0 439.6,70.6 439.8,71.2 440.0,71.8 440.3,72.5 440.5,73.3 440.7,74.0 441.0,74.8 441.2,75.6 441.4,76.5 441.7,77.4 441.9,78.3 442.1,79.3 442.4,80.3 442.6,81.3 442.8,82.3 443.1,83.3 443.3,84.4 443.5,85.4 443.8,86.5 444.0,87.6 444.2,88.6 444.5,89.7 444.7,90.8 444.9,91.9 445.2,93.0 445.4,94.1 445.6,95.3 445.9,96.4 446.1,97.5 446.3,98.7 446.6,99.9 446.8,101.2 447.0,102.4 447.3,103.7 447.5,105.0 447.7,106.3 448.0,107.6 448.2,108.9 448.4,110.2 448.7,111.5 448.9,112.9 449.1,114.2 449.4,115.4 449.6,116.7 449.8,118.0 450.1,119.2 450.3,120.4 450.5,121.5 450.8,122.6 451.0,123.7 451.2,124.8 451.5,125.9 451.7,126.9 451.9,128.0 452.2,129.0 452.4,130.0 452.6,131.0 452.9,131.9 453.1,132.8 453.3,133.7 453.6,134.6 453.8,135.4 454.0,136.2 454.3,136.9 454.5,137.6 454.7,138.3 455.0,138.9 455.2,139.5 455.4,140.0 455.7,140.5 455.9,140.9 456.1,141.3 456.4,141.6 456.6,141.8 456.8,141.9 457.1,142.0 457.3,142.0 457.5,141.9 457.8,141.7 458.0,141.4 458.2,141.0 458.5,140.4 458.7,139.8 458.9,139.0 459.2,138.1 459.4,137.0 459.6,135.8 459.9,134.4 460.1,132.9 460.3,131.2 460.6,129.3 460.8,127.2 461.0,125.0 461.3,122.5 461.5,120.0 461.7,117.3 462.0,114.5 462.2,111.6 462.4,108.6 462.7,105.6 462.9,102.6 463.1,99.7 463.4,96.9 463.6,94.1 463.8,91.5 464.1,89.1 464.3,86.8 464.5,84.6 464.8,82.7 465.0,80.9 465.2,79.3 465.5,77.9 465.7,76.6 465.9,75.5 466.2,74.5 466.4,73.7 466.6,73.0 466.9,72.4 467.1,72.0 467.3,71.7 467.6,71.4 467.8,71.3 468.0,71.3 468.3,71.3 468.5,71.4 468.7,71.6 469.0,71.9 469.2,72.2 469.4,72.6 469.7,73.1 469.9,73.6 470.1,74.1 470.4,74.8 470.6,75.4 470.8,76.1 471.1,76.8 471.3,77.6 471.5,78.4 471.8,79.2 472.0,80.1 472.2,81.0 472.5,81.9 472.7,82.9 473.0,83.8 473.2,84.8 473.4,85.8 473.7,86.9 473.9,87.9 474.1,89.0 474.4,90.0 474.6,91.1 474.8,92.2 475.1,93.4 475.3,94.5 475.5,95.6 475.8,96.7 476.0,97.9 476.2,99.0 476.5,100.2 476.7,101.3 476.9,102.5 477.2,103.7 477.4,104.8 477.6,106.0 477.9,107.2 478.1,108.3 478.3,109.5 478.6,110.7 478.8,111.8 479.0,113.0 479.3,114.1 479.5,115.3 479.7,116.4 480.0,117.6 480.2,118.7 480.4,119.8 480.7,120.9 480.9,122.1 481.1,123.2 481.4,124.2 481.6,125.3 481.8,126.4 482.1,127.4 482.3,128.5 482.5,129.5 482.8,130.5 483.0,131.5 483.2,132.4 483.5,133.4 483.7,134.3 483.9,135.1 484.2,136.0 484.4,136.8 484.6,137.6 484.9,138.4 485.1,139.1 485.3,139.7 485.6,140.4 485.8,140.9 486.0,141.5 486.3,141.9 486.5,142.3 486.7,142.6 487.0,142.9 487.2,143.1 487.4,143.1 487.7,143.1 487.9,143.0 488.1,142.8 488.4,142.4 488.6,142.0 488.8,141.4 489.1,140.6 489.3,139.7 489.5,138.7 489.8,137.5 490.0,136.1 490.2,134.5 490.5,132.8 490.7,130.9 490.9,128.8 491.2,126.6 491.4,124.2 491.6,121.7 491.9,119.0 492.1,116.3 492.3,113.5 492.6,110.6 492.8,107.7 493.0,104.8 493.3,102.0 493.5,99.2 493.7,96.6 494.0,94.0 494.2,91.6 494.4,89.4 494.7,87.3 494.9,85.3 495.1,83.6 495.4,82.0 495.6,80.6 495.8,79.3 496.1,78.3 496.3,77.4 496.5,76.6 496.8,76.0 497.0,75.6 497.2,75.3 497.5,75.1 497.7,75.1 497.9,75.1 498.2,75.3 498.4,75.6 498.6,75.9 498.9,76.4 499.1,77.0 499.3,77.6 499.6,78.3 499.8,79.0 500.0,79.8 500.3,80.7 500.5,81.6 500.7,82.6 501.0,83.6 501.2,84.6 501.4,85.7 501.7,86.8 501.9,87.9 502.1,89.0 502.4,90.1 502.6,91.3 502.8,92.4 503.1,93.6 503.3,94.7 503.5,95.9 503.8,97.0 504.0,98.2 504.2,99.3 504.5,100.5 504.7,101.7 504.9,102.9 505.2,104.1 505.4,105.3 505.6,106.5 505.9,107.7 506.1,108.9 506.3,110.1 506.6,111.4 506.8,112.6 507.0,113.8 507.3,115.0 507.5,116.3 507.7,117.5 508.0,118.7 508.2,119.9 508.4,121.2 508.7,122.4 508.9,123.6 509.1,124.8 509.4,126.0 509.6,127.1 509.8,128.3 510.1,129.5 510.3,130.6 510.5,131.7 510.8,132.8 511.0,133.9 511.3,135.0 511.5,136.0 511.7,137.0 512.0,138.0 512.2,139.0 512.4,139.9 512.7,140.8 512.9,141.6 513.1,142.5 513.4,143.2 513.6,144.0 513.8,144.6 514.1,145.3 514.3,145.8 514.5,146.3 514.8,146.8 515.0,147.2 515.2,147.5 515.5,147.7 515.7,147.8 515.9,147.8 516.2,147.8 516.4,147.6 516.6,147.3 516.9,146.9 517.1,146.3 517.3,145.6 517.6,144.7 517.8,143.7 518.0,142.5 518.3,141.2 518.5,139.6 518.7,137.9 519.0,135.9 519.2,133.8 519.4,131.5 519.7,129.1 519.9,126.4 520.1,123.7 520.4,120.8 520.6,117.8 520.8,114.8 521.1,111.8 521.3,108.7 521.5,105.8 521.8,102.9 522.0,100.1 522.2,97.5 522.5,95.0 522.7,92.7 522.9,90.6 523.2,88.6 523.4,86.9 523.6,85.3 523.9,83.9 524.1,82.7 524.3,81.7 524.6,80.8 524.8,80.1 525.0,79.6 525.3,79.2 525.5,78.9 525.7,78.7" style="fill:none;stroke:#ff0000;stroke-width:1.4;stroke-dasharray:4.4 4.4"/>
<polyline points="315.8,97.9 316.0,99.5 316.2,101.1 316.5,102.7 316.7,104.3 316.9,105.9 317.2,107.5 317.4,109.0 317.6,110.6 317.9,112.2 318.1,113.8 318.3,115.3 318.6,116.8 318.8,118.4 319.0,119.9 319.3,121.4 319.5,122.8 319.7,124.3 320.0,125.7 320.2,127.1 320.4,128.5 320.7,129.9 320.9,131.2 321.1,132.5 321.4,133.8 321.6,135.1 321.9,136.3 322.1,137.5 322.3,138.7 322.6,139.9 322.8,141.0 323.0,142.1 323.3,143.2 323.5,144.2 323.7,145.2 324.0,146.2 324.2,147.1 324.4,148.0 324.7,148.9 324.9,149.7 325.1,150.5 325.4,151.3 325.6,152.0 325.8,152.7 326.1,153.4 326.3,154.0 326.5,154.6 326.8,155.1 327.0,155.6 327.2,156.1 327.5,156.5 327.7,156.8 327.9,157.1 328.2,157.3 328.4,157.5 328.6,157.6 328.9,157.7 329.1,157.7 329.3,157.6 329.6,157.4 329.8,157.1 330.0,156.7 330.3,156.2 330.5,155.6 330.7,154.8 331.0,153.8 331.2,152.6 331.4,151.1 331.7,149.3 331.9,147.1 332.1,144.4 332.4,141.0 332.6,136.7 332.8,131.5 333.1,125.0 333.3,117.3 333.5,108.6 333.8,99.3 334.0,90.2 334.2,82.0 334.5,75.1 334.7,69.3 334.9,64.7 335.2,61.0 335.4,58.0 335.6,55.6 335.9,53.6 336.1,52.0 336.3,50.7 336.6,49.6 336.8,48.7 337.0,48.0 337.3,47.5 337.5,47.0 337.7,46.7 338.0,46.5 338.2,46.4 338.4,46.3 338.7,46.4 338.9,46.4 339.1,46.6 339.4,46.8 339.6,47.1 339.8,47.4 340.1,47.8 340.3,48.2 340.5,48.7 340.8,49.2 341.0,49.8 341.2,50.4 341.5,51.0 341.7,51.7 341.9,52.4 342.2,53.2 342.4,54.0 342.6,54.8 342.9,55.7 343.1,56.6 343.3,57.5 343.6,58.5 343.8,59.5 344.0,60.5 344.3,61.6 344.5,62.7 344.7,63.8 345.0,64.9 345.2,66.1 345.4,67.3 345.7,68.5 345.9,69.8 346.1,71.1 346.4,72.4 346.6,73.7 346.8,75.0 347.1,76.4 347.3,77.8 347.5,79.2 347.8,80.6 348.0,82.0 348.2,83.5 348.5,85.0 348.7,86.5 348.9,88.0 349.2,89.5 349.4,91.0 349.6,92.5 349.9,94.1 350.1,95.6 350.3,97.1 350.6,98.7 350.8,100.2 351.0,101.8 351.3,103.3 351.5,104.9 351.7,106.4 352.0,108.0 352.2,109.5 352.4,111.1 352.7,112.6 352.9,114.1 353.1,115.6 353.4,117.1 353.6,118.6 353.8,120.0 354.1,121.5 354.3,122.9 354.5,124.3 354.8,125.7 355.0,127.1 355.2,128.4 355.5,129.8 355.7,131.1 355.9,132.3 356.2,133.6 356.4,134.8 356.6,136.1 356.9,137.2 357.1,138.4 357.3,139.5 357.6,140.6 357.8,141.7 358.0,142.7 358.3,143.7 358.5,144.7 358.7,145.7 359.0,146.6 359.2,147.5 359.4,148.3 359.7,149.1 359.9,149.9 360.2,150.6 360.4,151.3 360.6,152.0 360.9,152.6 361.1,153.2 361.3,153.7 361.6,154.2 361.8,154.6 362.0,155.0 362.3,155.3 362.5,155.6 362.7,155.8 363.0,155.9 363.2,156.0 363.4,156.0 363.7,155.9 363.9,155.7 364.1,155.5 364.4,155.1 364.6,154.7 364.8,154.1 365.1,153.3 365.3,152.4 365.5,151.3 365.8,150.0 366.0,148.4 366.2,146.4 366.5,144.1 366.7,141.4 366.9,138.1 367.2,134.1 367.4,129.3 367.6,123.8 367.9,117.3 368.1,110.1 368.3,102.5 368.6,94.9 368.8,87.7 369.0,81.2 369.3,75.5 369.5,70.7 369.7,66.7 370.0,63.3 370.2,60.5 370.4,58.2 370.7,56.3 370.9,54.6 371.1,53.3 371.4,52.1 371.6,51.2 371.8,50.5 372.1,49.8 372.3,49.3 372.5,49.0 372.8,48.7 373.0,48.5 373.2,48.5 373.5,48.4 373.7,48.5 373.9,48.7 374.2,48.9 374.4,49.1 374.6,49.4 374.9,49.8 375.1,50.2 375.3,50.7 375.6,51.2 375.8,51.8 376.0,52.4 376.3,53.1 376.5,53.8 376.7,54.5 377.0,55.3 377.2,56.1 377.4,57.0 377.7,57.9 377.9,58.8 378.1,59.8 378.4,60.8 378.6,61.8 378.8,62.8 379.1,63.9 379.3,65.0 379.5,66.2 379.8,67.4 380.0,68.6 380.2,69.8 380.5,71.0 380.7,72.3 380.9,73.6 381.2,74.9 381.4,76.2 381.6,77.6 381.9,79.0 382.1,80.4 382.3,81.8 382.6,83.2 382.8,84.7 383.0,86.1 383.3,87.6 383.5,89.1 383.7,90.6 384.0,92.1 384.2,93.6 384.4,95.1 384.7,96.6 384.9,98.2 385.1,99.7 385.4,101.2 385.6,102.7 385.8,104.3 386.1,105.8 386.3,107.3 386.5,108.8 386.8,110.4 387.0,111.9 387.2,113.4 387.5,114.8 387.7,116.3 387.9,117.8 388.2,119.2 388.4,120.6 388.6,122.1 388.9,123.5 389.1,124.8 389.3,126.2 389.6,127.6 389.8,128.9 390.0,130.2 390.3,131.5 390.5,132.7 390.7,133.9 391.0,135.1 391.2,136.3 391.4,137.5 391.7,138.6 391.9,139.7 392.1,140.7 392.4,141.8 392.6,142.8 392.8,143.7 393.1,144.6 393.3,145.5 393.5,146.4 393.8,147.2 394.0,148.0 394.2,148.7 394.5,149.4 394.7,150.1 394.9,150.7 395.2,151.2 395.4,151.7 395.6,152.2 395.9,152.6 396.1,152.9 396.3,153.2 396.6,153.4 396.8,153.6 397.0,153.7 397.3,153.7 397.5,153.6 397.8,153.4 398.0,153.1 398.2,152.8 398.5,152.3 398.7,151.7 398.9,150.9 399.2,150.0 399.4,148.9 399.6,147.6 399.9,146.0 400.1,144.2 400.3,142.1 400.6,139.7 400.8,136.8 401.0,133.5 401.3,129.7 401.5,125.4 401.7,120.5 402.0,115.2 402.2,109.4 402.4,103.4 402.7,97.4 402.9,91.5 403.1,86.0 403.4,81.1 403.6,76.6 403.8,72.7 404.1,69.3 404.3,66.3 404.5,63.8 404.8,61.6 405.0,59.7 405.2,58.1 405.5,56.7 405.7,55.6 405.9,54.6 406.2,53.8 406.4,53.1 406.6,52.6 406.9,52.2 407.1,51.9 407.3,51.7 407.6,51.6 407.8,51.5 408.0,51.6 408.3,51.7 408.5,51.9 408.7,52.2 409.0,52.5 409.2,52.9 409.4,53.3 409.7,53.8 409.9,54.4 410.1,55.0 410.4,55.7 410.6,56.4 410.8,57.1 411.1,57.9 411.3,58.7 411.5,59.6 411.8,60.5 412.0,61.4 412.2,62.4 412.5,63.4 412.7,64.4 412.9,65.5 413.2,66.6 413.4,67.8 413.6,68.9 413.9,70.1 414.1,71.3 414.3,72.6 414.6,73.9 414.8,75.1 415.0,76.5 415.3,77.8 415.5,79.1 415.7,80.5 416.0,81.9 416.2,83.3 416.4,84.7 416.7,86.2 416.9,87.6 417.1,89.1 417.4,90.5 417.6,92.0 417.8,93.5 418.1,95.0 418.3,96.5 418.5,98.0 418.8,99.5 419.0,101.0 419.2,102.5 419.5,104.0 419.7,105.5 419.9,107.0 420.2,108.5 420.4,109.9 420.6,111.4 420.9,112.9 421.1,114.4 421.3,115.8 421.6,117.2 421.8,118.7 422.0,120.1 422.3,121.5 422.5,122.8 422.7,124.2 423.0,125.5 423.2,126.9 423.4,128.2 423.7,129.4 423.9,130.7 424.1,131.9 424.4,133.1 424.6,134.3 424.8,135.5 425.1,136.6 425.3,137.7 425.5,138.7 425.8,139.7 426.0,140.7 426.2,141.7 426.5,142.6 426.7,143.5 426.9,144.3 427.2,145.1 427.4,145.9 427.6,146.6 427.9,147.2 428.1,147.8 428.3,148.4 428.6,148.9 428.8,149.3 429.0,149.7 429.3,150.0 429.5,150.3 429.7,150.4 430.0,150.5 430.2,150.5 430.4,150.4 430.7,150.2 430.9,149.9 431.1,149.5 431.4,149.0 431.6,148.3 431.8,147.4 432.1,146.3 432.3,145.1 432.5,143.6 432.8,141.8 433.0,139.9 433.2,137.6 433.5,135.1 433.7,132.4 433.9,129.4 434.2,126.1 434.4,122.6 434.6,118.9 434.9,115.0 435.1,111.0 435.4,107.0 435.6,102.9 435.8,98.9 436.1,95.0 436.3,91.3 436.5,87.7 436.8,84.3 437.0,81.2 437.2,78.3 437.5,75.6 437.7,73.2 437.9,71.0 438.2,69.0 438.4,67.2 438.6,65.6 438.9,64.2 439.1,63.0 439.3,61.9 439.6,60.9 439.8,60.2 440.0,59.5 440.3,59.0 440.5,58.6 440.7,58.3 441.0,58.1 441.2,58.0 441.4,58.1 441.7,58.2 441.9,58.4 442.1,58.7 442.4,59.1 442.6,59.5 442.8,60.0 443.1,60.6 443.3,61.2 443.5,61.9 443.8,62.6 444.0,63.4 444.2,64.3 444.5,65.1 444.7,66.0 444.9,67.0 445.2,68.0 445.4,69.0 445.6,70.0 445.9,71.1 446.1,72.3 446.3,73.5 446.6,74.7 446.8,76.1 447.0,77.4 447.3,78.8 447.5,80.3 447.7,81.8 448.0,83.3 448.2,84.9 448.4,86.5 448.7,88.1 448.9,89.8 449.1,91.5 449.4,93.1 449.6,94.8 449.8,96.4 450.1,98.1 450.3,99.7 450.5,101.3 450.8,102.8 451.0,104.4 451.2,106.0 451.5,107.6 451.7,109.1 451.9,110.7 452.2,112.2 452.4,113.8 452.6,115.3 452.9,116.8 453.1,118.3 453.3,119.8 453.6,121.3 453.8,122.8 454.0,124.2 454.3,125.6 454.5,127.1 454.7,128.4 455.0,129.8 455.2,131.1 455.4,132.5 455.7,133.7 455.9,135.0 456.1,136.2 456.4,137.4 456.6,138.6 456.8,139.7 457.1,140.8 457.3,141.9 457.5,142.9 457.8,143.9 458.0,144.9 458.2,145.8 458.5,146.6 458.7,147.5 458.9,148.2 459.2,148.9 459.4,149.6 459.6,150.2 459.9,150.7 460.1,151.2 460.3,151.6 460.6,152.0 460.8,152.3 461.0,152.4 461.3,152.5 461.5,152.6 461.7,152.5 462.0,152.3 462.2,152.0 462.4,151.6 462.7,151.1 462.9,150.4 463.1,149.6 463.4,148.7 463.6,147.5 463.8,146.3 464.1,144.8 464.3,143.1 464.5,141.3 464.8,139.2 465.0,136.8 465.2,134.3 465.5,131.5 465.7,128.5 465.9,125.2 466.2,121.8 466.4,118.1 466.6,114.3 466.9,110.5 467.1,106.5 467.3,102.6 467.6,98.8 467.8,95.0 468.0,91.4 468.3,88.0 468.5,84.9 468.7,81.9 469.0,79.2 469.2,76.7 469.4,74.5 469.7,72.5 469.9,70.7 470.1,69.1 470.4,67.7 470.6,66.5 470.8,65.5 471.1,64.6 471.3,63.9 471.5,63.3 471.8,62.8 472.0,62.5 472.2,62.3 472.5,62.2 472.7,62.2 473.0,62.3 473.2,62.5 473.4,62.8 473.7,63.1 473.9,63.6 474.1,64.1 474.4,64.6 474.6,65.3 474.8,66.0 475.1,66.7 475.3,67.6 475.5,68.4 475.8,69.3 476.0,70.3 476.2,71.3 476.5,72.3 476.7,73.4 476.9,74.5 477.2,75.7 477.4,76.9 477.6,78.1 477.9,79.3 478.1,80.6 478.3,81.9 478.6,83.2 478.8,84.5 479.0,85.9 479.3,87.3 479.5,88.7 479.7,90.1 480.0,91.6 480.2,93.0 480.4,94.5 480.7,96.0 480.9,97.5 481.1,99.0 481.4,100.5 481.6,102.0 481.8,103.5 482.1,105.0 482.3,106.6 482.5,108.1 482.8,109.6 483.0,111.1 483.2,112.7 483.5,114.2 483.7,115.7 483.9,117.2 484.2,118.8 484.4,120.3 484.6,121.7 484.9,123.2 485.1,124.7 485.3,126.2 485.6,127.6 485.8,129.1 486.0,130.5 486.3,131.9 486.5,133.3 486.7,134.7 487.0,136.0 487.2,137.3 487.4,138.6 487.7,139.8 487.9,141.1 488.1,142.2 488.4,143.4 488.6,144.5 488.8,145.5 489.1,146.5 489.3,147.5 489.5,148.4 489.8,149.2 490.0,150.0 490.2,150.7 490.5,151.4 490.7,152.0 490.9,152.5 491.2,153.0 491.4,153.3 491.6,153.6 491.9,153.7 492.1,153.8 492.3,153.8 492.6,153.6 492.8,153.4 493.0,153.0 493.3,152.5 493.5,151.8 493.7,151.0 494.0,150.0 494.2,148.8 494.4,147.4 494.7,145.9 494.9,144.1 495.1,142.1 495.4,139.9 495.6,137.5 495.8,134.7 496.1,131.8 496.3,128.6 496.5,125.2 496.8,121.6 497.0,117.8 497.2,114.0 497.5,110.1 497.7,106.1 497.9,102.3 498.2,98.5 498.4,94.9 498.6,91.5 498.9,88.3 499.1,85.4 499.3,82.7 499.6,80.3 499.8,78.1 500.0,76.2 500.3,74.6 500.5,73.2 500.7,72.0 501.0,71.0 501.2,70.2 501.4,69.6 501.7,69.1 501.9,68.9 502.1,68.7 502.4,68.7 502.6,68.8 502.8,69.0 503.1,69.3 503.3,69.6 503.5,70.1 503.8,70.6 504.0,71.2 504.2,71.9 504.5,72.6 504.7,73.4 504.9,74.2 505.2,75.1 505.4,76.1 505.6,77.1 505.9,78.2 506.1,79.3 506.3,80.5 506.6,81.7 506.8,82.9 507.0,84.2 507.3,85.5 507.5,86.9 507.7,88.2 508.0,89.6 508.2,91.1 508.4,92.5 508.7,94.0 508.9,95.5 509.1,97.0 509.4,98.5 509.6,100.1 509.8,101.6 510.1,103.2 510.3,104.8 510.5,106.3 510.8,107.9 511.0,109.5 511.3,111.1 511.5,112.7 511.7,114.3 512.0,115.9 512.2,117.5 512.4,119.1 512.7,120.6 512.9,122.2 513.1,123.7 513.4,125.3 513.6,126.8 513.8,128.3 514.1,129.8 514.3,131.3 514.5,132.8 514.8,134.3 515.0,135.7 515.2,137.1 515.5,138.5 515.7,139.9 515.9,141.2 516.2,142.5 516.4,143.8 516.6,145.1 516.9,146.3 517.1,147.5 517.3,148.6 517.6,149.7 517.8,150.8 518.0,151.8 518.3,152.7 518.5,153.6 518.7,154.5 519.0,155.2 519.2,156.0 519.4,156.6 519.7,157.2 519.9,157.7 520.1,158.1 520.4,158.4 520.6,158.6 520.8,158.8 521.1,158.8 521.3,158.6 521.5,158.4 521.8,158.0 522.0,157.5 522.2,156.8 522.5,155.9 522.7,154.8 522.9,153.4 523.2,151.8 523.4,149.9 523.6,147.7 523.9,145.2 524.1,142.4 524.3,139.3 524.6,135.9 524.8,132.2 525.0,128.2 525.3,123.9 525.5,119.4 525.7,114.7" style="fill:none;stroke:#ff0000;stroke-width:1.4;stroke-dasharray:4.4 4.4"/>
<polyline points="315.8,85.3 316.0,87.7 316.2,90.2 316.5,92.6 316.7,95.1 316.9,97.7 317.2,100.2 317.4,102.7 317.6,105.3 317.9,107.8 318.1,110.3 318.3,112.8 318.6,115.2 318.8,117.6 319.0,120.0 319.3,122.3 319.5,124.5 319.7,126.7 320.0,128.8 320.2,130.9 320.4,132.9 320.7,134.9 320.9,136.8 321.1,138.6 321.4,140.4 321.6,142.1 321.9,143.7 322.1,145.3 322.3,146.8 322.6,148.3 322.8,149.7 323.0,151.1 323.3,152.4 323.5,153.6 323.7,154.8 324.0,156.0 324.2,157.1 324.4,158.2 324.7,159.2 324.9,160.2 325.1,161.1 325.4,162.0 325.6,162.9 325.8,163.7 326.1,164.4 326.3,165.2 326.5,165.8 326.8,166.5 327.0,167.1 327.2,167.6 327.5,168.2 327.7,168.7 327.9,169.1 328.2,169.5 328.4,169.9 328.6,170.2 328.9,170.4 329.1,170.7 329.3,170.9 329.6,171.0 329.8,171.1 330.0,171.1 330.3,171.1 330.5,171.1 330.7,171.0 331.0,170.8 331.2,170.6 331.4,170.2 331.7,169.9 331.9,169.4 332.1,168.8 332.4,168.1 332.6,167.3 332.8,166.3 333.1,165.1 333.3,163.6 333.5,161.8 333.8,159.4 334.0,156.1 334.2,151.6 334.5,145.0 334.7,134.9 334.9,119.2 335.2,98.5 335.4,79.1 335.6,65.4 335.9,56.6 336.1,50.9 336.3,46.9 336.6,44.0 336.8,41.7 337.0,40.0 337.3,38.6 337.5,37.5 337.7,36.6 338.0,35.8 338.2,35.1 338.4,34.6 338.7,34.2 338.9,33.8 339.1,33.5 339.4,33.3 339.6,33.2 339.8,33.1 340.1,33.0 340.3,33.0 340.5,33.1 340.8,33.2 341.0,33.4 341.2,33.6 341.5,33.8 341.7,34.1 341.9,34.5 342.2,34.9 342.4,35.3 342.6,35.8 342.9,36.3 343.1,36.9 343.3,37.5 343.6,38.1 343.8,38.8 344.0,39.5 344.3,40.3 344.5,41.1 344.7,41.9 345.0,42.8 345.2,43.8 345.4,44.7 345.7,45.8 345.9,46.8 346.1,48.0 346.4,49.1 346.6,50.3 346.8,51.6 347.1,52.9 347.3,54.2 347.5,55.7 347.8,57.1 348.0,58.6 348.2,60.2 348.5,61.8 348.7,63.5 348.9,65.2 349.2,67.0 349.4,68.8 349.6,70.7 349.9,72.6 350.1,74.6 350.3,76.7 350.6,78.8 350.8,80.9 351.0,83.1 351.3,85.3 351.5,87.6 351.7,89.9 352.0,92.2 352.2,94.6 352.4,96.9 352.7,99.3 352.9,101.7 353.1,104.0 353.4,106.4 353.6,108.8 353.8,111.1 354.1,113.4 354.3,115.7 354.5,117.9 354.8,120.1 355.0,122.3 355.2,124.4 355.5,126.5 355.7,128.5 355.9,130.5 356.2,132.4 356.4,134.3 356.6,136.1 356.9,137.8 357.1,139.6 357.3,141.2 357.6,142.8 357.8,144.3 358.0,145.8 358.3,147.3 358.5,148.7 358.7,150.0 359.0,151.3 359.2,152.6 359.4,153.8 359.7,154.9 359.9,156.0 360.2,157.1 360.4,158.1 360.6,159.1 360.9,160.0 361.1,160.9 361.3,161.7 361.6,162.5 361.8,163.3 362.0,164.0 362.3,164.6 362.5,165.3 362.7,165.8 363.0,166.4 363.2,166.9 363.4,167.3 363.7,167.7 363.9,168.1 364.1,168.4 364.4,168.6 364.6,168.8 364.8,169.0 365.1,169.1 365.3,169.1 365.5,169.1 365.8,169.0 366.0,168.9 366.2,168.7 366.5,168.4 366.7,168.0 366.9,167.5 367.2,167.0 367.4,166.3 367.6,165.5 367.9,164.5 368.1,163.3 368.3,162.0 368.6,160.3 368.8,158.3 369.0,155.8 369.3,152.7 369.5,148.7 369.7,143.5 370.0,136.6 370.2,127.3 370.4,115.4 370.7,101.5 370.9,87.8 371.1,76.2 371.4,67.2 371.6,60.4 371.8,55.4 372.1,51.5 372.3,48.5 372.5,46.1 372.8,44.1 373.0,42.5 373.2,41.1 373.5,40.0 373.7,39.0 373.9,38.2 374.2,37.5 374.4,37.0 374.6,36.5 374.9,36.2 375.1,35.9 375.3,35.7 375.6,35.5 375.8,35.5 376.0,35.5 376.3,35.5 376.5,35.6 376.7,35.8 377.0,36.0 377.2,36.3 377.4,36.6 377.7,37.0 377.9,37.4 378.1,37.9 378.4,38.4 378.6,39.0 378.8,39.6 379.1,40.3 379.3,41.0 379.5,41.7 379.8,42.5 380.0,43.4 380.2,44.3 380.5,45.2 380.7,46.2 380.9,47.2 381.2,48.3 381.4,49.4 381.6,50.6 381.9,51.8 382.1,53.1 382.3,54.4 382.6,55.7 382.8,57.2 383.0,58.6 383.3,60.1 383.5,61.7 383.7,63.3 384.0,64.9 384.2,66.6 384.4,68.4 384.7,70.2 384.9,72.0 385.1,73.9 385.4,75.9 385.6,77.9 385.8,79.9 386.1,82.0 386.3,84.1 386.5,86.2 386.8,88.3 387.0,90.5 387.2,92.7 387.5,95.0 387.7,97.2 387.9,99.5 388.2,101.7 388.4,104.0 388.6,106.2 388.9,108.4 389.1,110.7 389.3,112.8 389.6,115.0 389.8,117.2 390.0,119.3 390.3,121.3 390.5,123.4 390.7,125.4 391.0,127.3 391.2,129.3 391.4,131.1 391.7,132.9 391.9,134.7 392.1,136.4 392.4,138.1 392.6,139.8 392.8,141.3 393.1,142.9 393.3,144.4 393.5,145.8 393.8,147.2 394.0,148.5 394.2,149.8 394.5,151.1 394.7,152.3 394.9,153.4 395.2,154.5 395.4,155.6 395.6,156.6 395.9,157.6 396.1,158.5 396.3,159.3 396.6,160.2 396.8,161.0 397.0,161.7 397.3,162.4 397.5,163.0 397.8,163.6 398.0,164.1 398.2,164.6 398.5,165.0 398.7,165.4 398.9,165.7 399.2,166.0 399.4,166.2 399.6,166.3 399.9,166.4 400.1,166.4 400.3,166.3 400.6,166.1 400.8,165.9 401.0,165.6 401.3,165.2 401.5,164.6 401.7,164.0 402.0,163.3 402.2,162.3 402.4,161.3 402.7,160.0 402.9,158.6 403.1,156.9 403.4,154.8 403.6,152.5 403.8,149.6 404.1,146.2 404.3,142.1 404.5,137.2 404.8,131.3 405.0,124.2 405.2,116.0 405.5,107.0 405.7,97.6 405.9,88.7 406.2,80.6 406.4,73.7 406.6,67.8 406.9,63.0 407.1,59.0 407.3,55.7 407.6,52.9 407.8,50.5 408.0,48.6 408.3,46.9 408.5,45.4 408.7,44.2 409.0,43.1 409.2,42.2 409.4,41.4 409.7,40.8 409.9,40.3 410.1,39.9 410.4,39.6 410.6,39.3 410.8,39.2 411.1,39.2 411.3,39.2 411.5,39.3 411.8,39.4 412.0,39.7 412.2,39.9 412.5,40.3 412.7,40.7 412.9,41.2 413.2,41.7 413.4,42.3 413.6,42.9 413.9,43.6 414.1,44.4 414.3,45.2 414.6,46.0 414.8,46.9 415.0,47.9 415.3,48.9 415.5,49.9 415.7,51.0 416.0,52.1 416.2,53.3 416.4,54.6 416.7,55.9 416.9,57.2 417.1,58.6 417.4,60.0 417.6,61.5 417.8,63.0 418.1,64.6 418.3,66.2 418.5,67.8 418.8,69.5 419.0,71.3 419.2,73.0 419.5,74.9 419.7,76.7 419.9,78.6 420.2,80.5 420.4,82.5 420.6,84.5 420.9,86.5 421.1,88.5 421.3,90.6 421.6,92.6 421.8,94.7 422.0,96.8 422.3,98.9 422.5,101.0 422.7,103.1 423.0,105.2 423.2,107.3 423.4,109.3 423.7,111.4 423.9,113.4 424.1,115.4 424.4,117.4 424.6,119.4 424.8,121.3 425.1,123.3 425.3,125.1 425.5,127.0 425.8,128.8 426.0,130.6 426.2,132.3 426.5,134.0 426.7,135.6 426.9,137.2 427.2,138.8 427.4,140.3 427.6,141.8 427.9,143.2 428.1,144.6 428.3,146.0 428.6,147.3 428.8,148.5 429.0,149.8 429.3,150.9 429.5,152.0 429.7,153.1 430.0,154.1 430.2,155.1 430.4,156.0 430.7,156.8 430.9,157.6 431.1,158.4 431.4,159.1 431.6,159.7 431.8,160.3 432.1,160.9 432.3,161.3 432.5,161.7 432.8,162.0 433.0,162.2 433.2,162.3 433.5,162.3 433.7,162.1 433.9,161.9 434.2,161.6 434.4,161.1 434.6,160.5 434.9,159.8 435.1,158.9 435.4,157.9 435.6,156.8 435.8,155.4 436.1,153.9 436.3,152.2 436.5,150.3 436.8,148.1 437.0,145.7 437.2,142.9 437.5,139.9 437.7,136.6 437.9,132.9 438.2,128.8 438.4,124.4 438.6,119.7 438.9,114.7 439.1,109.6 439.3,104.3 439.6,99.0 439.8,93.8 440.0,88.8 440.3,84.0 440.5,79.6 440.7,75.5 441.0,71.8 441.2,68.4 441.4,65.3 441.7,62.6 441.9,60.2 442.1,58.0 442.4,56.2 442.6,54.5 442.8,53.0 443.1,51.8 443.3,50.7 443.5,49.8 443.8,49.0 444.0,48.4 444.2,47.9 444.5,47.6 444.7,47.3 444.9,47.2 445.2,47.1 445.4,47.1 445.6,47.3 445.9,47.5 446.1,47.8 446.3,48.2 446.6,48.7 446.8,49.3 447.0,50.0 447.3,50.8 447.5,51.7 447.7,52.6 448.0,53.7 448.2,54.8 448.4,56.0 448.7,57.3 448.9,58.7 449.1,60.1 449.4,61.6 449.6,63.1 449.8,64.6 450.1,66.2 450.3,67.8 450.5,69.4 450.8,71.1 451.0,72.8 451.2,74.5 451.5,76.3 451.7,78.1 451.9,80.0 452.2,81.8 452.4,83.7 452.6,85.7 452.9,87.6 453.1,89.6 453.3,91.6 453.6,93.6 453.8,95.6 454.0,97.7 454.3,99.7 454.5,101.8 454.7,103.8 455.0,105.9 455.2,107.9 455.4,110.0 455.7,112.0 455.9,114.0 456.1,116.0 456.4,118.0 456.6,120.0 456.8,121.9 457.1,123.8 457.3,125.7 457.5,127.6 457.8,129.5 458.0,131.3 458.2,133.0 458.5,134.8 458.7,136.5 458.9,138.1 459.2,139.8 459.4,141.4 459.6,142.9 459.9,144.4 460.1,145.9 460.3,147.3 460.6,148.7 460.8,150.0 461.0,151.3 461.3,152.5 461.5,153.7 461.7,154.8 462.0,155.9 462.2,156.9 462.4,157.9 462.7,158.8 462.9,159.7 463.1,160.5 463.4,161.2 463.6,161.9 463.8,162.5 464.1,163.1 464.3,163.6 464.5,164.0 464.8,164.3 465.0,164.6 465.2,164.7 465.5,164.8 465.7,164.8 465.9,164.7 466.2,164.5 466.4,164.1 466.6,163.7 466.9,163.1 467.1,162.3 467.3,161.5 467.6,160.4 467.8,159.2 468.0,157.8 468.3,156.2 468.5,154.3 468.7,152.2 469.0,149.9 469.2,147.3 469.4,144.3 469.7,141.1 469.9,137.4 470.1,133.5 470.4,129.2 470.6,124.6 470.8,119.7 471.1,114.5 471.3,109.3 471.5,104.0 471.8,98.7 472.0,93.7 472.2,88.8 472.5,84.3 472.7,80.1 473.0,76.3 473.2,72.8 473.4,69.6 473.7,66.8 473.9,64.2 474.1,62.0 474.4,60.0 474.6,58.3 474.8,56.8 475.1,55.5 475.3,54.3 475.5,53.4 475.8,52.7 476.0,52.0 476.2,51.6 476.5,51.2 476.7,51.0 476.9,50.9 477.2,51.0 477.4,51.1 477.6,51.3 477.9,51.6 478.1,52.0 478.3,52.5 478.6,53.1 478.8,53.7 479.0,54.5 479.3,55.3 479.5,56.1 479.7,57.1 480.0,58.1 480.2,59.1 480.4,60.2 480.7,61.4 480.9,62.7 481.1,64.0 481.4,65.3 481.6,66.7 481.8,68.2 482.1,69.7 482.3,71.2 482.5,72.8 482.8,74.5 483.0,76.2 483.2,77.9 483.5,79.7 483.7,81.5 483.9,83.3 484.2,85.2 484.4,87.1 484.6,89.1 484.9,91.1 485.1,93.1 485.3,95.1 485.6,97.2 485.8,99.2 486.0,101.3 486.3,103.5 486.5,105.6 486.7,107.7 487.0,109.8 487.2,111.9 487.4,114.1 487.7,116.2 487.9,118.2 488.1,120.3 488.4,122.4 488.6,124.4 488.8,126.4 489.1,128.4 489.3,130.3 489.5,132.2 489.8,134.1 490.0,136.0 490.2,137.8 490.5,139.5 490.7,141.2 490.9,142.9 491.2,144.6 491.4,146.1 491.6,147.7 491.9,149.2 492.1,150.6 492.3,152.0 492.6,153.3 492.8,154.6 493.0,155.9 493.3,157.0 493.5,158.2 493.7,159.2 494.0,160.2 494.2,161.2 494.4,162.0 494.7,162.8 494.9,163.6 495.1,164.3 495.4,164.9 495.6,165.4 495.8,165.8 496.1,166.2 496.3,166.4 496.5,166.6 496.8,166.6 497.0,166.4 497.2,166.2 497.5,165.8 497.7,165.2 497.9,164.4 498.2,163.5 498.4,162.3 498.6,160.9 498.9,159.2 499.1,157.3 499.3,155.0 499.6,152.5 499.8,149.6 500.0,146.3 500.3,142.8 500.5,138.8 500.7,134.6 501.0,130.0 501.2,125.3 501.4,120.3 501.7,115.2 501.9,110.1 502.1,105.1 502.4,100.3 502.6,95.6 502.8,91.2 503.1,87.1 503.3,83.3 503.5,79.8 503.8,76.6 504.0,73.7 504.2,71.1 504.5,68.8 504.7,66.8 504.9,65.0 505.2,63.4 505.4,62.1 505.6,61.0 505.9,60.1 506.1,59.3 506.3,58.8 506.6,58.4 506.8,58.1 507.0,58.0 507.3,58.0 507.5,58.2 507.7,58.5 508.0,58.9 508.2,59.4 508.4,60.0 508.7,60.7 508.9,61.5 509.1,62.4 509.4,63.3 509.6,64.4 509.8,65.5 510.1,66.7 510.3,67.9 510.5,69.2 510.8,70.6 511.0,72.1 511.3,73.6 511.5,75.2 511.7,76.8 512.0,78.4 512.2,80.1 512.4,81.9 512.7,83.7 512.9,85.5 513.1,87.4 513.4,89.3 513.6,91.3 513.8,93.2 514.1,95.2 514.3,97.3 514.5,99.3 514.8,101.4 515.0,103.5 515.2,105.6 515.5,107.7 515.7,109.8 515.9,111.9 516.2,114.0 516.4,116.1 516.6,118.3 516.9,120.4 517.1,122.5 517.3,124.6 517.6,126.6 517.8,128.7 518.0,130.7 518.3,132.7 518.5,134.6 518.7,136.6 519.0,138.5 519.2,140.4 519.4,142.2 519.7,144.0 519.9,145.8 520.1,147.5 520.4,149.1 520.6,150.8 520.8,152.4 521.1,153.9 521.3,155.4 521.5,156.8 521.8,158.2 522.0,159.5 522.2,160.8 522.5,162.0 522.7,163.1 522.9,164.2 523.2,165.2 523.4,166.2 523.6,167.1 523.9,167.9 524.1,168.6 524.3,169.3 524.6,169.9 524.8,170.3 525.0,170.7 525.3,171.0 525.5,171.2 525.7,171.2" style="fill:none;stroke:#ff0000;stroke-width:1.4;stroke-dasharray:4.4 4.4"/>
<polyline points="229.3,461.4 230.0,459.9 230.7,458.4 231.4,457.1 232.1,455.9 232.8,454.7 233.5,453.7 234.2,452.7 234.9,451.7 235.6,450.9 236.3,450.0 237.0,449.3 237.7,448.5 238.4,447.9 239.1,447.2 239.8,446.6 240.5,446.0 241.2,445.4 241.9,444.9 242.6,444.4 243.3,443.9 244.0,443.5 244.7,443.0 245.4,442.6 246.1,442.2 246.8,441.8 247.5,441.4 248.2,441.0 248.9,440.7 249.6,440.3 250.3,440.0 251.0,439.7 251.7,439.4 252.4,439.0 253.1,438.7 253.8,438.4 254.5,438.2 255.2,437.9 255.8,437.6 256.5,437.3 257.2,437.1 257.9,436.8 258.6,436.5 259.3,436.3 260.0,436.0 260.7,435.8 261.4,435.6 262.1,435.3 262.8,435.1 263.5,434.8 264.2,434.6 264.9,434.4 265.6,434.2 266.3,433.9 267.0,433.7 267.7,433.5 268.4,433.3 269.1,433.0 269.8,432.8 270.5,432.6 271.2,432.4 271.9,432.2 272.6,431.9 273.3,431.7 274.0,431.5 274.7,431.3 275.4,431.1 276.1,430.9 276.8,430.7 277.5,430.4 278.2,430.2 278.9,430.0 279.6,429.8 280.3,429.6 281.0,429.4 281.7,429.2 282.4,429.0 283.1,428.7 283.8,428.5 284.5,428.3 285.2,428.1 285.9,427.9 286.6,427.7 287.3,427.4 288.0,427.2 288.7,427.0 289.4,426.8 290.1,426.6 290.8,426.3 291.5,426.1 292.2,425.9 292.9,425.7 293.6,425.5 294.3,425.2 295.0,425.0 295.7,424.8 296.4,424.6 297.1,424.3 297.8,424.1 298.5,423.9 299.2,423.6 299.9,423.4 300.6,423.2 301.3,422.9 302.0,422.7 302.7,422.5 303.4,422.2 304.1,422.0 304.8,421.8 305.5,421.5 306.2,421.3 306.9,421.0 307.6,420.8 308.2,420.6 308.9,420.3 309.6,420.1 310.3,419.8 311.0,419.6 311.7,419.3 312.4,419.1 313.1,418.8 313.8,418.6 314.5,418.3 315.2,418.0 315.9,417.8 316.6,417.5 317.3,417.3 318.0,417.0 318.7,416.7 319.4,416.5 320.1,416.2 320.8,415.9 321.5,415.7 322.2,415.4 322.9,415.1 323.6,414.9 324.3,414.6 325.0,414.3 325.7,414.0 326.4,413.8 327.1,413.5 327.8,413.2 328.5,412.9 329.2,412.6 329.9,412.3 330.6,412.1 331.3,411.8 332.0,411.5 332.7,411.2 333.4,410.9 334.1,410.6 334.8,410.3 335.5,410.0 336.2,409.7 336.9,409.4 337.6,409.1 338.3,408.8 339.0,408.5 339.7,408.2 340.4,407.9 341.1,407.6 341.8,407.3 342.5,407.0 343.2,406.6 343.9,406.3 344.6,406.0 345.3,405.7 346.0,405.4 346.7,405.1 347.4,404.7 348.1,404.4 348.8,404.1 349.5,403.7 350.2,403.4 350.9,403.1 351.6,402.8 352.3,402.4 353.0,402.1 353.7,401.7 354.4,401.4 355.1,401.1 355.8,400.7 356.5,400.4 357.2,400.0 357.9,399.7 358.6,399.3 359.3,399.0 359.9,398.6 360.6,398.3 361.3,397.9 362.0,397.6 362.7,397.2 363.4,396.8 364.1,396.5 364.8,396.1 365.5,395.7 366.2,395.4 366.9,395.0 367.6,394.6 368.3,394.3 369.0,393.9 369.7,393.5 370.4,393.1 371.1,392.7 371.8,392.4 372.5,392.0 373.2,391.6 373.9,391.2 374.6,390.8 375.3,390.4 376.0,390.0 376.7,389.6 377.4,389.2 378.1,388.8 378.8,388.4 379.5,388.0 380.2,387.6 380.9,387.2 381.6,386.8 382.3,386.4 383.0,386.0 383.7,385.6 384.4,385.1 385.1,384.7 385.8,384.3 386.5,383.9 387.2,383.5 387.9,383.0 388.6,382.6 389.3,382.2 390.0,381.8 390.7,381.3 391.4,380.9 392.1,380.4 392.8,380.0 393.5,379.6 394.2,379.1 394.9,378.7 395.6,378.2 396.3,377.8 397.0,377.3 397.7,376.9 398.4,376.4 399.1,376.0 399.8,375.5 400.5,375.0 401.2,374.6 401.9,374.1 402.6,373.6 403.3,373.2 404.0,372.7 404.7,372.2 405.4,371.7 406.1,371.3 406.8,370.8 407.5,370.3 408.2,369.8 408.9,369.3 409.6,368.8 410.3,368.4 411.0,367.9 411.7,367.4 412.3,366.9 413.0,366.4 413.7,365.9 414.4,365.4 415.1,364.9 415.8,364.4 416.5,363.8 417.2,363.3 417.9,362.8 418.6,362.3 419.3,361.8 420.0,361.3 420.7,360.7 421.4,360.2 422.1,359.7 422.8,359.1 423.5,358.6 424.2,358.1 424.9,357.5 425.6,357.0 426.3,356.5 427.0,355.9 427.7,355.4 428.4,354.8 429.1,354.3 429.8,353.7 430.5,353.2 431.2,352.6 431.9,352.0 432.6,351.5 433.3,350.9 434.0,350.3 434.7,349.8 435.4,349.2 436.1,348.6 436.8,348.1 437.5,347.5 438.2,346.9" style="fill:none;stroke:#ff0000;stroke-width:1.6;stroke-linecap:round"/>
<line x1="0.50" y1="207.10" x2="241.80" y2="207.10" style="stroke:#3c3c3c;stroke-width:1.0;stroke-dasharray:4.175 4.175;stroke-dashoffset:6.650"/>
<line x1="0.50" y1="207.10" x2="0.50" y2="7.20" style="stroke:#3c3c3c;stroke-width:1.0;stroke-dasharray:4.175 4.175;stroke-dashoffset:0.000"/>
<line x1="0.50" y1="7.20" x2="241.80" y2="7.20" style="stroke:#3c3c3c;stroke-width:1.0;stroke-dasharray:4.175 4.175;stroke-dashoffset:7.650"/>
<line x1="241.80" y1="207.10" x2="241.80" y2="7.20" style="stroke:#3c3c3c;stroke-width:1.0;stroke-dasharray:4.175 4.175;stroke-dashoffset:5.950"/>
<line x1="304.90" y1="206.30" x2="548.00" y2="206.30" style="stroke:#3c3c3c;stroke-width:1.0;stroke-dasharray:4.175 4.175;stroke-dashoffset:7.750"/>
<line x1="304.90" y1="206.30" x2="304.90" y2="5.60" style="stroke:#3c3c3c;stroke-width:1.0;stroke-dasharray:4.175 4.175;stroke-dashoffset:0.000"/>
<line x1="304.90" y1="5.60" x2="548.00" y2="5.60" style="stroke:#3c3c3c;stroke-width:1.0;stroke-dasharray:4.175 4.175;stroke-dashoffset:6.850"/>
<line x1="548.00" y1="206.30" x2="548.00" y2="5.60" style="stroke:#3c3c3c;stroke-width:1.0;stroke-dasharray:4.175 4.175;stroke-dashoffset:5.450"/>
<line x1="208.40" y1="512.30" x2="459.70" y2="512.30" style="stroke:#3c3c3c;stroke-width:1.0;stroke-dasharray:4.350 4.350;stroke-dashoffset:0.000"/>
<line x1="208.40" y1="512.30" x2="208.40" y2="304.60" style="stroke:#3c3c3c;stroke-width:1.0;stroke-dasharray:4.350 4.350;stroke-dashoffset:0.000"/>
<line x1="208.40" y1="304.60" x2="459.70" y2="304.60" style="stroke:#3c3c3c;stroke-width:1.0;stroke-dasharray:4.350 4.350;stroke-dashoffset:0.000"/>
<line x1="459.70" y1="512.30" x2="459.70" y2="304.60" style="stroke:#3c3c3c;stroke-width:1.0;stroke-dasharray:4.350 4.350;stroke-dashoffset:0.000"/>
<rect x="4.50" y="10.50" width="233.30" height="20.20" style="fill:#fff;stroke:#555;stroke-width:1"/>
<line x1="9.10" y1="20.60" x2="32.90" y2="20.60" style="stroke:#ff8000;stroke-width:1.4"/>
<text x="35.67" y="24.10" font-size="12.4" textLength="10.65" lengthAdjust="spacingAndGlyphs" fill="#000">Δ</text>
<text x="49.44" y="24.20" font-size="11.8" textLength="13.07" lengthAdjust="spacingAndGlyphs" fill="#000">55</text>
<circle cx="64.40" cy="17.05" r="1.2" style="fill:none;stroke:#000;stroke-width:0.75"/>
<line x1="68.95" y1="20.60" x2="92.75" y2="20.60" style="stroke:#1e8c1e;stroke-width:1.4"/>
<text x="95.52" y="24.10" font-size="12.4" textLength="10.65" lengthAdjust="spacingAndGlyphs" fill="#000">Δ</text>
<text x="109.50" y="24.20" font-size="11.8" textLength="12.84" lengthAdjust="spacingAndGlyphs" fill="#000">60</text>
<circle cx="124.25" cy="17.05" r="1.2" style="fill:none;stroke:#000;stroke-width:0.75"/>
<line x1="128.80" y1="20.60" x2="152.60" y2="20.60" style="stroke:#0000ff;stroke-width:1.4"/>
<text x="155.37" y="24.10" font-size="12.4" textLength="10.65" lengthAdjust="spacingAndGlyphs" fill="#000">Δ</text>
<text x="169.35" y="24.20" font-size="11.8" textLength="12.85" lengthAdjust="spacingAndGlyphs" fill="#000">65</text>
<circle cx="184.10" cy="17.05" r="1.2" style="fill:none;stroke:#000;stroke-width:0.75"/>
<line x1="188.40" y1="20.60" x2="209.70" y2="20.60" style="stroke:#ff0000;stroke-width:1.4;stroke-dasharray:4.4 3.4"/>
<text x="215.62" y="24.00" font-size="12.0" textLength="14.66" lengthAdjust="spacingAndGlyphs" fill="#000">Fit</text>
<rect x="309.80" y="9.00" width="233.30" height="20.20" style="fill:#fff;stroke:#555;stroke-width:1"/>
<line x1="314.40" y1="19.10" x2="338.20" y2="19.10" style="stroke:#ff8000;stroke-width:1.4"/>
<text x="340.97" y="22.60" font-size="12.4" textLength="10.65" lengthAdjust="spacingAndGlyphs" fill="#000">Δ</text>
<text x="354.74" y="22.70" font-size="11.8" textLength="13.07" lengthAdjust="spacingAndGlyphs" fill="#000">55</text>
<circle cx="369.70" cy="15.55" r="1.2" style="fill:none;stroke:#000;stroke-width:0.75"/>
<line x1="374.25" y1="19.10" x2="398.05" y2="19.10" style="stroke:#1e8c1e;stroke-width:1.4"/>
<text x="400.82" y="22.60" font-size="12.4" textLength="10.65" lengthAdjust="spacingAndGlyphs" fill="#000">Δ</text>
<text x="414.80" y="22.70" font-size="11.8" textLength="12.84" lengthAdjust="spacingAndGlyphs" fill="#000">60</text>
<circle cx="429.55" cy="15.55" r="1.2" style="fill:none;stroke:#000;stroke-width:0.75"/>
<line x1="434.10" y1="19.10" x2="457.90" y2="19.10" style="stroke:#0000ff;stroke-width:1.4"/>
<text x="460.67" y="22.60" font-size="12.4" textLength="10.65" lengthAdjust="spacingAndGlyphs" fill="#000">Δ</text>
<text x="474.65" y="22.70" font-size="11.8" textLength="12.85" lengthAdjust="spacingAndGlyphs" fill="#000">65</text>
<circle cx="489.40" cy="15.55" r="1.2" style="fill:none;stroke:#000;stroke-width:0.75"/>
<line x1="493.70" y1="19.10" x2="515.00" y2="19.10" style="stroke:#ff0000;stroke-width:1.4;stroke-dasharray:4.4 3.4"/>
<text x="520.92" y="22.50" font-size="12.0" textLength="14.66" lengthAdjust="spacingAndGlyphs" fill="#000">Fit</text>
<text x="20.39" y="222.20" font-size="15.2" textLength="7.60" lengthAdjust="spacingAndGlyphs" fill="#000">1</text>
<text x="69.06" y="222.20" font-size="15.2" textLength="7.60" lengthAdjust="spacingAndGlyphs" fill="#000">2</text>
<text x="117.28" y="222.20" font-size="15.2" textLength="7.60" lengthAdjust="spacingAndGlyphs" fill="#000">3</text>
<text x="165.70" y="222.20" font-size="15.2" textLength="7.60" lengthAdjust="spacingAndGlyphs" fill="#000">4</text>
<text x="213.96" y="222.20" font-size="15.2" textLength="7.60" lengthAdjust="spacingAndGlyphs" fill="#000">5</text>
<text x="324.89" y="222.20" font-size="15.2" textLength="7.60" lengthAdjust="spacingAndGlyphs" fill="#000">1</text>
<text x="373.79" y="222.20" font-size="15.2" textLength="7.60" lengthAdjust="spacingAndGlyphs" fill="#000">2</text>
<text x="422.23" y="222.20" font-size="15.2" textLength="7.60" lengthAdjust="spacingAndGlyphs" fill="#000">3</text>
<text x="470.87" y="222.20" font-size="15.2" textLength="7.60" lengthAdjust="spacingAndGlyphs" fill="#000">4</text>
<text x="519.36" y="222.20" font-size="15.2" textLength="7.60" lengthAdjust="spacingAndGlyphs" fill="#000">5</text>
<text x="238.29" y="527.90" font-size="15.2" textLength="7.60" lengthAdjust="spacingAndGlyphs" fill="#000">1</text>
<text x="286.99" y="527.90" font-size="15.2" textLength="7.60" lengthAdjust="spacingAndGlyphs" fill="#000">2</text>
<text x="335.23" y="527.90" font-size="15.2" textLength="7.60" lengthAdjust="spacingAndGlyphs" fill="#000">3</text>
<text x="383.67" y="527.90" font-size="15.2" textLength="7.60" lengthAdjust="spacingAndGlyphs" fill="#000">4</text>
<text x="431.96" y="527.90" font-size="15.2" textLength="7.60" lengthAdjust="spacingAndGlyphs" fill="#000">5</text>
<text x="247.12" y="187.35" font-size="15.2" textLength="15.47" lengthAdjust="spacingAndGlyphs" fill="#000">20</text>
<text x="247.51" y="137.35" font-size="15.2" textLength="15.07" lengthAdjust="spacingAndGlyphs" fill="#000">40</text>
<text x="247.14" y="87.35" font-size="15.2" textLength="15.45" lengthAdjust="spacingAndGlyphs" fill="#000">60</text>
<text x="247.21" y="37.35" font-size="15.2" textLength="15.37" lengthAdjust="spacingAndGlyphs" fill="#000">80</text>
<text x="553.09" y="211.78" font-size="15.2" textLength="15.71" lengthAdjust="spacingAndGlyphs" fill="#000">50</text>
<text x="552.59" y="171.45" font-size="15.2" textLength="24.02" lengthAdjust="spacingAndGlyphs" fill="#000">100</text>
<text x="552.59" y="131.12" font-size="15.2" textLength="24.02" lengthAdjust="spacingAndGlyphs" fill="#000">150</text>
<text x="553.32" y="90.78" font-size="15.2" textLength="23.27" lengthAdjust="spacingAndGlyphs" fill="#000">200</text>
<text x="553.32" y="50.45" font-size="15.2" textLength="23.27" lengthAdjust="spacingAndGlyphs" fill="#000">250</text>
<text x="553.26" y="10.12" font-size="15.2" textLength="23.34" lengthAdjust="spacingAndGlyphs" fill="#000">300</text>
<text x="181.83" y="517.36" font-size="15.2" textLength="20.93" lengthAdjust="spacingAndGlyphs" fill="#000">1.4</text>
<text x="174.78" y="448.12" font-size="15.2" textLength="28.36" lengthAdjust="spacingAndGlyphs" fill="#000">1.45</text>
<text x="181.80" y="378.89" font-size="15.2" textLength="21.37" lengthAdjust="spacingAndGlyphs" fill="#000">1.5</text>
<text x="174.78" y="309.65" font-size="15.2" textLength="28.36" lengthAdjust="spacingAndGlyphs" fill="#000">1.55</text>
<text x="53.51" y="243.90" font-size="16.2" textLength="48.15" lengthAdjust="spacingAndGlyphs" fill="#000">Photon</text>
<text x="107.34" y="243.90" font-size="16.2" textLength="46.32" lengthAdjust="spacingAndGlyphs" fill="#000">Energy</text>
<text x="159.28" y="243.90" font-size="16.2" textLength="29.83" lengthAdjust="spacingAndGlyphs" fill="#000">(eV)</text>
<text x="358.41" y="244.20" font-size="16.2" textLength="48.15" lengthAdjust="spacingAndGlyphs" fill="#000">Photon</text>
<text x="412.24" y="244.20" font-size="16.2" textLength="46.32" lengthAdjust="spacingAndGlyphs" fill="#000">Energy</text>
<text x="464.17" y="244.20" font-size="16.2" textLength="30.57" lengthAdjust="spacingAndGlyphs" fill="#000">(eV)</text>
<text x="263.39" y="551.20" font-size="16.524" textLength="50.08" lengthAdjust="spacingAndGlyphs" fill="#000">Photon</text>
<text x="319.42" y="551.20" font-size="16.524" textLength="48.15" lengthAdjust="spacingAndGlyphs" fill="#000">Energy</text>
<text x="373.55" y="551.20" font-size="16.524" textLength="31.09" lengthAdjust="spacingAndGlyphs" fill="#000">(eV)</text>
<text x="69.99" y="271.90" font-size="15.0" textLength="18.03" lengthAdjust="spacingAndGlyphs" fill="#000">(a)</text>
<text x="93.86" y="271.90" font-size="15.0" textLength="10.07" lengthAdjust="spacingAndGlyphs" fill="#000">Ψ</text>
<text x="109.29" y="271.90" font-size="15.0" textLength="12.62" lengthAdjust="spacingAndGlyphs" fill="#000">at</text>
<text x="126.45" y="271.90" font-size="15.0" textLength="52.14" lengthAdjust="spacingAndGlyphs" fill="#000">different</text>
<text x="184.26" y="271.90" font-size="15.0" textLength="39.30" lengthAdjust="spacingAndGlyphs" fill="#000">angles</text>
<text x="378.17" y="271.90" font-size="15.0" textLength="19.47" lengthAdjust="spacingAndGlyphs" fill="#000">(b)</text>
<text x="402.48" y="271.90" font-size="15.0" textLength="12.13" lengthAdjust="spacingAndGlyphs" fill="#000">Δ</text>
<text x="419.29" y="271.90" font-size="15.0" textLength="12.62" lengthAdjust="spacingAndGlyphs" fill="#000">at</text>
<text x="436.35" y="271.90" font-size="15.0" textLength="52.14" lengthAdjust="spacingAndGlyphs" fill="#000">different</text>
<text x="494.16" y="271.90" font-size="15.0" textLength="39.09" lengthAdjust="spacingAndGlyphs" fill="#000">angles</text>
<text x="240.61" y="579.40" font-size="15.0" textLength="17.38" lengthAdjust="spacingAndGlyphs" fill="#000">(c)</text>
<text x="263.86" y="579.40" font-size="15.0" textLength="64.18" lengthAdjust="spacingAndGlyphs" fill="#000">Refractive</text>
<text x="330.85" y="579.40" font-size="15.0" textLength="36.55" lengthAdjust="spacingAndGlyphs" fill="#000">index</text>
<text transform="translate(284.90,132.50) rotate(-90)" x="-0.72" y="0" font-size="16.4" textLength="12.24" lengthAdjust="spacingAndGlyphs">Δ</text>
<text transform="translate(284.90,113.80) rotate(-90)" x="-0.69" y="0" font-size="16.4" textLength="33.18" lengthAdjust="spacingAndGlyphs">(deg)</text>
<text transform="translate(598.00,131.30) rotate(-90)" x="-0.69" y="0" font-size="16.4" textLength="11.67" lengthAdjust="spacingAndGlyphs">Δ</text>
<text transform="translate(598.00,113.30) rotate(-90)" x="-0.71" y="0" font-size="16.4" textLength="33.91" lengthAdjust="spacingAndGlyphs">(deg)</text>
<text transform="translate(165.00,464.30) rotate(-90)" x="-0.53" y="0" font-size="16.4" textLength="76.77" lengthAdjust="spacingAndGlyphs">Refractive</text>
<text transform="translate(165.00,384.00) rotate(-90)" x="-0.53" y="0" font-size="16.4" textLength="33.61" lengthAdjust="spacingAndGlyphs">Index</text>
<rect x="216.3" y="311.0" width="72.7" height="24.3" style="fill:#fff;stroke:#555;stroke-width:1"/>
<line x1="220.4" y1="323.2" x2="246.4" y2="323.2" style="stroke:#ff0000;stroke-width:3.4"/>
<text x="248.67" y="327.60" font-size="16.8" textLength="26.22" lengthAdjust="spacingAndGlyphs" fill="#000">SiO</text>
<text x="274.80" y="329.70" font-size="10.6" textLength="6.86" lengthAdjust="spacingAndGlyphs" fill="#000">2</text>
</svg>
</body></html>
